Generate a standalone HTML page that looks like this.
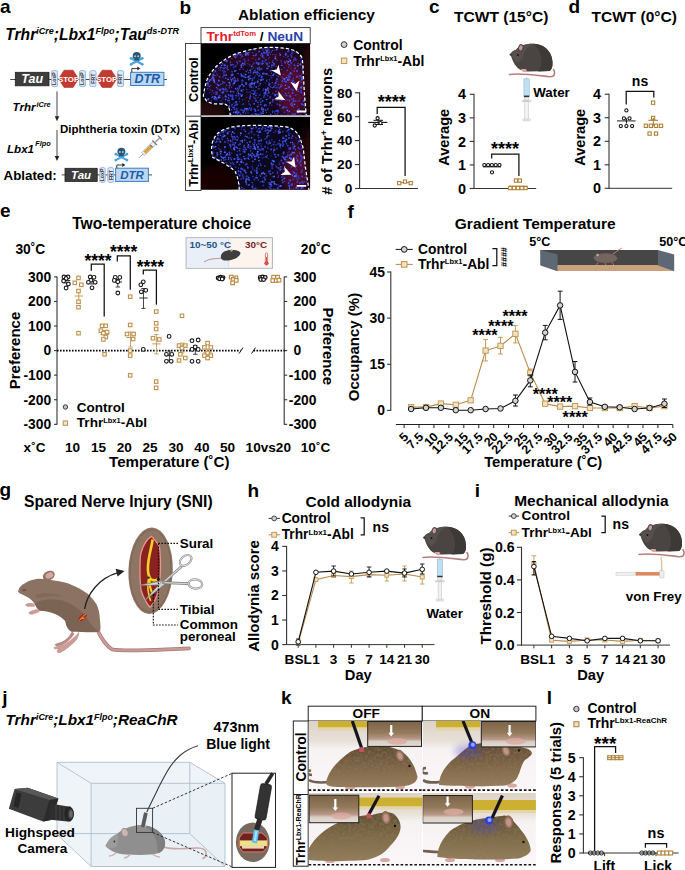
<!DOCTYPE html>
<html><head><meta charset="utf-8"><style>
html,body{margin:0;padding:0;background:#fff;width:685px;height:870px;overflow:hidden}
svg{display:block;font-family:"Liberation Sans", sans-serif}
</style></head><body>
<svg width="685" height="870" viewBox="0 0 685 870">
<rect width="685" height="870" fill="#fff"/>
<text x="0" y="13.3" font-size="19" text-anchor="start" fill="#000" font-weight="bold"><tspan>a</tspan></text>
<text x="5.3" y="39.6" font-size="15.6" text-anchor="start" fill="#000" font-weight="bold" font-style="italic"><tspan>Trhr</tspan><tspan dy="-5.3" font-size="9.05">iCre</tspan><tspan dy="5.3">;Lbx1</tspan><tspan dy="-5.3" font-size="9.05">Flpo</tspan><tspan dy="5.3">;Tau</tspan><tspan dy="-5.3" font-size="9.05">ds-DTR</tspan></text>
<line x1="10.2" y1="79.5" x2="167" y2="79.5" stroke="#333" stroke-width="0.9"/>
<rect x="15.3" y="72.3" width="33.7" height="13.5" fill="#3d3d3d" stroke="#222" stroke-width="0.8" rx="0"/>
<text x="32.15" y="83.45" font-size="12.5" text-anchor="middle" fill="#fff" font-weight="bold" font-style="italic"><tspan>Tau</tspan></text>
<rect x="51.6" y="70.6" width="6.0" height="16.0" fill="#dde9f7" stroke="#86a9d8" stroke-width="0.8" rx="1.6"/>
<text x="56.4" y="78.6" font-size="5.2" text-anchor="middle" fill="#333" font-weight="bold" transform="rotate(-90 56.4 78.6)"><tspan>LoxP</tspan></text>
<path d="M64.0 70.2 L73.1 70.2 L78.5 78.8 L73.1 87.4 L64.0 87.4 L58.6 78.8Z" fill="#c23a30" stroke="#a8302a" stroke-width="0.6"/>
<text x="68.55" y="81.60000000000001" font-size="7.8" text-anchor="middle" fill="#fff" font-weight="bold"><tspan>STOP</tspan></text>
<rect x="79.5" y="70.6" width="6.099999999999994" height="16.0" fill="#dde9f7" stroke="#86a9d8" stroke-width="0.8" rx="1.6"/>
<text x="84.35" y="78.6" font-size="5.2" text-anchor="middle" fill="#333" font-weight="bold" transform="rotate(-90 84.35 78.6)"><tspan>LoxP</tspan></text>
<rect x="89.8" y="70.6" width="6.200000000000003" height="16.0" fill="#dde9f7" stroke="#86a9d8" stroke-width="0.8" rx="1.6"/>
<text x="94.7" y="78.6" font-size="5.2" text-anchor="middle" fill="#333" font-weight="bold" transform="rotate(-90 94.7 78.6)"><tspan>FRT</tspan></text>
<path d="M102.1 70.2 L111.3 70.2 L116.8 78.8 L111.3 87.4 L102.1 87.4 L96.6 78.8Z" fill="#c23a30" stroke="#a8302a" stroke-width="0.6"/>
<text x="106.69999999999999" y="81.60000000000001" font-size="7.8" text-anchor="middle" fill="#fff" font-weight="bold"><tspan>STOP</tspan></text>
<rect x="117.4" y="70.6" width="6.199999999999989" height="16.0" fill="#dde9f7" stroke="#86a9d8" stroke-width="0.8" rx="1.6"/>
<text x="122.3" y="78.6" font-size="5.2" text-anchor="middle" fill="#333" font-weight="bold" transform="rotate(-90 122.3 78.6)"><tspan>FRT</tspan></text>
<rect x="130.6" y="72.3" width="33.30000000000001" height="13.200000000000003" fill="#bcd7f1" stroke="#3d7dc6" stroke-width="1" rx="0"/>
<text x="147.25" y="83.30000000000001" font-size="12.5" text-anchor="middle" fill="#1d5ca6" font-weight="bold" font-style="italic"><tspan>DTR</tspan></text>
<path d="M131.8 72.3 V68.6 H137.8" fill="none" stroke="#222" stroke-width="0.9"/>
<path d="M140.3 68.6 l-3 -2 v4z" fill="#222" stroke="none" stroke-width="1"/>
<path d="M131.1 58.3 L142.29999999999998 64.3" fill="none" stroke="#4aa3df" stroke-width="2.1" stroke-linecap="round"/>
<circle cx="131.1" cy="58.3" r="1.3" fill="#4aa3df" stroke="none" stroke-width="0"/>
<circle cx="142.29999999999998" cy="64.3" r="1.3" fill="#4aa3df" stroke="none" stroke-width="0"/>
<path d="M131.1 64.3 L142.29999999999998 58.3" fill="none" stroke="#4aa3df" stroke-width="2.1" stroke-linecap="round"/>
<circle cx="131.1" cy="64.3" r="1.3" fill="#4aa3df" stroke="none" stroke-width="0"/>
<circle cx="142.29999999999998" cy="58.3" r="1.3" fill="#4aa3df" stroke="none" stroke-width="0"/>
<path d="M132.7 55.9 a4.0 4.0 0 1 1 8.0 0 c0 1.6 -0.6 2.4 -1.6 2.9 v1.6 h-4.8 v-1.6 c-1 -0.5 -1.6 -1.3 -1.6 -2.9z" fill="#2c5670"/>
<circle cx="135.2" cy="56.199999999999996" r="1.0" fill="#9cc7e8" stroke="none" stroke-width="0"/>
<circle cx="138.2" cy="56.199999999999996" r="1.0" fill="#9cc7e8" stroke="none" stroke-width="0"/>
<line x1="57" y1="91.4" x2="57" y2="118" stroke="#444" stroke-width="1"/>
<path d="M57 121.3 l-2.3 -5 h4.6z" fill="#222" stroke="none" stroke-width="1"/>
<line x1="57" y1="130" x2="57" y2="157.5" stroke="#444" stroke-width="1"/>
<path d="M57 160.9 l-2.3 -5 h4.6z" fill="#222" stroke="none" stroke-width="1"/>
<text x="12.6" y="111.1" font-size="11.6" font-weight="bold" font-style="italic">Trhr<tspan dx="0.8" dy="-4.6" font-size="7.3">iCre</tspan></text>
<text x="60" y="132.7" font-size="11.5" text-anchor="start" fill="#000" font-weight="bold"><tspan>Diphtheria toxin (DTx)</tspan></text>
<text x="7" y="152.9" font-size="11.6" font-weight="bold" font-style="italic">Lbx1<tspan dx="1.3" dy="-7" font-size="7.3">Flpo</tspan></text>
<text x="3.6" y="179.5" font-size="13.3" text-anchor="start" fill="#000" font-weight="bold"><tspan>Ablated:</tspan></text>
<line x1="61.7" y1="174.9" x2="152" y2="174.9" stroke="#333" stroke-width="0.9"/>
<rect x="65" y="168.3" width="32.2" height="13.099999999999994" fill="#3d3d3d" stroke="#222" stroke-width="0.8" rx="0"/>
<text x="81.1" y="179.25000000000003" font-size="11.5" text-anchor="middle" fill="#fff" font-weight="bold" font-style="italic"><tspan>Tau</tspan></text>
<rect x="99.8" y="167.6" width="5.400000000000006" height="14.800000000000011" fill="#dde9f7" stroke="#86a9d8" stroke-width="0.8" rx="1.6"/>
<text x="104.3" y="175.0" font-size="5.2" text-anchor="middle" fill="#333" font-weight="bold" transform="rotate(-90 104.3 175.0)"><tspan>LoxP</tspan></text>
<rect x="107.8" y="167.6" width="5.799999999999997" height="14.800000000000011" fill="#dde9f7" stroke="#86a9d8" stroke-width="0.8" rx="1.6"/>
<text x="112.49999999999999" y="175.0" font-size="5.2" text-anchor="middle" fill="#333" font-weight="bold" transform="rotate(-90 112.49999999999999 175.0)"><tspan>FRT</tspan></text>
<rect x="115.6" y="168.2" width="32.80000000000001" height="13.200000000000017" fill="#bcd7f1" stroke="#3d7dc6" stroke-width="1" rx="0"/>
<text x="132.0" y="179.20000000000002" font-size="11.5" text-anchor="middle" fill="#1d5ca6" font-weight="bold" font-style="italic"><tspan>DTR</tspan></text>
<path d="M116.8 168.2 V165 H122.8" fill="none" stroke="#222" stroke-width="0.9"/>
<path d="M125.3 165 l-3 -2 v4z" fill="#222" stroke="none" stroke-width="1"/>
<path d="M115.80000000000001 154.10000000000002 L127.0 160.10000000000002" fill="none" stroke="#4aa3df" stroke-width="2.1" stroke-linecap="round"/>
<circle cx="115.80000000000001" cy="154.10000000000002" r="1.3" fill="#4aa3df" stroke="none" stroke-width="0"/>
<circle cx="127.0" cy="160.10000000000002" r="1.3" fill="#4aa3df" stroke="none" stroke-width="0"/>
<path d="M115.80000000000001 160.10000000000002 L127.0 154.10000000000002" fill="none" stroke="#4aa3df" stroke-width="2.1" stroke-linecap="round"/>
<circle cx="115.80000000000001" cy="160.10000000000002" r="1.3" fill="#4aa3df" stroke="none" stroke-width="0"/>
<circle cx="127.0" cy="154.10000000000002" r="1.3" fill="#4aa3df" stroke="none" stroke-width="0"/>
<path d="M117.4 151.70000000000002 a4.0 4.0 0 1 1 8.0 0 c0 1.6 -0.6 2.4 -1.6 2.9 v1.6 h-4.8 v-1.6 c-1 -0.5 -1.6 -1.3 -1.6 -2.9z" fill="#2c5670"/>
<circle cx="119.9" cy="152.00000000000003" r="1.0" fill="#9cc7e8" stroke="none" stroke-width="0"/>
<circle cx="122.9" cy="152.00000000000003" r="1.0" fill="#9cc7e8" stroke="none" stroke-width="0"/>
<g transform="translate(150 147.3) rotate(-44)"><line x1="-9.5" y1="0" x2="-15.5" y2="0" stroke="#777" stroke-width="0.6"/><rect x="-9.5" y="-2" width="15.5" height="4" fill="#f4f4f4" stroke="#8a8a8a" stroke-width="0.6"/><rect x="-7.6" y="-1.5" width="9" height="3" fill="#d9a23a"/><rect x="1.4" y="-1.7" width="1" height="3.4" fill="#555"/><rect x="6" y="-3.4" width="1.1" height="6.8" fill="#777"/><rect x="7.1" y="-0.8" width="6.2" height="1.6" fill="#aaa"/><rect x="13.2" y="-2.8" width="1.2" height="5.6" fill="#777"/></g>
<text x="179.6" y="14.2" font-size="19" text-anchor="start" fill="#000" font-weight="bold"><tspan>b</tspan></text>
<text x="238" y="20.4" font-size="15.4" text-anchor="start" fill="#000" font-weight="bold"><tspan>Ablation efficiency</tspan></text>
<rect x="201" y="27.6" width="109.2" height="15.9" fill="#fff" stroke="#333" stroke-width="0.9" rx="0"/>
<text x="206.5" y="41" font-size="13.7" text-anchor="start" fill="#000" font-weight="bold"><tspan fill="#e3202a">Trhr</tspan><tspan dy="-4.66" font-size="7.67" fill="#e3202a">tdTom</tspan><tspan fill="#000" dy="4.66"> / </tspan><tspan fill="#2a42aa">NeuN</tspan></text>
<rect x="185.5" y="43.5" width="15.5" height="147" fill="#fff" stroke="#333" stroke-width="0.9" rx="0"/>
<line x1="185.5" y1="116.2" x2="201" y2="116.2" stroke="#333" stroke-width="0.9"/>
<text x="197.6" y="79.5" font-size="12.6" text-anchor="middle" fill="#000" font-weight="bold" transform="rotate(-90 197.6 79.5)"><tspan>Control</tspan></text>
<text x="197.6" y="153.2" font-size="12.6" text-anchor="middle" fill="#000" font-weight="bold" transform="rotate(-90 197.6 153.2)"><tspan>Trhr</tspan><tspan dy="-4.28" font-size="7.81">Lbx1</tspan><tspan dy="4.28">-Abl</tspan></text>
<clipPath id="clip11"><rect x="201" y="43.5" width="109.2" height="72"/></clipPath>
<clipPath id="in11"><path d="M203.3 96 C205 85 207 78 209.8 74.7 C214 68 219 63 224.5 60 C230 56 236 53.5 242.5 51.8 C249 50 255 48.5 262.1 47.7 C270 47 278 47.5 285 48.2 C290 49 294 50 296.5 51.8 C299.5 54 301.5 56 302.2 58.4 C303 65 303.3 70 303.3 74.7 L304.6 96 L306.3 116 L230.2 116 C230 111 229.5 109 228.6 107.4 C227 105 226 104.3 224.5 104.1 L213.1 103.8 C210 103 208 102 206.5 100.9 Z"/></clipPath>
<g clip-path="url(#clip11)">
<rect x="201" y="43.5" width="109.2" height="72" fill="#000" stroke="none" stroke-width="1" rx="0"/>
<filter id="bl11" x="-50%" y="-50%" width="200%" height="200%"><feGaussianBlur stdDeviation="4"/></filter>
<ellipse cx="205" cy="112" rx="22" ry="10" fill="#2a0808" opacity="0.9" filter="url(#bl11)"/>
<ellipse cx="308" cy="80" rx="6" ry="40" fill="#3a0818" opacity="0.8" filter="url(#bl11)"/>
<g clip-path="url(#in11)">
<rect x="201" y="43.5" width="109.2" height="72" fill="#0b0820" stroke="none" stroke-width="1" rx="0"/>
<ellipse cx="292" cy="90" rx="16" ry="28" fill="#6a1030" opacity="0.75" filter="url(#bl11)"/>
<ellipse cx="262" cy="58" rx="40" ry="10" fill="#6a1030" opacity="0.35" filter="url(#bl11)"/>
<ellipse cx="220" cy="80" rx="14" ry="20" fill="#6a1030" opacity="0.25" filter="url(#bl11)"/>
<circle cx="250.4" cy="83.8" r="1.01" fill="#3a4ed6"/>
<circle cx="250.3" cy="105.1" r="0.64" fill="#5468ff"/>
<circle cx="253.0" cy="87.7" r="0.64" fill="#3a4ed6"/>
<circle cx="234.1" cy="50.0" r="0.95" fill="#2a34a8"/>
<circle cx="270.3" cy="86.4" r="0.75" fill="#3a4ed6"/>
<circle cx="272.4" cy="87.8" r="0.63" fill="#3346dc"/>
<circle cx="291.8" cy="48.0" r="0.57" fill="#2a3cc4"/>
<circle cx="266.5" cy="99.5" r="0.71" fill="#5468ff"/>
<circle cx="293.0" cy="80.9" r="0.87" fill="#3a4ed6"/>
<circle cx="201.5" cy="49.6" r="0.88" fill="#3a4ed6"/>
<circle cx="309.9" cy="115.2" r="0.97" fill="#2a34a8"/>
<circle cx="228.7" cy="98.1" r="0.81" fill="#3346dc"/>
<circle cx="208.7" cy="98.7" r="0.75" fill="#4559f2"/>
<circle cx="243.2" cy="112.5" r="0.97" fill="#3346dc"/>
<circle cx="224.3" cy="110.2" r="0.58" fill="#3a4ed6"/>
<circle cx="308.1" cy="72.1" r="0.59" fill="#2a34a8"/>
<circle cx="222.7" cy="92.1" r="0.72" fill="#4559f2"/>
<circle cx="237.3" cy="112.9" r="0.93" fill="#3346dc"/>
<circle cx="215.7" cy="94.4" r="0.56" fill="#3a4ed6"/>
<circle cx="288.0" cy="56.3" r="0.83" fill="#3a4ed6"/>
<circle cx="256.6" cy="114.4" r="0.93" fill="#3a4ed6"/>
<circle cx="271.3" cy="51.9" r="0.76" fill="#2a3cc4"/>
<circle cx="201.1" cy="105.7" r="1.04" fill="#5468ff"/>
<circle cx="234.2" cy="107.2" r="0.66" fill="#3a4ed6"/>
<circle cx="309.7" cy="86.8" r="0.84" fill="#3346dc"/>
<circle cx="309.0" cy="58.9" r="0.68" fill="#5468ff"/>
<circle cx="236.9" cy="64.8" r="0.59" fill="#3346dc"/>
<circle cx="223.8" cy="89.3" r="0.56" fill="#4559f2"/>
<circle cx="241.6" cy="76.1" r="1.03" fill="#3a4ed6"/>
<circle cx="291.9" cy="53.3" r="0.74" fill="#2a34a8"/>
<circle cx="217.8" cy="108.9" r="0.96" fill="#2a3cc4"/>
<circle cx="280.2" cy="54.9" r="0.86" fill="#5468ff"/>
<circle cx="222.5" cy="111.9" r="0.99" fill="#5468ff"/>
<circle cx="209.6" cy="46.9" r="0.60" fill="#5468ff"/>
<circle cx="306.1" cy="60.7" r="0.90" fill="#4559f2"/>
<circle cx="247.0" cy="108.6" r="0.80" fill="#5468ff"/>
<circle cx="220.2" cy="95.4" r="0.58" fill="#2a3cc4"/>
<circle cx="253.3" cy="90.6" r="0.86" fill="#3346dc"/>
<circle cx="231.6" cy="109.5" r="0.65" fill="#3346dc"/>
<circle cx="208.6" cy="73.1" r="0.67" fill="#3346dc"/>
<circle cx="220.2" cy="70.1" r="0.84" fill="#2a3cc4"/>
<circle cx="211.1" cy="53.5" r="0.78" fill="#4559f2"/>
<circle cx="272.7" cy="93.3" r="0.84" fill="#2a3cc4"/>
<circle cx="265.4" cy="110.0" r="0.79" fill="#4559f2"/>
<circle cx="277.5" cy="112.8" r="0.56" fill="#2a34a8"/>
<circle cx="209.2" cy="48.3" r="0.71" fill="#2a3cc4"/>
<circle cx="310.1" cy="48.9" r="0.82" fill="#2a34a8"/>
<circle cx="205.9" cy="110.9" r="0.92" fill="#2a3cc4"/>
<circle cx="287.6" cy="109.4" r="0.73" fill="#2a34a8"/>
<circle cx="252.7" cy="49.1" r="0.98" fill="#3346dc"/>
<circle cx="295.3" cy="84.7" r="0.86" fill="#3a4ed6"/>
<circle cx="242.4" cy="44.4" r="0.59" fill="#3346dc"/>
<circle cx="270.8" cy="115.0" r="0.99" fill="#2a34a8"/>
<circle cx="237.1" cy="110.8" r="0.90" fill="#3a4ed6"/>
<circle cx="249.1" cy="103.9" r="0.59" fill="#5468ff"/>
<circle cx="204.3" cy="86.8" r="0.79" fill="#2a3cc4"/>
<circle cx="305.5" cy="51.6" r="0.94" fill="#2a34a8"/>
<circle cx="301.5" cy="61.9" r="0.56" fill="#4559f2"/>
<circle cx="216.6" cy="87.5" r="0.81" fill="#4559f2"/>
<circle cx="273.1" cy="75.3" r="1.00" fill="#4559f2"/>
<circle cx="245.2" cy="61.5" r="0.87" fill="#2a3cc4"/>
<circle cx="297.1" cy="71.2" r="0.84" fill="#4559f2"/>
<circle cx="223.9" cy="53.2" r="0.73" fill="#3346dc"/>
<circle cx="278.7" cy="111.9" r="0.69" fill="#2a3cc4"/>
<circle cx="213.3" cy="77.4" r="1.01" fill="#3a4ed6"/>
<circle cx="242.8" cy="80.9" r="0.89" fill="#2a34a8"/>
<circle cx="292.6" cy="114.2" r="0.78" fill="#3346dc"/>
<circle cx="291.5" cy="63.5" r="0.85" fill="#2a34a8"/>
<circle cx="278.4" cy="84.6" r="0.70" fill="#5468ff"/>
<circle cx="203.1" cy="53.3" r="0.78" fill="#3346dc"/>
<circle cx="285.0" cy="62.7" r="0.94" fill="#3346dc"/>
<circle cx="308.5" cy="51.8" r="0.60" fill="#5468ff"/>
<circle cx="272.5" cy="101.6" r="1.03" fill="#2a34a8"/>
<circle cx="222.6" cy="102.8" r="0.68" fill="#2a34a8"/>
<circle cx="202.2" cy="77.5" r="0.91" fill="#2a3cc4"/>
<circle cx="225.7" cy="99.6" r="0.82" fill="#5468ff"/>
<circle cx="255.6" cy="115.3" r="0.63" fill="#2a34a8"/>
<circle cx="300.0" cy="49.8" r="1.02" fill="#2a34a8"/>
<circle cx="243.4" cy="75.9" r="0.65" fill="#3346dc"/>
<circle cx="242.1" cy="84.5" r="0.99" fill="#4559f2"/>
<circle cx="251.6" cy="90.4" r="0.65" fill="#2a34a8"/>
<circle cx="295.6" cy="101.0" r="1.01" fill="#3346dc"/>
<circle cx="224.3" cy="108.3" r="1.04" fill="#4559f2"/>
<circle cx="259.6" cy="100.4" r="0.71" fill="#2a34a8"/>
<circle cx="294.5" cy="68.6" r="0.59" fill="#3a4ed6"/>
<circle cx="238.4" cy="73.8" r="0.69" fill="#3346dc"/>
<circle cx="224.8" cy="106.0" r="0.76" fill="#3346dc"/>
<circle cx="219.9" cy="67.6" r="0.94" fill="#2a3cc4"/>
<circle cx="252.4" cy="115.5" r="1.00" fill="#5468ff"/>
<circle cx="292.7" cy="93.1" r="1.02" fill="#3a4ed6"/>
<circle cx="264.2" cy="93.1" r="0.93" fill="#3a4ed6"/>
<circle cx="258.5" cy="64.4" r="0.91" fill="#2a34a8"/>
<circle cx="218.9" cy="80.5" r="1.00" fill="#4559f2"/>
<circle cx="235.0" cy="70.9" r="0.97" fill="#5468ff"/>
<circle cx="223.7" cy="104.8" r="1.03" fill="#5468ff"/>
<circle cx="230.8" cy="79.3" r="0.76" fill="#3346dc"/>
<circle cx="255.9" cy="87.1" r="0.56" fill="#3346dc"/>
<circle cx="257.3" cy="72.3" r="0.95" fill="#5468ff"/>
<circle cx="214.3" cy="50.2" r="0.63" fill="#5468ff"/>
<circle cx="251.1" cy="109.8" r="0.95" fill="#3a4ed6"/>
<circle cx="230.4" cy="77.6" r="0.61" fill="#3a4ed6"/>
<circle cx="299.4" cy="110.9" r="1.01" fill="#5468ff"/>
<circle cx="235.6" cy="57.3" r="0.86" fill="#4559f2"/>
<circle cx="215.1" cy="99.6" r="0.56" fill="#2a3cc4"/>
<circle cx="218.0" cy="44.4" r="0.69" fill="#2a34a8"/>
<circle cx="239.8" cy="88.1" r="0.60" fill="#2a34a8"/>
<circle cx="264.6" cy="104.8" r="0.86" fill="#2a34a8"/>
<circle cx="222.6" cy="81.7" r="0.77" fill="#3a4ed6"/>
<circle cx="270.1" cy="102.9" r="0.86" fill="#5468ff"/>
<circle cx="223.3" cy="89.0" r="0.87" fill="#5468ff"/>
<circle cx="224.6" cy="82.6" r="0.84" fill="#2a3cc4"/>
<circle cx="226.4" cy="96.8" r="0.96" fill="#2a3cc4"/>
<circle cx="235.5" cy="66.2" r="1.01" fill="#2a3cc4"/>
<circle cx="286.0" cy="57.5" r="0.60" fill="#2a3cc4"/>
<circle cx="215.5" cy="49.8" r="0.74" fill="#3a4ed6"/>
<circle cx="291.9" cy="73.9" r="0.94" fill="#2a3cc4"/>
<circle cx="222.9" cy="88.7" r="0.95" fill="#3346dc"/>
<circle cx="222.9" cy="92.6" r="1.01" fill="#4559f2"/>
<circle cx="213.6" cy="79.9" r="0.93" fill="#5468ff"/>
<circle cx="310.0" cy="103.5" r="0.95" fill="#3a4ed6"/>
<circle cx="212.6" cy="46.2" r="0.83" fill="#5468ff"/>
<circle cx="299.8" cy="78.2" r="0.64" fill="#3346dc"/>
<circle cx="223.3" cy="104.0" r="1.05" fill="#2a34a8"/>
<circle cx="211.4" cy="48.0" r="1.03" fill="#3a4ed6"/>
<circle cx="209.5" cy="50.5" r="0.75" fill="#3a4ed6"/>
<circle cx="257.3" cy="74.5" r="0.85" fill="#3346dc"/>
<circle cx="270.2" cy="46.4" r="0.65" fill="#3a4ed6"/>
<circle cx="250.6" cy="96.7" r="0.75" fill="#2a3cc4"/>
<circle cx="267.1" cy="50.3" r="0.95" fill="#4559f2"/>
<circle cx="298.5" cy="101.2" r="0.90" fill="#2a34a8"/>
<circle cx="303.6" cy="84.5" r="0.65" fill="#5468ff"/>
<circle cx="308.3" cy="101.4" r="0.68" fill="#3346dc"/>
<circle cx="282.3" cy="99.5" r="0.96" fill="#3a4ed6"/>
<circle cx="215.5" cy="67.3" r="0.82" fill="#4559f2"/>
<circle cx="284.8" cy="98.6" r="0.75" fill="#2a34a8"/>
<circle cx="221.2" cy="100.9" r="0.70" fill="#3346dc"/>
<circle cx="202.2" cy="69.1" r="0.87" fill="#5468ff"/>
<circle cx="206.4" cy="63.2" r="1.03" fill="#4559f2"/>
<circle cx="237.9" cy="91.0" r="0.83" fill="#5468ff"/>
<circle cx="209.4" cy="80.6" r="0.80" fill="#2a3cc4"/>
<circle cx="277.6" cy="98.3" r="1.04" fill="#3346dc"/>
<circle cx="213.5" cy="51.3" r="0.67" fill="#3a4ed6"/>
<circle cx="244.8" cy="47.1" r="0.65" fill="#3a4ed6"/>
<circle cx="202.2" cy="62.1" r="0.69" fill="#4559f2"/>
<circle cx="261.1" cy="80.1" r="1.03" fill="#5468ff"/>
<circle cx="293.4" cy="50.7" r="0.77" fill="#2a34a8"/>
<circle cx="209.3" cy="86.5" r="0.93" fill="#3346dc"/>
<circle cx="243.2" cy="111.1" r="0.74" fill="#2a3cc4"/>
<circle cx="294.4" cy="82.5" r="0.85" fill="#3a4ed6"/>
<circle cx="304.2" cy="73.8" r="0.81" fill="#5468ff"/>
<circle cx="235.1" cy="81.7" r="0.79" fill="#4559f2"/>
<circle cx="262.2" cy="63.9" r="0.91" fill="#4559f2"/>
<circle cx="203.9" cy="99.1" r="0.84" fill="#2a34a8"/>
<circle cx="218.1" cy="97.8" r="0.74" fill="#4559f2"/>
<circle cx="282.7" cy="47.1" r="1.04" fill="#4559f2"/>
<circle cx="209.0" cy="108.7" r="0.76" fill="#3a4ed6"/>
<circle cx="228.4" cy="97.9" r="0.57" fill="#3346dc"/>
<circle cx="303.3" cy="95.5" r="0.78" fill="#2a3cc4"/>
<circle cx="266.9" cy="51.8" r="0.86" fill="#3a4ed6"/>
<circle cx="213.9" cy="105.5" r="0.73" fill="#2a3cc4"/>
<circle cx="214.6" cy="75.4" r="0.88" fill="#3a4ed6"/>
<circle cx="266.6" cy="89.6" r="0.89" fill="#4559f2"/>
<circle cx="286.0" cy="81.7" r="1.05" fill="#4559f2"/>
<circle cx="281.2" cy="60.7" r="0.61" fill="#4559f2"/>
<circle cx="286.6" cy="88.5" r="0.73" fill="#4559f2"/>
<circle cx="267.6" cy="95.7" r="0.90" fill="#2a3cc4"/>
<circle cx="270.1" cy="97.7" r="0.64" fill="#2a3cc4"/>
<circle cx="255.8" cy="90.5" r="0.65" fill="#2a34a8"/>
<circle cx="205.3" cy="47.9" r="0.69" fill="#3a4ed6"/>
<circle cx="203.9" cy="46.2" r="0.66" fill="#4559f2"/>
<circle cx="208.9" cy="49.7" r="0.89" fill="#5468ff"/>
<circle cx="226.6" cy="114.2" r="0.79" fill="#4559f2"/>
<circle cx="224.0" cy="68.2" r="0.92" fill="#3346dc"/>
<circle cx="288.6" cy="75.7" r="0.96" fill="#2a3cc4"/>
<circle cx="249.5" cy="97.3" r="0.75" fill="#2a3cc4"/>
<circle cx="241.3" cy="90.6" r="1.04" fill="#4559f2"/>
<circle cx="232.8" cy="98.1" r="0.96" fill="#2a3cc4"/>
<circle cx="247.7" cy="70.1" r="0.60" fill="#4559f2"/>
<circle cx="209.6" cy="49.5" r="0.83" fill="#3a4ed6"/>
<circle cx="290.0" cy="76.9" r="0.96" fill="#3346dc"/>
<circle cx="209.3" cy="58.9" r="0.88" fill="#3346dc"/>
<circle cx="276.9" cy="79.1" r="0.93" fill="#4559f2"/>
<circle cx="231.9" cy="53.8" r="0.73" fill="#2a34a8"/>
<circle cx="236.7" cy="108.8" r="0.71" fill="#3a4ed6"/>
<circle cx="263.2" cy="109.6" r="1.02" fill="#4559f2"/>
<circle cx="248.8" cy="101.3" r="0.70" fill="#4559f2"/>
<circle cx="225.2" cy="113.2" r="0.91" fill="#5468ff"/>
<circle cx="228.1" cy="69.5" r="0.73" fill="#4559f2"/>
<circle cx="274.9" cy="85.6" r="0.95" fill="#2a34a8"/>
<circle cx="262.6" cy="100.9" r="0.82" fill="#5468ff"/>
<circle cx="262.5" cy="56.2" r="0.93" fill="#4559f2"/>
<circle cx="289.7" cy="59.4" r="0.58" fill="#2a3cc4"/>
<circle cx="263.0" cy="113.1" r="0.88" fill="#3a4ed6"/>
<circle cx="208.0" cy="82.9" r="0.94" fill="#3346dc"/>
<circle cx="237.5" cy="63.2" r="0.60" fill="#4559f2"/>
<circle cx="210.2" cy="89.2" r="0.62" fill="#2a34a8"/>
<circle cx="290.1" cy="73.9" r="0.91" fill="#3a4ed6"/>
<circle cx="284.6" cy="81.1" r="0.93" fill="#3a4ed6"/>
<circle cx="239.3" cy="101.6" r="0.72" fill="#2a3cc4"/>
<circle cx="254.9" cy="82.2" r="0.91" fill="#2a34a8"/>
<circle cx="268.5" cy="46.8" r="0.93" fill="#2a34a8"/>
<circle cx="239.1" cy="43.8" r="0.74" fill="#3346dc"/>
<circle cx="298.0" cy="112.5" r="0.87" fill="#5468ff"/>
<circle cx="240.5" cy="44.2" r="0.60" fill="#3a4ed6"/>
<circle cx="301.0" cy="61.2" r="0.63" fill="#2a34a8"/>
<circle cx="242.0" cy="55.6" r="0.65" fill="#3a4ed6"/>
<circle cx="258.8" cy="63.2" r="0.99" fill="#3a4ed6"/>
<circle cx="234.7" cy="51.8" r="0.87" fill="#2a3cc4"/>
<circle cx="300.6" cy="97.7" r="0.56" fill="#3a4ed6"/>
<circle cx="300.3" cy="46.1" r="0.60" fill="#2a3cc4"/>
<circle cx="240.2" cy="85.9" r="0.85" fill="#3a4ed6"/>
<circle cx="266.0" cy="59.6" r="0.64" fill="#4559f2"/>
<circle cx="245.0" cy="109.1" r="1.02" fill="#2a34a8"/>
<circle cx="260.9" cy="102.3" r="0.79" fill="#4559f2"/>
<circle cx="253.9" cy="72.5" r="1.03" fill="#2a34a8"/>
<circle cx="260.8" cy="112.4" r="0.79" fill="#2a3cc4"/>
<circle cx="244.6" cy="59.2" r="0.62" fill="#3a4ed6"/>
<circle cx="307.6" cy="100.7" r="0.94" fill="#3346dc"/>
<circle cx="272.8" cy="60.6" r="0.56" fill="#3a4ed6"/>
<circle cx="299.9" cy="75.9" r="0.67" fill="#3a4ed6"/>
<circle cx="267.2" cy="54.8" r="0.63" fill="#4559f2"/>
<circle cx="216.8" cy="108.9" r="0.96" fill="#2a3cc4"/>
<circle cx="270.6" cy="115.0" r="0.68" fill="#5468ff"/>
<circle cx="206.8" cy="84.7" r="0.64" fill="#2a3cc4"/>
<circle cx="290.7" cy="104.4" r="0.96" fill="#3346dc"/>
<circle cx="239.4" cy="87.8" r="0.81" fill="#3a4ed6"/>
<circle cx="276.8" cy="49.5" r="0.92" fill="#5468ff"/>
<circle cx="294.6" cy="65.4" r="0.94" fill="#3a4ed6"/>
<circle cx="222.1" cy="92.6" r="0.94" fill="#3a4ed6"/>
<circle cx="223.8" cy="82.6" r="0.81" fill="#2a3cc4"/>
<circle cx="304.4" cy="112.9" r="0.71" fill="#3a4ed6"/>
<circle cx="209.3" cy="65.5" r="0.78" fill="#2a34a8"/>
<circle cx="208.3" cy="48.9" r="0.62" fill="#2a34a8"/>
<circle cx="244.1" cy="76.7" r="1.03" fill="#3346dc"/>
<circle cx="272.4" cy="44.4" r="0.74" fill="#2a34a8"/>
<circle cx="252.9" cy="64.6" r="0.61" fill="#3346dc"/>
<circle cx="294.5" cy="104.3" r="0.91" fill="#5468ff"/>
<circle cx="217.6" cy="88.7" r="1.02" fill="#2a34a8"/>
<circle cx="233.6" cy="67.8" r="0.75" fill="#2a34a8"/>
<circle cx="210.5" cy="57.1" r="0.74" fill="#3346dc"/>
<circle cx="237.0" cy="111.5" r="0.83" fill="#2a34a8"/>
<circle cx="270.9" cy="75.7" r="0.74" fill="#3346dc"/>
<circle cx="216.4" cy="50.3" r="0.89" fill="#2a34a8"/>
<circle cx="220.6" cy="57.4" r="0.57" fill="#3a4ed6"/>
<circle cx="265.7" cy="50.0" r="0.66" fill="#2a3cc4"/>
<circle cx="308.8" cy="74.7" r="0.94" fill="#4559f2"/>
<circle cx="301.5" cy="74.2" r="0.81" fill="#2a34a8"/>
<circle cx="223.4" cy="54.2" r="0.90" fill="#3a4ed6"/>
<circle cx="237.2" cy="73.2" r="0.56" fill="#3a4ed6"/>
<circle cx="267.9" cy="66.4" r="0.94" fill="#2a3cc4"/>
<circle cx="273.1" cy="87.3" r="0.56" fill="#4559f2"/>
<circle cx="221.6" cy="65.6" r="0.77" fill="#5468ff"/>
<circle cx="242.2" cy="80.2" r="0.94" fill="#3346dc"/>
<circle cx="267.8" cy="54.9" r="0.93" fill="#4559f2"/>
<circle cx="260.9" cy="68.9" r="0.80" fill="#2a3cc4"/>
<circle cx="263.7" cy="57.8" r="1.02" fill="#2a34a8"/>
<circle cx="278.2" cy="110.9" r="0.83" fill="#3346dc"/>
<circle cx="269.5" cy="57.7" r="0.59" fill="#2a3cc4"/>
<circle cx="253.2" cy="73.6" r="0.72" fill="#3346dc"/>
<circle cx="302.5" cy="69.5" r="0.78" fill="#3346dc"/>
<circle cx="250.4" cy="96.0" r="0.67" fill="#5468ff"/>
<circle cx="260.3" cy="83.9" r="0.83" fill="#4559f2"/>
<circle cx="219.4" cy="97.2" r="1.00" fill="#4559f2"/>
<circle cx="266.7" cy="52.3" r="0.96" fill="#4559f2"/>
<circle cx="275.8" cy="69.7" r="0.93" fill="#4559f2"/>
<circle cx="291.7" cy="56.9" r="0.82" fill="#3346dc"/>
<circle cx="250.6" cy="72.5" r="0.94" fill="#2a34a8"/>
<circle cx="216.1" cy="97.9" r="0.97" fill="#3a4ed6"/>
<circle cx="268.2" cy="89.6" r="0.93" fill="#2a3cc4"/>
<circle cx="222.8" cy="77.2" r="0.62" fill="#3a4ed6"/>
<circle cx="213.9" cy="72.7" r="0.72" fill="#2a3cc4"/>
<circle cx="229.8" cy="84.4" r="0.72" fill="#2a34a8"/>
<circle cx="286.6" cy="95.5" r="0.94" fill="#3a4ed6"/>
<circle cx="305.8" cy="86.7" r="0.78" fill="#3a4ed6"/>
<circle cx="298.9" cy="109.2" r="0.83" fill="#3a4ed6"/>
<circle cx="283.1" cy="78.5" r="1.05" fill="#2a34a8"/>
<circle cx="245.7" cy="74.7" r="0.83" fill="#5468ff"/>
<circle cx="237.1" cy="81.0" r="0.76" fill="#3346dc"/>
<circle cx="236.0" cy="47.4" r="0.91" fill="#3a4ed6"/>
<circle cx="280.9" cy="86.5" r="0.93" fill="#4559f2"/>
<circle cx="297.4" cy="106.6" r="0.67" fill="#3a4ed6"/>
<circle cx="227.5" cy="106.4" r="1.04" fill="#3a4ed6"/>
<circle cx="276.9" cy="81.4" r="0.67" fill="#4559f2"/>
<circle cx="272.7" cy="111.2" r="0.99" fill="#2a34a8"/>
<circle cx="306.5" cy="91.4" r="0.98" fill="#3a4ed6"/>
<circle cx="262.6" cy="55.3" r="0.87" fill="#3a4ed6"/>
<circle cx="262.9" cy="108.5" r="0.60" fill="#2a3cc4"/>
<circle cx="214.5" cy="82.2" r="1.03" fill="#3346dc"/>
<circle cx="233.3" cy="95.9" r="0.56" fill="#2a3cc4"/>
<circle cx="207.8" cy="107.9" r="0.96" fill="#3a4ed6"/>
<circle cx="216.4" cy="93.3" r="0.67" fill="#4559f2"/>
<circle cx="204.4" cy="108.2" r="0.70" fill="#3a4ed6"/>
<circle cx="216.6" cy="99.4" r="0.94" fill="#2a3cc4"/>
<circle cx="223.1" cy="105.3" r="0.90" fill="#3346dc"/>
<circle cx="222.3" cy="103.8" r="0.73" fill="#3a4ed6"/>
<circle cx="202.8" cy="89.2" r="0.90" fill="#5468ff"/>
<circle cx="223.1" cy="89.0" r="0.65" fill="#3346dc"/>
<circle cx="272.0" cy="65.5" r="0.96" fill="#4559f2"/>
<circle cx="296.0" cy="94.8" r="0.62" fill="#2a34a8"/>
<circle cx="305.5" cy="99.6" r="0.76" fill="#2a3cc4"/>
<circle cx="225.4" cy="65.6" r="0.91" fill="#2a3cc4"/>
<circle cx="230.4" cy="95.4" r="0.80" fill="#4559f2"/>
<circle cx="287.3" cy="70.3" r="0.88" fill="#3346dc"/>
<circle cx="265.4" cy="60.0" r="0.70" fill="#2a3cc4"/>
<circle cx="273.8" cy="63.4" r="0.87" fill="#3346dc"/>
<circle cx="251.5" cy="49.0" r="1.01" fill="#3346dc"/>
<circle cx="259.0" cy="46.8" r="0.85" fill="#4559f2"/>
<circle cx="259.7" cy="74.0" r="0.83" fill="#2a3cc4"/>
<circle cx="232.1" cy="97.9" r="0.67" fill="#4559f2"/>
<circle cx="281.2" cy="45.6" r="0.95" fill="#2a3cc4"/>
<circle cx="308.9" cy="45.9" r="0.78" fill="#5468ff"/>
<circle cx="243.0" cy="110.4" r="0.80" fill="#2a3cc4"/>
<circle cx="208.0" cy="99.4" r="1.00" fill="#4559f2"/>
<circle cx="272.9" cy="99.9" r="0.81" fill="#5468ff"/>
<circle cx="291.3" cy="89.2" r="1.04" fill="#2a34a8"/>
<circle cx="304.9" cy="56.0" r="0.94" fill="#2a3cc4"/>
<circle cx="213.2" cy="74.9" r="0.88" fill="#5468ff"/>
<circle cx="285.4" cy="100.1" r="0.95" fill="#2a3cc4"/>
<circle cx="229.4" cy="82.7" r="0.98" fill="#5468ff"/>
<circle cx="255.5" cy="46.0" r="0.85" fill="#2a34a8"/>
<circle cx="206.7" cy="75.8" r="0.99" fill="#4559f2"/>
<circle cx="217.6" cy="44.8" r="0.80" fill="#3a4ed6"/>
<circle cx="256.0" cy="95.6" r="0.98" fill="#3346dc"/>
<circle cx="208.9" cy="108.8" r="0.83" fill="#5468ff"/>
<circle cx="264.3" cy="95.5" r="0.86" fill="#3346dc"/>
<circle cx="235.0" cy="46.5" r="0.71" fill="#5468ff"/>
<circle cx="281.6" cy="99.7" r="0.93" fill="#3a4ed6"/>
<circle cx="210.7" cy="102.6" r="0.64" fill="#4559f2"/>
<circle cx="228.1" cy="79.3" r="0.88" fill="#5468ff"/>
<circle cx="286.9" cy="47.9" r="0.76" fill="#4559f2"/>
<circle cx="277.3" cy="94.2" r="1.03" fill="#2a3cc4"/>
<circle cx="254.5" cy="98.3" r="1.04" fill="#2a3cc4"/>
<circle cx="282.3" cy="81.1" r="1.04" fill="#3346dc"/>
<circle cx="227.3" cy="107.6" r="0.62" fill="#3a4ed6"/>
<circle cx="261.7" cy="77.5" r="1.02" fill="#3346dc"/>
<circle cx="275.2" cy="95.1" r="1.04" fill="#5468ff"/>
<circle cx="226.1" cy="61.7" r="0.83" fill="#2a3cc4"/>
<circle cx="246.7" cy="49.7" r="0.66" fill="#4559f2"/>
<circle cx="237.8" cy="114.1" r="0.86" fill="#3346dc"/>
<circle cx="218.5" cy="85.6" r="1.05" fill="#2a34a8"/>
<circle cx="238.5" cy="93.5" r="0.98" fill="#5468ff"/>
<circle cx="301.9" cy="56.3" r="0.98" fill="#2a3cc4"/>
<circle cx="242.6" cy="99.8" r="0.66" fill="#4559f2"/>
<circle cx="227.9" cy="100.6" r="0.95" fill="#3a4ed6"/>
<circle cx="223.2" cy="58.9" r="0.78" fill="#4559f2"/>
<circle cx="252.6" cy="78.8" r="0.86" fill="#2a3cc4"/>
<circle cx="295.2" cy="58.2" r="0.74" fill="#3346dc"/>
<circle cx="206.2" cy="63.4" r="1.02" fill="#5468ff"/>
<circle cx="203.0" cy="56.6" r="0.68" fill="#3a4ed6"/>
<circle cx="263.0" cy="90.3" r="0.66" fill="#3346dc"/>
<circle cx="240.4" cy="54.6" r="1.02" fill="#4559f2"/>
<circle cx="216.0" cy="60.8" r="0.97" fill="#3346dc"/>
<circle cx="203.2" cy="66.7" r="0.74" fill="#3346dc"/>
<circle cx="294.3" cy="71.0" r="0.68" fill="#5468ff"/>
<circle cx="274.1" cy="65.3" r="0.85" fill="#3a4ed6"/>
<circle cx="205.5" cy="54.4" r="0.85" fill="#3346dc"/>
<circle cx="223.8" cy="73.1" r="0.79" fill="#2a34a8"/>
<circle cx="215.9" cy="94.4" r="0.68" fill="#2a34a8"/>
<circle cx="250.3" cy="70.6" r="0.99" fill="#4559f2"/>
<circle cx="259.4" cy="75.9" r="0.62" fill="#5468ff"/>
<circle cx="295.6" cy="59.8" r="0.70" fill="#4559f2"/>
<circle cx="267.8" cy="53.6" r="0.97" fill="#2a34a8"/>
<circle cx="269.8" cy="84.2" r="0.95" fill="#2a34a8"/>
<circle cx="233.6" cy="91.8" r="1.01" fill="#2a3cc4"/>
<circle cx="261.9" cy="68.9" r="0.61" fill="#4559f2"/>
<circle cx="226.6" cy="89.0" r="0.59" fill="#3a4ed6"/>
<circle cx="214.1" cy="79.0" r="0.79" fill="#4559f2"/>
<circle cx="232.1" cy="94.1" r="0.66" fill="#3a4ed6"/>
<circle cx="223.0" cy="98.8" r="0.73" fill="#2a34a8"/>
<circle cx="227.2" cy="50.2" r="0.72" fill="#3a4ed6"/>
<circle cx="288.8" cy="77.9" r="0.68" fill="#5468ff"/>
<circle cx="234.7" cy="109.3" r="1.00" fill="#3346dc"/>
<circle cx="240.8" cy="48.0" r="0.75" fill="#3346dc"/>
<circle cx="242.2" cy="104.5" r="0.70" fill="#2a34a8"/>
<circle cx="236.5" cy="61.7" r="0.56" fill="#4559f2"/>
<circle cx="236.3" cy="70.4" r="0.70" fill="#2a34a8"/>
<circle cx="297.9" cy="89.7" r="0.74" fill="#4559f2"/>
<circle cx="305.2" cy="69.6" r="0.84" fill="#2a3cc4"/>
<circle cx="285.2" cy="88.7" r="0.86" fill="#3a4ed6"/>
<circle cx="267.9" cy="48.1" r="0.58" fill="#3a4ed6"/>
<circle cx="297.1" cy="71.0" r="1.00" fill="#3346dc"/>
<circle cx="288.8" cy="92.7" r="0.69" fill="#3a4ed6"/>
<circle cx="240.4" cy="113.8" r="0.62" fill="#2a3cc4"/>
<circle cx="230.5" cy="62.1" r="0.66" fill="#5468ff"/>
<circle cx="201.1" cy="82.7" r="0.75" fill="#2a3cc4"/>
<circle cx="260.7" cy="104.6" r="0.93" fill="#3346dc"/>
<circle cx="269.2" cy="83.9" r="0.97" fill="#4559f2"/>
<circle cx="229.8" cy="51.0" r="0.56" fill="#2a34a8"/>
<circle cx="223.7" cy="72.0" r="0.63" fill="#2a3cc4"/>
<circle cx="291.0" cy="55.0" r="0.86" fill="#3a4ed6"/>
<circle cx="288.9" cy="64.6" r="0.76" fill="#4559f2"/>
<circle cx="282.8" cy="81.9" r="0.67" fill="#2a3cc4"/>
<circle cx="240.6" cy="94.3" r="1.01" fill="#2a34a8"/>
<circle cx="214.8" cy="48.1" r="0.58" fill="#3346dc"/>
<circle cx="297.7" cy="65.8" r="0.97" fill="#5468ff"/>
<circle cx="285.3" cy="78.1" r="0.63" fill="#3a4ed6"/>
<circle cx="296.0" cy="47.3" r="0.68" fill="#5468ff"/>
<circle cx="281.7" cy="93.5" r="0.68" fill="#2a34a8"/>
<circle cx="228.5" cy="95.0" r="0.71" fill="#4559f2"/>
<circle cx="294.5" cy="58.2" r="0.83" fill="#2a3cc4"/>
<circle cx="263.0" cy="73.8" r="0.90" fill="#5468ff"/>
<circle cx="281.8" cy="62.9" r="0.63" fill="#2a3cc4"/>
<circle cx="242.2" cy="91.7" r="0.67" fill="#2a3cc4"/>
<circle cx="307.3" cy="77.5" r="0.90" fill="#2a3cc4"/>
<circle cx="230.3" cy="63.0" r="0.68" fill="#2a34a8"/>
<circle cx="244.3" cy="110.7" r="1.04" fill="#3346dc"/>
<circle cx="218.2" cy="115.3" r="0.99" fill="#2a3cc4"/>
<circle cx="232.2" cy="96.1" r="1.05" fill="#3346dc"/>
<circle cx="245.2" cy="108.6" r="0.97" fill="#3a4ed6"/>
<circle cx="219.7" cy="48.4" r="0.77" fill="#2a34a8"/>
<circle cx="232.0" cy="71.7" r="0.86" fill="#2a3cc4"/>
<circle cx="308.1" cy="71.5" r="0.90" fill="#5468ff"/>
<circle cx="231.9" cy="105.9" r="0.77" fill="#3346dc"/>
<circle cx="261.7" cy="108.1" r="0.99" fill="#3a4ed6"/>
<circle cx="214.1" cy="66.8" r="0.56" fill="#5468ff"/>
<circle cx="263.1" cy="63.2" r="0.75" fill="#4559f2"/>
<circle cx="225.8" cy="78.2" r="0.73" fill="#4559f2"/>
<circle cx="262.0" cy="54.4" r="0.55" fill="#4559f2"/>
<circle cx="274.2" cy="43.8" r="0.72" fill="#2a3cc4"/>
<circle cx="309.9" cy="58.1" r="0.98" fill="#3a4ed6"/>
<circle cx="204.5" cy="68.8" r="0.83" fill="#5468ff"/>
<circle cx="207.3" cy="83.1" r="0.88" fill="#5468ff"/>
<circle cx="228.6" cy="57.1" r="0.70" fill="#2a3cc4"/>
<circle cx="309.6" cy="75.4" r="0.97" fill="#2a34a8"/>
<circle cx="206.1" cy="105.2" r="1.02" fill="#5468ff"/>
<circle cx="214.0" cy="48.9" r="0.73" fill="#5468ff"/>
<circle cx="234.9" cy="80.5" r="0.56" fill="#2a3cc4"/>
<circle cx="208.0" cy="69.7" r="0.93" fill="#4559f2"/>
<circle cx="289.5" cy="100.5" r="0.92" fill="#3a4ed6"/>
<circle cx="234.6" cy="81.8" r="0.88" fill="#3346dc"/>
<circle cx="303.2" cy="78.2" r="0.97" fill="#3a4ed6"/>
<circle cx="228.4" cy="109.0" r="0.56" fill="#5468ff"/>
<circle cx="216.4" cy="66.8" r="0.91" fill="#5468ff"/>
<circle cx="272.7" cy="101.9" r="0.73" fill="#2a34a8"/>
<circle cx="250.1" cy="66.0" r="0.58" fill="#2a34a8"/>
<circle cx="236.1" cy="50.3" r="0.72" fill="#2a34a8"/>
<circle cx="220.7" cy="46.9" r="0.62" fill="#4559f2"/>
<circle cx="275.3" cy="56.3" r="0.60" fill="#2a3cc4"/>
<circle cx="241.7" cy="56.6" r="0.56" fill="#3a4ed6"/>
<circle cx="255.9" cy="72.5" r="0.71" fill="#5468ff"/>
<circle cx="292.7" cy="98.3" r="0.56" fill="#2a3cc4"/>
<circle cx="236.0" cy="97.8" r="0.60" fill="#4559f2"/>
<circle cx="248.0" cy="112.8" r="0.66" fill="#3a4ed6"/>
<circle cx="286.2" cy="107.4" r="0.96" fill="#3346dc"/>
<circle cx="275.0" cy="111.7" r="0.71" fill="#2a3cc4"/>
<circle cx="285.9" cy="81.3" r="0.56" fill="#2a34a8"/>
<circle cx="270.3" cy="70.7" r="0.87" fill="#2a3cc4"/>
<circle cx="268.3" cy="68.3" r="0.77" fill="#2a34a8"/>
<circle cx="269.6" cy="79.8" r="0.83" fill="#3346dc"/>
<circle cx="214.3" cy="96.7" r="0.92" fill="#3a4ed6"/>
<circle cx="273.7" cy="73.7" r="0.74" fill="#2a3cc4"/>
<circle cx="242.0" cy="82.5" r="0.57" fill="#3346dc"/>
<circle cx="258.7" cy="76.0" r="0.69" fill="#3346dc"/>
<circle cx="265.9" cy="110.6" r="0.63" fill="#3a4ed6"/>
<circle cx="236.8" cy="61.9" r="0.86" fill="#2a3cc4"/>
<circle cx="281.5" cy="114.7" r="0.75" fill="#2a3cc4"/>
<circle cx="283.2" cy="108.1" r="0.61" fill="#2a3cc4"/>
<circle cx="292.8" cy="90.2" r="1.02" fill="#3346dc"/>
<circle cx="288.1" cy="80.3" r="1.05" fill="#3346dc"/>
<circle cx="221.2" cy="46.3" r="0.72" fill="#5468ff"/>
<circle cx="289.1" cy="76.2" r="0.82" fill="#3a4ed6"/>
<circle cx="222.4" cy="63.6" r="0.87" fill="#3346dc"/>
<circle cx="212.7" cy="75.2" r="0.93" fill="#2a3cc4"/>
<circle cx="208.9" cy="79.3" r="0.58" fill="#5468ff"/>
<circle cx="307.2" cy="48.2" r="1.02" fill="#4559f2"/>
<circle cx="220.5" cy="67.5" r="1.01" fill="#2a3cc4"/>
<circle cx="292.1" cy="52.0" r="0.64" fill="#3a4ed6"/>
<circle cx="204.4" cy="92.6" r="0.78" fill="#3a4ed6"/>
<circle cx="208.8" cy="114.6" r="0.65" fill="#2a34a8"/>
<circle cx="235.6" cy="112.4" r="1.04" fill="#5468ff"/>
<circle cx="274.0" cy="74.5" r="0.56" fill="#4559f2"/>
<circle cx="277.4" cy="104.3" r="1.02" fill="#2a34a8"/>
<circle cx="266.9" cy="93.5" r="0.64" fill="#2a3cc4"/>
<circle cx="219.7" cy="85.3" r="0.57" fill="#4559f2"/>
<circle cx="213.7" cy="111.3" r="0.86" fill="#4559f2"/>
<circle cx="234.6" cy="44.1" r="0.58" fill="#2a3cc4"/>
<circle cx="281.4" cy="69.4" r="0.71" fill="#3a4ed6"/>
<circle cx="222.9" cy="48.6" r="0.68" fill="#4559f2"/>
<circle cx="290.6" cy="72.9" r="0.78" fill="#5468ff"/>
<circle cx="214.5" cy="50.3" r="0.81" fill="#3a4ed6"/>
<circle cx="226.7" cy="85.2" r="0.69" fill="#4559f2"/>
<circle cx="305.0" cy="49.1" r="0.87" fill="#2a3cc4"/>
<circle cx="303.0" cy="71.4" r="0.92" fill="#5468ff"/>
<circle cx="225.1" cy="89.6" r="0.73" fill="#4559f2"/>
<circle cx="231.7" cy="75.2" r="1.03" fill="#4559f2"/>
<circle cx="273.3" cy="44.4" r="0.86" fill="#3346dc"/>
<circle cx="245.9" cy="53.0" r="1.00" fill="#4559f2"/>
<circle cx="243.4" cy="63.5" r="0.60" fill="#5468ff"/>
<circle cx="212.4" cy="90.8" r="0.78" fill="#2a3cc4"/>
<circle cx="210.7" cy="69.7" r="0.74" fill="#2a34a8"/>
<circle cx="265.5" cy="93.7" r="1.04" fill="#3346dc"/>
<circle cx="273.9" cy="54.7" r="0.59" fill="#2a3cc4"/>
<circle cx="251.8" cy="66.3" r="0.89" fill="#5468ff"/>
<circle cx="207.7" cy="59.5" r="0.56" fill="#3a4ed6"/>
<circle cx="248.3" cy="60.1" r="0.82" fill="#3346dc"/>
<circle cx="309.9" cy="48.3" r="0.78" fill="#3a4ed6"/>
<circle cx="287.3" cy="110.6" r="0.81" fill="#5468ff"/>
<circle cx="223.9" cy="70.1" r="0.62" fill="#3a4ed6"/>
<circle cx="211.5" cy="100.7" r="0.55" fill="#2a34a8"/>
<circle cx="277.0" cy="100.1" r="1.00" fill="#2a34a8"/>
<circle cx="289.6" cy="96.1" r="0.94" fill="#3346dc"/>
<circle cx="248.3" cy="54.7" r="0.74" fill="#4559f2"/>
<circle cx="304.1" cy="108.0" r="0.56" fill="#4559f2"/>
<circle cx="246.1" cy="83.9" r="1.04" fill="#3346dc"/>
<circle cx="233.9" cy="80.0" r="0.61" fill="#5468ff"/>
<circle cx="227.0" cy="91.2" r="0.80" fill="#4559f2"/>
<circle cx="233.1" cy="99.5" r="0.67" fill="#3a4ed6"/>
<circle cx="251.9" cy="114.8" r="0.84" fill="#2a3cc4"/>
<circle cx="261.9" cy="76.6" r="0.98" fill="#3346dc"/>
<circle cx="289.4" cy="79.8" r="0.62" fill="#5468ff"/>
<circle cx="258.3" cy="72.8" r="0.86" fill="#2a34a8"/>
<circle cx="306.2" cy="73.3" r="0.56" fill="#2a3cc4"/>
<circle cx="288.0" cy="51.4" r="0.92" fill="#3a4ed6"/>
<circle cx="218.1" cy="81.7" r="0.56" fill="#3346dc"/>
<circle cx="254.9" cy="109.2" r="0.82" fill="#3346dc"/>
<circle cx="243.6" cy="65.1" r="0.66" fill="#5468ff"/>
<circle cx="213.2" cy="109.7" r="0.71" fill="#3a4ed6"/>
<circle cx="223.2" cy="115.0" r="0.83" fill="#2a3cc4"/>
<circle cx="263.0" cy="79.6" r="1.00" fill="#3a4ed6"/>
<circle cx="269.3" cy="62.8" r="0.85" fill="#2a3cc4"/>
<circle cx="241.2" cy="74.4" r="0.79" fill="#4559f2"/>
<circle cx="271.8" cy="67.5" r="0.61" fill="#4559f2"/>
<circle cx="292.3" cy="47.9" r="0.81" fill="#5468ff"/>
<circle cx="236.2" cy="102.4" r="0.89" fill="#2a34a8"/>
<circle cx="241.6" cy="66.1" r="0.79" fill="#2a3cc4"/>
<circle cx="257.8" cy="81.4" r="0.92" fill="#4559f2"/>
<circle cx="245.4" cy="113.1" r="0.55" fill="#5468ff"/>
<circle cx="240.0" cy="61.2" r="1.03" fill="#2a34a8"/>
<circle cx="241.3" cy="65.2" r="0.85" fill="#5468ff"/>
<circle cx="207.1" cy="56.7" r="0.61" fill="#4559f2"/>
<circle cx="206.8" cy="50.2" r="0.68" fill="#4559f2"/>
<circle cx="289.2" cy="111.4" r="0.87" fill="#4559f2"/>
<circle cx="244.9" cy="64.1" r="0.89" fill="#3346dc"/>
<circle cx="244.3" cy="59.7" r="0.68" fill="#3346dc"/>
<circle cx="235.7" cy="102.5" r="0.94" fill="#2a34a8"/>
<circle cx="231.8" cy="115.5" r="0.80" fill="#3a4ed6"/>
<circle cx="269.2" cy="83.3" r="1.01" fill="#2a34a8"/>
<circle cx="279.4" cy="87.9" r="0.89" fill="#2a3cc4"/>
<circle cx="264.3" cy="43.9" r="0.92" fill="#3a4ed6"/>
<circle cx="237.6" cy="88.5" r="1.01" fill="#3346dc"/>
<circle cx="219.8" cy="49.5" r="0.89" fill="#2a3cc4"/>
<circle cx="242.3" cy="75.7" r="0.77" fill="#3346dc"/>
<circle cx="249.6" cy="108.1" r="0.91" fill="#3346dc"/>
<circle cx="305.5" cy="69.1" r="0.97" fill="#2a34a8"/>
<circle cx="213.4" cy="52.0" r="0.71" fill="#2a34a8"/>
<circle cx="262.2" cy="109.9" r="0.66" fill="#3a4ed6"/>
<circle cx="236.4" cy="53.6" r="1.02" fill="#2a3cc4"/>
<circle cx="296.4" cy="77.5" r="0.57" fill="#3a4ed6"/>
<circle cx="302.6" cy="57.9" r="0.90" fill="#3a4ed6"/>
<circle cx="254.9" cy="93.1" r="0.74" fill="#3a4ed6"/>
<circle cx="212.5" cy="96.9" r="0.63" fill="#5468ff"/>
<circle cx="236.4" cy="44.6" r="0.96" fill="#2a34a8"/>
<circle cx="239.2" cy="86.1" r="0.81" fill="#3a4ed6"/>
<circle cx="250.4" cy="85.9" r="0.78" fill="#5468ff"/>
<circle cx="217.1" cy="94.2" r="0.75" fill="#3346dc"/>
<circle cx="277.2" cy="60.3" r="0.68" fill="#2a34a8"/>
<circle cx="245.9" cy="46.7" r="1.01" fill="#4559f2"/>
<circle cx="242.2" cy="95.1" r="0.77" fill="#5468ff"/>
<circle cx="208.1" cy="56.4" r="0.76" fill="#5468ff"/>
<circle cx="250.8" cy="78.5" r="0.67" fill="#5468ff"/>
<circle cx="212.2" cy="65.6" r="0.97" fill="#3346dc"/>
<circle cx="309.5" cy="68.8" r="0.63" fill="#3a4ed6"/>
<circle cx="237.4" cy="54.4" r="1.03" fill="#4559f2"/>
<circle cx="289.0" cy="50.5" r="0.94" fill="#2a3cc4"/>
<circle cx="308.7" cy="105.5" r="0.92" fill="#4559f2"/>
<circle cx="214.2" cy="98.6" r="0.84" fill="#4559f2"/>
<circle cx="276.3" cy="69.7" r="1.03" fill="#2a34a8"/>
<circle cx="289.1" cy="87.3" r="0.97" fill="#4559f2"/>
<circle cx="213.1" cy="69.3" r="0.64" fill="#4559f2"/>
<circle cx="273.9" cy="64.1" r="0.83" fill="#4559f2"/>
<circle cx="253.9" cy="63.1" r="0.69" fill="#4559f2"/>
<circle cx="304.0" cy="54.5" r="0.74" fill="#5468ff"/>
<circle cx="294.3" cy="87.4" r="0.82" fill="#2a34a8"/>
<circle cx="218.8" cy="97.5" r="0.90" fill="#5468ff"/>
<circle cx="285.7" cy="62.2" r="0.58" fill="#4559f2"/>
<circle cx="272.2" cy="82.6" r="0.79" fill="#2a34a8"/>
<circle cx="241.5" cy="96.0" r="1.02" fill="#5468ff"/>
<circle cx="230.6" cy="95.8" r="0.99" fill="#3346dc"/>
<circle cx="304.7" cy="51.4" r="1.02" fill="#2a34a8"/>
<circle cx="282.1" cy="65.3" r="0.55" fill="#5468ff"/>
<circle cx="306.0" cy="57.6" r="0.73" fill="#4559f2"/>
<circle cx="296.2" cy="47.9" r="0.88" fill="#3346dc"/>
<circle cx="216.4" cy="73.3" r="0.62" fill="#2a34a8"/>
<circle cx="307.4" cy="113.7" r="1.01" fill="#5468ff"/>
<circle cx="209.4" cy="81.4" r="0.64" fill="#5468ff"/>
<circle cx="276.9" cy="87.6" r="1.01" fill="#2a34a8"/>
<circle cx="212.1" cy="53.5" r="0.65" fill="#2a34a8"/>
<circle cx="254.2" cy="83.6" r="1.04" fill="#5468ff"/>
<circle cx="210.7" cy="108.3" r="0.68" fill="#2a3cc4"/>
<circle cx="277.7" cy="111.1" r="1.04" fill="#2a3cc4"/>
<circle cx="294.8" cy="110.8" r="0.56" fill="#3a4ed6"/>
<circle cx="287.9" cy="115.3" r="0.84" fill="#5468ff"/>
<circle cx="235.5" cy="55.7" r="0.93" fill="#2a3cc4"/>
<circle cx="305.8" cy="45.8" r="0.61" fill="#4559f2"/>
<circle cx="305.5" cy="45.2" r="0.57" fill="#2a3cc4"/>
<circle cx="276.2" cy="80.9" r="0.84" fill="#2a34a8"/>
<circle cx="289.2" cy="43.5" r="0.58" fill="#2a3cc4"/>
<circle cx="307.5" cy="103.5" r="0.75" fill="#4559f2"/>
<circle cx="225.0" cy="71.7" r="1.00" fill="#2a3cc4"/>
<circle cx="229.6" cy="85.7" r="0.81" fill="#4559f2"/>
<circle cx="257.9" cy="68.8" r="0.88" fill="#3a4ed6"/>
<circle cx="220.2" cy="54.3" r="0.68" fill="#3a4ed6"/>
<circle cx="225.1" cy="109.7" r="0.64" fill="#2a34a8"/>
<circle cx="272.5" cy="62.2" r="0.81" fill="#4559f2"/>
<circle cx="263.6" cy="45.1" r="0.71" fill="#3346dc"/>
<circle cx="233.9" cy="67.2" r="0.91" fill="#2a34a8"/>
<circle cx="204.8" cy="61.3" r="0.60" fill="#2a34a8"/>
<circle cx="284.4" cy="61.1" r="0.66" fill="#3a4ed6"/>
<circle cx="261.8" cy="53.4" r="0.88" fill="#3346dc"/>
<circle cx="300.5" cy="114.8" r="0.74" fill="#2a3cc4"/>
<circle cx="246.8" cy="91.8" r="0.67" fill="#2a3cc4"/>
<circle cx="242.4" cy="64.2" r="0.85" fill="#2a34a8"/>
<circle cx="208.4" cy="113.7" r="1.01" fill="#3346dc"/>
<circle cx="255.5" cy="70.9" r="0.58" fill="#2a3cc4"/>
<circle cx="216.7" cy="58.3" r="0.99" fill="#2a3cc4"/>
<circle cx="302.7" cy="68.1" r="1.02" fill="#2a3cc4"/>
<circle cx="288.8" cy="66.5" r="0.57" fill="#2a3cc4"/>
<circle cx="215.8" cy="92.3" r="0.99" fill="#2a34a8"/>
<circle cx="297.7" cy="91.6" r="0.73" fill="#2a34a8"/>
<circle cx="214.1" cy="63.2" r="1.02" fill="#3346dc"/>
<circle cx="308.4" cy="95.7" r="0.89" fill="#3346dc"/>
<circle cx="234.5" cy="56.7" r="0.61" fill="#5468ff"/>
<circle cx="258.0" cy="102.3" r="0.77" fill="#5468ff"/>
<circle cx="229.6" cy="50.1" r="0.88" fill="#3346dc"/>
<circle cx="209.4" cy="65.8" r="0.93" fill="#2a34a8"/>
<circle cx="256.0" cy="55.0" r="0.72" fill="#5468ff"/>
<circle cx="212.4" cy="78.3" r="1.00" fill="#5468ff"/>
<circle cx="251.2" cy="86.9" r="0.97" fill="#3a4ed6"/>
<circle cx="205.3" cy="54.1" r="0.78" fill="#2a34a8"/>
<circle cx="203.7" cy="98.4" r="0.75" fill="#3346dc"/>
<circle cx="231.8" cy="46.8" r="0.75" fill="#2a3cc4"/>
<circle cx="306.0" cy="45.2" r="0.76" fill="#3a4ed6"/>
<circle cx="267.9" cy="48.0" r="0.56" fill="#4559f2"/>
<circle cx="202.7" cy="65.4" r="0.57" fill="#4559f2"/>
<circle cx="293.6" cy="84.0" r="0.89" fill="#4559f2"/>
<circle cx="269.1" cy="66.3" r="0.73" fill="#5468ff"/>
<circle cx="264.4" cy="73.5" r="0.82" fill="#3a4ed6"/>
<circle cx="229.0" cy="111.9" r="0.80" fill="#2a34a8"/>
<circle cx="303.2" cy="104.9" r="0.99" fill="#2a3cc4"/>
<circle cx="252.1" cy="83.9" r="1.01" fill="#2a3cc4"/>
<circle cx="303.0" cy="66.1" r="0.83" fill="#3a4ed6"/>
<circle cx="218.2" cy="111.7" r="0.69" fill="#3346dc"/>
<circle cx="270.2" cy="43.7" r="0.79" fill="#3346dc"/>
<circle cx="255.3" cy="109.9" r="0.81" fill="#3a4ed6"/>
<circle cx="275.9" cy="91.2" r="0.75" fill="#3a4ed6"/>
<circle cx="263.7" cy="89.0" r="0.78" fill="#3346dc"/>
<circle cx="235.9" cy="89.5" r="0.58" fill="#2a3cc4"/>
<circle cx="306.9" cy="63.7" r="0.77" fill="#3346dc"/>
<circle cx="231.6" cy="47.1" r="0.84" fill="#3a4ed6"/>
<circle cx="288.1" cy="61.8" r="1.00" fill="#5468ff"/>
<circle cx="212.2" cy="68.9" r="0.58" fill="#3346dc"/>
<circle cx="254.5" cy="78.2" r="0.70" fill="#2a34a8"/>
<circle cx="255.9" cy="68.2" r="0.65" fill="#2a3cc4"/>
<circle cx="276.3" cy="75.6" r="0.70" fill="#2a34a8"/>
<circle cx="301.1" cy="92.8" r="0.95" fill="#2a34a8"/>
<circle cx="230.9" cy="64.9" r="0.99" fill="#3346dc"/>
<circle cx="290.0" cy="65.3" r="0.67" fill="#3346dc"/>
<circle cx="305.4" cy="90.9" r="0.79" fill="#2a34a8"/>
<circle cx="267.7" cy="109.1" r="1.02" fill="#2a34a8"/>
<circle cx="295.5" cy="113.8" r="0.63" fill="#4559f2"/>
<circle cx="308.3" cy="106.2" r="0.71" fill="#2a3cc4"/>
<circle cx="267.7" cy="99.3" r="0.68" fill="#2a34a8"/>
<circle cx="269.0" cy="52.5" r="0.91" fill="#3346dc"/>
<circle cx="248.6" cy="72.8" r="0.75" fill="#3346dc"/>
<circle cx="263.2" cy="111.4" r="0.87" fill="#3a4ed6"/>
<circle cx="225.6" cy="94.7" r="0.57" fill="#2a3cc4"/>
<circle cx="255.6" cy="114.0" r="0.67" fill="#5468ff"/>
<circle cx="285.7" cy="93.5" r="0.81" fill="#4559f2"/>
<circle cx="252.0" cy="93.2" r="0.56" fill="#4559f2"/>
<circle cx="275.9" cy="111.3" r="0.72" fill="#3346dc"/>
<circle cx="300.5" cy="64.4" r="1.03" fill="#5468ff"/>
<circle cx="234.1" cy="76.9" r="0.58" fill="#3346dc"/>
<circle cx="231.5" cy="81.1" r="0.79" fill="#3346dc"/>
<circle cx="211.6" cy="94.3" r="0.58" fill="#2a34a8"/>
<circle cx="258.5" cy="64.3" r="1.02" fill="#4559f2"/>
<circle cx="227.4" cy="67.1" r="0.58" fill="#3346dc"/>
<circle cx="305.7" cy="64.8" r="0.98" fill="#2a34a8"/>
<circle cx="259.0" cy="59.0" r="1.01" fill="#3a4ed6"/>
<circle cx="301.1" cy="49.2" r="0.76" fill="#3a4ed6"/>
<circle cx="275.9" cy="98.4" r="0.83" fill="#2a34a8"/>
<circle cx="302.0" cy="79.5" r="1.02" fill="#5468ff"/>
<circle cx="260.1" cy="115.3" r="0.81" fill="#2a3cc4"/>
<circle cx="220.9" cy="114.6" r="0.86" fill="#2a3cc4"/>
<circle cx="261.2" cy="63.1" r="0.91" fill="#2a34a8"/>
<circle cx="303.1" cy="62.8" r="0.95" fill="#3346dc"/>
<circle cx="278.1" cy="76.4" r="0.77" fill="#3346dc"/>
<circle cx="304.9" cy="57.5" r="0.68" fill="#3346dc"/>
<circle cx="261.1" cy="43.7" r="0.78" fill="#5468ff"/>
<circle cx="248.8" cy="52.7" r="0.76" fill="#5468ff"/>
<circle cx="286.7" cy="61.1" r="0.96" fill="#2a3cc4"/>
<circle cx="275.4" cy="87.8" r="0.57" fill="#2a34a8"/>
<circle cx="262.6" cy="61.2" r="0.84" fill="#3a4ed6"/>
<circle cx="202.8" cy="48.7" r="0.75" fill="#3a4ed6"/>
<circle cx="268.6" cy="58.5" r="0.67" fill="#2a34a8"/>
<circle cx="254.1" cy="85.8" r="0.71" fill="#2a34a8"/>
<circle cx="214.1" cy="65.4" r="0.66" fill="#2a34a8"/>
<circle cx="256.6" cy="73.1" r="0.75" fill="#2a3cc4"/>
<circle cx="229.1" cy="100.5" r="0.90" fill="#3a4ed6"/>
<circle cx="223.6" cy="91.2" r="0.65" fill="#3a4ed6"/>
<circle cx="235.5" cy="88.4" r="0.76" fill="#4559f2"/>
<circle cx="268.9" cy="49.9" r="0.92" fill="#2a34a8"/>
<circle cx="297.0" cy="76.2" r="0.74" fill="#5468ff"/>
<circle cx="307.6" cy="100.1" r="0.75" fill="#2a34a8"/>
<circle cx="209.2" cy="59.8" r="0.66" fill="#5468ff"/>
<circle cx="304.7" cy="90.7" r="0.88" fill="#3a4ed6"/>
<circle cx="224.2" cy="65.0" r="0.85" fill="#3346dc"/>
<circle cx="259.9" cy="114.1" r="0.72" fill="#2a34a8"/>
<circle cx="243.7" cy="104.0" r="0.72" fill="#3a4ed6"/>
<circle cx="229.3" cy="87.7" r="0.66" fill="#3a4ed6"/>
<circle cx="233.7" cy="112.3" r="0.92" fill="#3a4ed6"/>
<circle cx="207.5" cy="85.5" r="0.96" fill="#2a34a8"/>
<circle cx="243.7" cy="86.0" r="0.91" fill="#4559f2"/>
<circle cx="282.5" cy="85.2" r="0.68" fill="#2a34a8"/>
<circle cx="275.4" cy="72.8" r="0.63" fill="#3346dc"/>
<circle cx="215.9" cy="99.7" r="0.71" fill="#2a34a8"/>
<circle cx="256.6" cy="45.0" r="0.93" fill="#4559f2"/>
<circle cx="258.7" cy="79.2" r="0.63" fill="#2a34a8"/>
<circle cx="287.6" cy="79.1" r="0.79" fill="#3a4ed6"/>
<circle cx="274.8" cy="50.6" r="0.57" fill="#3a4ed6"/>
<circle cx="258.9" cy="114.9" r="0.83" fill="#4559f2"/>
<circle cx="239.5" cy="98.1" r="0.59" fill="#4559f2"/>
<circle cx="260.6" cy="55.6" r="0.73" fill="#2a3cc4"/>
<circle cx="242.5" cy="63.2" r="0.73" fill="#5468ff"/>
<circle cx="257.1" cy="82.3" r="0.75" fill="#3a4ed6"/>
<circle cx="217.2" cy="65.9" r="0.99" fill="#5468ff"/>
<circle cx="228.3" cy="56.3" r="0.61" fill="#3346dc"/>
<circle cx="270.6" cy="45.4" r="0.65" fill="#3346dc"/>
<circle cx="254.4" cy="93.6" r="0.56" fill="#4559f2"/>
<circle cx="294.9" cy="58.7" r="0.90" fill="#2a34a8"/>
<circle cx="236.1" cy="101.9" r="1.00" fill="#3a4ed6"/>
<circle cx="277.6" cy="45.5" r="1.01" fill="#5468ff"/>
<circle cx="231.7" cy="79.9" r="0.73" fill="#5468ff"/>
<circle cx="225.3" cy="88.1" r="0.63" fill="#4559f2"/>
<circle cx="287.0" cy="107.3" r="0.64" fill="#2a3cc4"/>
<circle cx="301.0" cy="92.2" r="0.64" fill="#4559f2"/>
<circle cx="267.0" cy="68.6" r="0.93" fill="#4559f2"/>
<circle cx="296.3" cy="59.8" r="0.73" fill="#2a3cc4"/>
<circle cx="254.8" cy="91.7" r="0.98" fill="#2a34a8"/>
<circle cx="207.8" cy="104.1" r="0.82" fill="#5468ff"/>
<circle cx="203.7" cy="66.8" r="0.85" fill="#3a4ed6"/>
<circle cx="266.5" cy="105.6" r="0.58" fill="#3346dc"/>
<circle cx="246.6" cy="108.9" r="0.86" fill="#5468ff"/>
<circle cx="230.8" cy="91.5" r="0.90" fill="#4559f2"/>
<circle cx="206.9" cy="99.6" r="0.66" fill="#3346dc"/>
<circle cx="239.9" cy="69.4" r="0.67" fill="#4559f2"/>
<circle cx="233.7" cy="44.6" r="0.73" fill="#3a4ed6"/>
<circle cx="265.6" cy="62.8" r="0.61" fill="#3346dc"/>
<circle cx="252.2" cy="80.3" r="0.71" fill="#5468ff"/>
<circle cx="288.3" cy="75.5" r="0.91" fill="#2a3cc4"/>
<circle cx="246.1" cy="71.6" r="0.80" fill="#3a4ed6"/>
<circle cx="249.5" cy="84.9" r="1.05" fill="#2a3cc4"/>
<circle cx="232.1" cy="64.8" r="0.75" fill="#2a34a8"/>
<circle cx="288.0" cy="88.2" r="0.69" fill="#2a3cc4"/>
<circle cx="241.1" cy="109.9" r="0.83" fill="#3a4ed6"/>
<circle cx="276.5" cy="97.1" r="0.78" fill="#3a4ed6"/>
<circle cx="255.7" cy="59.8" r="0.84" fill="#2a34a8"/>
<circle cx="301.1" cy="103.7" r="0.59" fill="#2a3cc4"/>
<circle cx="259.4" cy="67.7" r="0.76" fill="#5468ff"/>
<circle cx="234.8" cy="105.6" r="0.81" fill="#3346dc"/>
<circle cx="259.1" cy="51.6" r="0.98" fill="#3a4ed6"/>
<circle cx="279.1" cy="97.6" r="0.77" fill="#3a4ed6"/>
<circle cx="265.6" cy="82.9" r="0.58" fill="#2a34a8"/>
<circle cx="219.9" cy="76.9" r="1.00" fill="#2a34a8"/>
<circle cx="255.5" cy="110.9" r="0.88" fill="#4559f2"/>
<circle cx="309.1" cy="109.9" r="0.86" fill="#3346dc"/>
<circle cx="225.0" cy="90.8" r="0.66" fill="#3346dc"/>
<circle cx="227.5" cy="65.9" r="0.64" fill="#5468ff"/>
<circle cx="258.1" cy="113.8" r="0.64" fill="#2a3cc4"/>
<circle cx="289.9" cy="95.6" r="0.93" fill="#3346dc"/>
<circle cx="238.5" cy="95.8" r="0.91" fill="#2a3cc4"/>
<circle cx="270.3" cy="96.8" r="0.99" fill="#2a34a8"/>
<circle cx="305.6" cy="66.6" r="0.68" fill="#2a34a8"/>
<circle cx="221.1" cy="89.2" r="0.86" fill="#2a34a8"/>
<circle cx="205.8" cy="84.0" r="0.74" fill="#2a34a8"/>
<circle cx="228.6" cy="95.0" r="0.64" fill="#3a4ed6"/>
<circle cx="272.5" cy="46.0" r="0.85" fill="#4559f2"/>
<circle cx="301.2" cy="92.1" r="0.58" fill="#2a3cc4"/>
<circle cx="276.9" cy="70.9" r="1.02" fill="#2a34a8"/>
<circle cx="277.5" cy="114.0" r="0.88" fill="#2a34a8"/>
<circle cx="276.5" cy="110.8" r="0.71" fill="#3346dc"/>
<circle cx="207.4" cy="78.9" r="0.74" fill="#5468ff"/>
<circle cx="228.7" cy="51.9" r="0.73" fill="#5468ff"/>
<circle cx="241.5" cy="67.3" r="0.62" fill="#5468ff"/>
<circle cx="271.3" cy="87.3" r="0.65" fill="#3346dc"/>
<circle cx="255.6" cy="98.6" r="0.83" fill="#2a3cc4"/>
<circle cx="250.0" cy="78.4" r="0.57" fill="#5468ff"/>
<circle cx="295.4" cy="45.9" r="0.64" fill="#3a4ed6"/>
<circle cx="225.6" cy="74.9" r="0.74" fill="#2a3cc4"/>
<circle cx="284.1" cy="95.5" r="0.58" fill="#3346dc"/>
<circle cx="217.1" cy="55.2" r="0.57" fill="#3346dc"/>
<circle cx="227.4" cy="90.1" r="0.62" fill="#2a34a8"/>
<circle cx="206.1" cy="104.4" r="0.85" fill="#3346dc"/>
<circle cx="265.7" cy="60.1" r="0.64" fill="#3a4ed6"/>
<circle cx="213.2" cy="57.9" r="0.87" fill="#2a3cc4"/>
<circle cx="208.7" cy="103.0" r="0.95" fill="#3a4ed6"/>
<circle cx="217.3" cy="84.4" r="0.80" fill="#3a4ed6"/>
<circle cx="201.6" cy="65.6" r="1.04" fill="#3346dc"/>
<circle cx="222.1" cy="67.7" r="0.55" fill="#5468ff"/>
<circle cx="294.0" cy="64.4" r="0.69" fill="#2a34a8"/>
<circle cx="215.4" cy="71.1" r="0.90" fill="#4559f2"/>
<circle cx="302.0" cy="51.3" r="0.88" fill="#4559f2"/>
<circle cx="232.1" cy="64.6" r="0.93" fill="#3346dc"/>
<circle cx="277.4" cy="110.1" r="0.64" fill="#3a4ed6"/>
<circle cx="295.5" cy="68.1" r="0.68" fill="#5468ff"/>
<circle cx="308.0" cy="96.8" r="0.98" fill="#4559f2"/>
<circle cx="265.5" cy="92.2" r="0.84" fill="#5468ff"/>
<circle cx="298.1" cy="63.5" r="0.67" fill="#3a4ed6"/>
<circle cx="272.6" cy="112.6" r="0.62" fill="#3a4ed6"/>
<circle cx="255.2" cy="50.0" r="0.94" fill="#2a34a8"/>
<circle cx="207.8" cy="88.8" r="0.69" fill="#4559f2"/>
<circle cx="305.3" cy="71.5" r="0.68" fill="#2a34a8"/>
<circle cx="294.6" cy="114.6" r="0.68" fill="#4559f2"/>
<circle cx="256.3" cy="87.1" r="0.82" fill="#4559f2"/>
<circle cx="222.7" cy="83.6" r="0.72" fill="#3346dc"/>
<circle cx="213.6" cy="93.0" r="0.86" fill="#2a34a8"/>
<circle cx="231.1" cy="114.9" r="0.87" fill="#3346dc"/>
<circle cx="248.1" cy="109.7" r="0.95" fill="#2a3cc4"/>
<circle cx="279.9" cy="105.2" r="1.02" fill="#3a4ed6"/>
<circle cx="230.3" cy="84.0" r="0.67" fill="#2a34a8"/>
<circle cx="282.0" cy="76.8" r="0.89" fill="#2a3cc4"/>
<circle cx="300.9" cy="90.7" r="1.03" fill="#2a3cc4"/>
<circle cx="268.3" cy="55.2" r="0.57" fill="#3a4ed6"/>
<circle cx="293.2" cy="82.8" r="0.65" fill="#2a34a8"/>
<circle cx="274.7" cy="113.2" r="0.58" fill="#3346dc"/>
<circle cx="302.9" cy="53.5" r="0.89" fill="#4559f2"/>
<circle cx="275.7" cy="82.9" r="0.98" fill="#4559f2"/>
<circle cx="303.8" cy="47.6" r="0.87" fill="#3a4ed6"/>
<circle cx="226.0" cy="45.6" r="0.63" fill="#3346dc"/>
<circle cx="218.5" cy="68.6" r="0.60" fill="#2a34a8"/>
<circle cx="291.0" cy="68.3" r="0.61" fill="#2a34a8"/>
<circle cx="271.9" cy="70.2" r="0.76" fill="#2a34a8"/>
<circle cx="264.6" cy="105.6" r="0.89" fill="#4559f2"/>
<circle cx="232.3" cy="99.3" r="0.87" fill="#3a4ed6"/>
<circle cx="224.1" cy="75.3" r="0.98" fill="#3a4ed6"/>
<circle cx="266.7" cy="80.2" r="0.81" fill="#3346dc"/>
<circle cx="259.9" cy="69.4" r="0.73" fill="#3346dc"/>
<circle cx="309.2" cy="100.6" r="0.70" fill="#3a4ed6"/>
<circle cx="267.4" cy="73.7" r="0.69" fill="#2a34a8"/>
<circle cx="253.8" cy="72.2" r="0.79" fill="#4559f2"/>
<circle cx="209.8" cy="52.0" r="0.90" fill="#5468ff"/>
<circle cx="209.7" cy="92.3" r="0.63" fill="#2a3cc4"/>
<circle cx="263.1" cy="50.6" r="0.67" fill="#2a3cc4"/>
<circle cx="249.5" cy="64.7" r="0.73" fill="#2a3cc4"/>
<circle cx="280.6" cy="43.7" r="0.63" fill="#2a3cc4"/>
<circle cx="215.4" cy="53.3" r="1.00" fill="#2a34a8"/>
<circle cx="281.1" cy="84.3" r="0.63" fill="#4559f2"/>
<circle cx="249.7" cy="87.1" r="0.58" fill="#3346dc"/>
<circle cx="237.6" cy="53.9" r="0.94" fill="#3346dc"/>
<circle cx="261.4" cy="113.8" r="0.72" fill="#3a4ed6"/>
<circle cx="299.3" cy="100.4" r="0.65" fill="#3346dc"/>
<circle cx="300.5" cy="56.4" r="0.80" fill="#4559f2"/>
<circle cx="301.1" cy="58.5" r="0.87" fill="#3346dc"/>
<circle cx="246.8" cy="54.8" r="0.78" fill="#2a3cc4"/>
<circle cx="236.0" cy="95.6" r="1.00" fill="#3346dc"/>
<circle cx="290.2" cy="60.7" r="0.97" fill="#5468ff"/>
<circle cx="304.7" cy="105.8" r="0.67" fill="#5468ff"/>
<circle cx="257.5" cy="106.5" r="0.85" fill="#4559f2"/>
<circle cx="283.9" cy="67.7" r="0.76" fill="#2a34a8"/>
<circle cx="303.3" cy="59.6" r="0.58" fill="#5468ff"/>
<circle cx="211.4" cy="55.7" r="0.96" fill="#3a4ed6"/>
<circle cx="293.4" cy="78.5" r="0.65" fill="#3346dc"/>
<circle cx="220.2" cy="113.7" r="0.85" fill="#2a3cc4"/>
<circle cx="210.8" cy="79.9" r="0.81" fill="#5468ff"/>
<circle cx="287.6" cy="99.8" r="0.77" fill="#2a3cc4"/>
<circle cx="271.8" cy="70.5" r="0.76" fill="#4559f2"/>
<circle cx="214.5" cy="61.5" r="0.78" fill="#5468ff"/>
<circle cx="293.5" cy="101.1" r="0.89" fill="#4559f2"/>
<circle cx="243.2" cy="89.8" r="0.68" fill="#4559f2"/>
<circle cx="263.1" cy="113.3" r="0.64" fill="#4559f2"/>
<circle cx="265.6" cy="89.3" r="0.90" fill="#2a34a8"/>
<circle cx="259.0" cy="88.8" r="0.82" fill="#3a4ed6"/>
<circle cx="225.7" cy="106.7" r="0.73" fill="#3a4ed6"/>
<circle cx="303.9" cy="101.1" r="1.02" fill="#4559f2"/>
<circle cx="234.4" cy="78.0" r="0.65" fill="#5468ff"/>
<circle cx="288.6" cy="67.0" r="0.65" fill="#3346dc"/>
<circle cx="246.8" cy="49.5" r="0.92" fill="#5468ff"/>
<circle cx="202.7" cy="76.1" r="0.85" fill="#4559f2"/>
<circle cx="235.8" cy="80.7" r="0.77" fill="#4559f2"/>
<circle cx="307.2" cy="69.4" r="1.01" fill="#2a34a8"/>
<circle cx="263.7" cy="52.6" r="0.95" fill="#3346dc"/>
<circle cx="220.2" cy="90.7" r="0.80" fill="#2a3cc4"/>
<circle cx="245.8" cy="54.8" r="1.05" fill="#5468ff"/>
<circle cx="233.3" cy="64.7" r="0.59" fill="#3a4ed6"/>
<circle cx="271.5" cy="77.6" r="0.94" fill="#2a34a8"/>
<circle cx="214.1" cy="80.9" r="0.99" fill="#5468ff"/>
<circle cx="282.3" cy="108.0" r="0.85" fill="#3a4ed6"/>
<circle cx="211.1" cy="53.9" r="0.57" fill="#2a3cc4"/>
<circle cx="306.1" cy="99.5" r="0.61" fill="#2a3cc4"/>
<circle cx="251.8" cy="84.1" r="0.69" fill="#5468ff"/>
<circle cx="237.2" cy="104.4" r="0.95" fill="#3346dc"/>
<circle cx="254.8" cy="70.7" r="1.00" fill="#2a3cc4"/>
<circle cx="208.6" cy="62.7" r="0.93" fill="#5468ff"/>
<circle cx="283.8" cy="56.6" r="0.71" fill="#2a34a8"/>
<circle cx="223.2" cy="76.8" r="0.68" fill="#2a34a8"/>
<circle cx="251.9" cy="82.9" r="0.85" fill="#5468ff"/>
<circle cx="259.2" cy="85.4" r="0.55" fill="#2a3cc4"/>
<circle cx="292.2" cy="70.8" r="0.63" fill="#2a34a8"/>
<circle cx="307.7" cy="56.3" r="0.93" fill="#3a4ed6"/>
<circle cx="303.3" cy="58.5" r="0.61" fill="#2a3cc4"/>
<circle cx="247.7" cy="109.1" r="0.60" fill="#3346dc"/>
<circle cx="252.7" cy="52.7" r="0.73" fill="#2a3cc4"/>
<circle cx="232.1" cy="104.5" r="0.82" fill="#4559f2"/>
<circle cx="248.7" cy="76.4" r="0.78" fill="#4559f2"/>
<circle cx="287.7" cy="79.9" r="1.03" fill="#4559f2"/>
<circle cx="307.1" cy="93.7" r="0.63" fill="#5468ff"/>
<circle cx="243.3" cy="69.4" r="0.57" fill="#3346dc"/>
<circle cx="298.7" cy="91.6" r="0.66" fill="#4559f2"/>
<circle cx="204.3" cy="66.3" r="0.73" fill="#4559f2"/>
<circle cx="286.8" cy="47.7" r="0.89" fill="#5468ff"/>
<circle cx="242.7" cy="56.2" r="0.60" fill="#3346dc"/>
<circle cx="249.5" cy="98.7" r="0.64" fill="#3346dc"/>
<circle cx="222.8" cy="70.7" r="0.79" fill="#3346dc"/>
<circle cx="281.5" cy="65.3" r="0.78" fill="#4559f2"/>
<circle cx="210.7" cy="50.7" r="1.03" fill="#3346dc"/>
<circle cx="301.5" cy="86.8" r="1.03" fill="#3346dc"/>
<circle cx="219.7" cy="114.9" r="0.65" fill="#2a3cc4"/>
<circle cx="214.2" cy="65.3" r="0.77" fill="#5468ff"/>
<circle cx="275.3" cy="58.2" r="1.00" fill="#5468ff"/>
<circle cx="204.7" cy="64.8" r="1.01" fill="#3a4ed6"/>
<circle cx="244.5" cy="49.0" r="0.98" fill="#3a4ed6"/>
<circle cx="208.8" cy="61.2" r="0.92" fill="#4559f2"/>
<circle cx="248.8" cy="79.5" r="0.94" fill="#4559f2"/>
<circle cx="246.0" cy="82.8" r="0.75" fill="#5468ff"/>
<circle cx="259.8" cy="70.1" r="0.78" fill="#3346dc"/>
<circle cx="237.7" cy="78.9" r="0.74" fill="#4559f2"/>
<circle cx="269.0" cy="44.0" r="0.93" fill="#2a3cc4"/>
<circle cx="213.5" cy="45.6" r="0.79" fill="#3346dc"/>
<circle cx="281.1" cy="45.6" r="0.55" fill="#5468ff"/>
<circle cx="258.4" cy="45.2" r="0.60" fill="#5468ff"/>
<circle cx="272.4" cy="50.5" r="0.74" fill="#4559f2"/>
<circle cx="255.9" cy="100.5" r="0.97" fill="#2a34a8"/>
<circle cx="216.5" cy="65.2" r="1.03" fill="#5468ff"/>
<circle cx="292.3" cy="80.6" r="1.04" fill="#3346dc"/>
<circle cx="292.0" cy="103.0" r="0.82" fill="#5468ff"/>
<circle cx="300.2" cy="47.1" r="0.79" fill="#3a4ed6"/>
<circle cx="201.8" cy="85.3" r="1.00" fill="#4559f2"/>
<circle cx="216.8" cy="97.8" r="0.79" fill="#2a34a8"/>
<circle cx="270.2" cy="102.5" r="0.77" fill="#4559f2"/>
<circle cx="225.5" cy="96.3" r="0.99" fill="#4559f2"/>
<circle cx="305.9" cy="73.0" r="0.78" fill="#3346dc"/>
<circle cx="265.3" cy="93.9" r="0.59" fill="#3a4ed6"/>
<circle cx="253.4" cy="67.8" r="0.60" fill="#3a4ed6"/>
<circle cx="303.1" cy="52.4" r="0.77" fill="#4559f2"/>
<circle cx="261.4" cy="79.6" r="0.64" fill="#3a4ed6"/>
<circle cx="245.8" cy="77.5" r="0.77" fill="#5468ff"/>
<circle cx="235.0" cy="44.9" r="0.92" fill="#5468ff"/>
<circle cx="225.9" cy="61.1" r="0.78" fill="#2a34a8"/>
<circle cx="253.7" cy="94.2" r="0.88" fill="#4559f2"/>
<circle cx="235.1" cy="44.9" r="0.60" fill="#2a3cc4"/>
<circle cx="309.1" cy="112.0" r="1.02" fill="#2a34a8"/>
<circle cx="226.9" cy="61.0" r="0.94" fill="#4559f2"/>
<circle cx="260.9" cy="75.5" r="0.69" fill="#2a34a8"/>
<circle cx="264.4" cy="52.7" r="0.73" fill="#5468ff"/>
<circle cx="284.3" cy="112.3" r="0.85" fill="#2a34a8"/>
<circle cx="236.4" cy="89.5" r="0.62" fill="#2a3cc4"/>
<circle cx="220.0" cy="97.1" r="0.61" fill="#3346dc"/>
<circle cx="302.0" cy="104.1" r="0.97" fill="#4559f2"/>
<circle cx="262.9" cy="48.8" r="0.92" fill="#2a34a8"/>
<circle cx="292.5" cy="46.6" r="0.58" fill="#2a34a8"/>
<circle cx="283.1" cy="46.9" r="0.84" fill="#2a34a8"/>
<circle cx="249.8" cy="92.1" r="0.88" fill="#2a34a8"/>
<circle cx="248.5" cy="47.8" r="1.04" fill="#3a4ed6"/>
<circle cx="280.0" cy="101.3" r="0.78" fill="#2a3cc4"/>
<circle cx="217.4" cy="75.3" r="0.96" fill="#2a34a8"/>
<circle cx="212.9" cy="43.8" r="0.75" fill="#2a3cc4"/>
<circle cx="292.2" cy="53.4" r="1.03" fill="#2a34a8"/>
<circle cx="265.5" cy="53.1" r="0.95" fill="#2a34a8"/>
<circle cx="295.7" cy="87.3" r="0.92" fill="#5468ff"/>
<circle cx="220.1" cy="49.5" r="0.87" fill="#4559f2"/>
<circle cx="273.5" cy="47.4" r="0.89" fill="#3346dc"/>
<circle cx="273.9" cy="87.1" r="0.95" fill="#3a4ed6"/>
<circle cx="251.2" cy="44.6" r="0.86" fill="#2a34a8"/>
<circle cx="219.6" cy="103.8" r="0.73" fill="#3346dc"/>
<circle cx="201.5" cy="103.3" r="0.86" fill="#3a4ed6"/>
<circle cx="265.8" cy="104.9" r="0.94" fill="#2a3cc4"/>
<circle cx="251.5" cy="108.1" r="0.75" fill="#3346dc"/>
<circle cx="261.5" cy="109.6" r="0.58" fill="#5468ff"/>
<circle cx="244.1" cy="63.3" r="0.90" fill="#3346dc"/>
<circle cx="263.9" cy="97.1" r="0.92" fill="#3346dc"/>
<circle cx="266.3" cy="74.0" r="0.95" fill="#4559f2"/>
<circle cx="268.9" cy="92.7" r="0.84" fill="#4559f2"/>
<circle cx="225.7" cy="44.5" r="0.70" fill="#2a34a8"/>
<circle cx="232.8" cy="78.7" r="0.81" fill="#4559f2"/>
<circle cx="277.2" cy="69.3" r="0.75" fill="#4559f2"/>
<circle cx="305.0" cy="99.4" r="0.95" fill="#5468ff"/>
<circle cx="215.6" cy="65.9" r="0.74" fill="#4559f2"/>
<circle cx="215.2" cy="97.3" r="0.97" fill="#5468ff"/>
<circle cx="285.7" cy="54.9" r="0.83" fill="#5468ff"/>
<circle cx="248.9" cy="76.9" r="0.74" fill="#4559f2"/>
<circle cx="256.7" cy="62.9" r="1.04" fill="#3a4ed6"/>
<circle cx="290.8" cy="96.4" r="0.56" fill="#3346dc"/>
<circle cx="224.8" cy="65.3" r="0.85" fill="#4559f2"/>
<circle cx="293.5" cy="113.8" r="0.83" fill="#2a3cc4"/>
<circle cx="298.1" cy="109.8" r="0.68" fill="#4559f2"/>
<circle cx="210.8" cy="85.4" r="0.59" fill="#3346dc"/>
<circle cx="257.0" cy="93.1" r="0.66" fill="#2a34a8"/>
<circle cx="258.6" cy="43.6" r="0.95" fill="#3346dc"/>
<circle cx="293.3" cy="98.9" r="0.92" fill="#3a4ed6"/>
<circle cx="255.1" cy="75.8" r="0.68" fill="#2a34a8"/>
<circle cx="258.4" cy="110.1" r="0.89" fill="#3346dc"/>
<circle cx="236.8" cy="56.2" r="0.76" fill="#2a34a8"/>
<circle cx="285.3" cy="85.2" r="0.76" fill="#5468ff"/>
<circle cx="292.2" cy="105.7" r="0.89" fill="#4559f2"/>
<circle cx="239.2" cy="99.0" r="0.73" fill="#2a3cc4"/>
<circle cx="301.3" cy="50.7" r="0.60" fill="#5468ff"/>
<circle cx="254.3" cy="77.5" r="1.00" fill="#2a34a8"/>
<circle cx="267.9" cy="88.3" r="1.03" fill="#4559f2"/>
<circle cx="230.7" cy="49.6" r="0.56" fill="#3346dc"/>
<circle cx="218.5" cy="85.3" r="0.76" fill="#5468ff"/>
<circle cx="304.9" cy="66.1" r="0.96" fill="#5468ff"/>
<circle cx="248.0" cy="76.9" r="0.73" fill="#5468ff"/>
<circle cx="296.5" cy="47.1" r="0.90" fill="#2a3cc4"/>
<circle cx="236.2" cy="104.7" r="0.95" fill="#2a3cc4"/>
<circle cx="227.7" cy="54.7" r="1.03" fill="#3346dc"/>
<circle cx="301.8" cy="82.5" r="0.58" fill="#4559f2"/>
<circle cx="293.9" cy="59.1" r="0.64" fill="#2a34a8"/>
<circle cx="205.6" cy="106.9" r="0.73" fill="#3346dc"/>
<circle cx="295.7" cy="46.8" r="1.02" fill="#2a3cc4"/>
<circle cx="268.3" cy="90.9" r="0.60" fill="#5468ff"/>
<circle cx="233.6" cy="52.5" r="0.60" fill="#2a34a8"/>
<circle cx="229.7" cy="102.7" r="0.67" fill="#3a4ed6"/>
<circle cx="291.0" cy="62.6" r="0.82" fill="#3a4ed6"/>
<circle cx="259.6" cy="95.0" r="1.02" fill="#2a34a8"/>
<circle cx="254.0" cy="114.0" r="0.61" fill="#4559f2"/>
<circle cx="225.4" cy="114.7" r="0.80" fill="#4559f2"/>
<circle cx="246.5" cy="47.1" r="0.61" fill="#2a34a8"/>
<circle cx="293.7" cy="106.9" r="0.74" fill="#2a3cc4"/>
<circle cx="219.6" cy="95.8" r="1.02" fill="#2a3cc4"/>
<circle cx="309.7" cy="60.9" r="0.79" fill="#4559f2"/>
<circle cx="288.7" cy="87.1" r="0.79" fill="#3346dc"/>
<circle cx="305.5" cy="44.5" r="0.69" fill="#3346dc"/>
<circle cx="265.8" cy="89.8" r="0.95" fill="#5468ff"/>
<circle cx="216.0" cy="65.4" r="0.62" fill="#3a4ed6"/>
<circle cx="258.0" cy="89.0" r="0.63" fill="#2a34a8"/>
<circle cx="254.3" cy="109.2" r="0.97" fill="#2a34a8"/>
<circle cx="289.0" cy="59.1" r="0.72" fill="#3346dc"/>
<circle cx="249.6" cy="76.5" r="0.77" fill="#2a3cc4"/>
<circle cx="232.6" cy="74.5" r="0.98" fill="#4559f2"/>
<circle cx="283.7" cy="107.0" r="1.01" fill="#4559f2"/>
<circle cx="234.0" cy="83.2" r="1.04" fill="#5468ff"/>
<circle cx="256.2" cy="54.0" r="0.83" fill="#3346dc"/>
<circle cx="241.0" cy="115.0" r="0.93" fill="#3a4ed6"/>
<circle cx="290.3" cy="96.7" r="0.98" fill="#3a4ed6"/>
<circle cx="256.1" cy="100.8" r="1.02" fill="#3346dc"/>
<circle cx="263.2" cy="72.9" r="0.62" fill="#3a4ed6"/>
<circle cx="279.7" cy="53.4" r="0.80" fill="#2a34a8"/>
<circle cx="247.4" cy="53.4" r="0.96" fill="#5468ff"/>
<circle cx="209.0" cy="75.6" r="0.89" fill="#4559f2"/>
<circle cx="301.1" cy="87.8" r="1.02" fill="#5468ff"/>
<circle cx="270.1" cy="47.0" r="0.65" fill="#3a4ed6"/>
<circle cx="211.5" cy="97.5" r="0.62" fill="#3346dc"/>
<circle cx="229.3" cy="46.9" r="0.83" fill="#3a4ed6"/>
<circle cx="293.3" cy="80.4" r="0.78" fill="#2a3cc4"/>
<circle cx="202.7" cy="45.6" r="0.95" fill="#3a4ed6"/>
<circle cx="217.8" cy="44.6" r="0.84" fill="#2a3cc4"/>
<circle cx="221.3" cy="57.9" r="1.04" fill="#5468ff"/>
<circle cx="231.6" cy="87.2" r="0.69" fill="#2a3cc4"/>
<circle cx="229.2" cy="106.1" r="0.89" fill="#5468ff"/>
<circle cx="238.8" cy="112.2" r="0.84" fill="#4559f2"/>
<circle cx="288.0" cy="46.2" r="0.92" fill="#3346dc"/>
<circle cx="264.6" cy="61.3" r="0.58" fill="#2a3cc4"/>
<circle cx="285.8" cy="53.7" r="0.93" fill="#4559f2"/>
<circle cx="221.7" cy="107.2" r="0.55" fill="#2a34a8"/>
<circle cx="292.1" cy="114.1" r="0.85" fill="#2a3cc4"/>
<circle cx="269.0" cy="85.4" r="0.71" fill="#3a4ed6"/>
<circle cx="267.0" cy="63.9" r="1.04" fill="#3a4ed6"/>
<circle cx="295.4" cy="95.4" r="0.66" fill="#3346dc"/>
<circle cx="227.5" cy="51.9" r="0.62" fill="#5468ff"/>
<circle cx="233.2" cy="107.6" r="0.96" fill="#3346dc"/>
<circle cx="275.1" cy="83.7" r="0.83" fill="#2a3cc4"/>
<circle cx="233.0" cy="84.9" r="0.71" fill="#3346dc"/>
<circle cx="304.4" cy="64.6" r="0.84" fill="#5468ff"/>
<circle cx="302.2" cy="77.4" r="1.03" fill="#5468ff"/>
<circle cx="210.3" cy="59.9" r="0.69" fill="#2a3cc4"/>
<circle cx="201.8" cy="91.1" r="0.64" fill="#2a34a8"/>
<circle cx="219.8" cy="89.8" r="0.85" fill="#5468ff"/>
<circle cx="286.6" cy="77.4" r="0.62" fill="#5468ff"/>
<circle cx="251.7" cy="93.1" r="0.66" fill="#2a34a8"/>
<circle cx="212.0" cy="110.6" r="0.70" fill="#4559f2"/>
<circle cx="260.9" cy="98.8" r="0.69" fill="#4559f2"/>
<circle cx="284.3" cy="79.0" r="1.00" fill="#5468ff"/>
<circle cx="221.2" cy="112.2" r="1.04" fill="#3a4ed6"/>
<circle cx="257.6" cy="67.9" r="0.63" fill="#3a4ed6"/>
<circle cx="210.5" cy="44.7" r="0.85" fill="#2a34a8"/>
<circle cx="294.0" cy="60.0" r="0.93" fill="#2a34a8"/>
<circle cx="254.1" cy="103.8" r="0.89" fill="#4559f2"/>
<circle cx="273.8" cy="83.8" r="0.60" fill="#2a34a8"/>
<circle cx="260.9" cy="47.1" r="0.79" fill="#2a34a8"/>
<circle cx="253.5" cy="55.5" r="0.81" fill="#4559f2"/>
<circle cx="233.6" cy="45.5" r="0.63" fill="#2a34a8"/>
<circle cx="220.9" cy="84.3" r="0.66" fill="#4559f2"/>
<circle cx="210.7" cy="105.3" r="0.55" fill="#2a3cc4"/>
<circle cx="300.2" cy="75.8" r="0.87" fill="#3a4ed6"/>
<circle cx="307.1" cy="105.1" r="0.73" fill="#4559f2"/>
<circle cx="296.0" cy="51.7" r="0.82" fill="#3a4ed6"/>
<circle cx="290.3" cy="43.8" r="0.83" fill="#3a4ed6"/>
<circle cx="236.3" cy="112.2" r="0.85" fill="#4559f2"/>
<circle cx="238.3" cy="80.6" r="0.84" fill="#2a34a8"/>
<circle cx="227.0" cy="68.3" r="0.80" fill="#3a4ed6"/>
<circle cx="226.3" cy="75.0" r="0.76" fill="#5468ff"/>
<circle cx="298.0" cy="77.1" r="0.6" fill="#d03070" opacity="0.85"/>
<circle cx="252.7" cy="100.8" r="0.6" fill="#c0205a" opacity="0.85"/>
<circle cx="226.9" cy="113.8" r="0.6" fill="#d03070" opacity="0.85"/>
<circle cx="278.2" cy="69.5" r="0.6" fill="#a01848" opacity="0.85"/>
<circle cx="278.8" cy="74.9" r="0.6" fill="#d03070" opacity="0.85"/>
<circle cx="309.4" cy="87.3" r="0.6" fill="#d03070" opacity="0.85"/>
<circle cx="229.9" cy="106.1" r="0.6" fill="#a01848" opacity="0.85"/>
<circle cx="244.0" cy="73.9" r="0.6" fill="#c0205a" opacity="0.85"/>
<circle cx="258.1" cy="83.0" r="0.6" fill="#d03070" opacity="0.85"/>
<circle cx="226.6" cy="54.5" r="0.6" fill="#c0205a" opacity="0.85"/>
<circle cx="211.1" cy="114.6" r="0.6" fill="#c0205a" opacity="0.85"/>
<circle cx="258.5" cy="106.4" r="0.6" fill="#a01848" opacity="0.85"/>
<circle cx="306.9" cy="100.3" r="0.6" fill="#a01848" opacity="0.85"/>
<circle cx="212.5" cy="76.7" r="0.6" fill="#c0205a" opacity="0.85"/>
<circle cx="236.7" cy="92.8" r="0.6" fill="#a01848" opacity="0.85"/>
<circle cx="235.4" cy="78.9" r="0.6" fill="#d03070" opacity="0.85"/>
<circle cx="271.8" cy="105.0" r="0.6" fill="#d03070" opacity="0.85"/>
<circle cx="212.7" cy="46.0" r="0.6" fill="#d03070" opacity="0.85"/>
<circle cx="227.2" cy="70.3" r="0.6" fill="#a01848" opacity="0.85"/>
<circle cx="279.7" cy="73.3" r="0.6" fill="#a01848" opacity="0.85"/>
<circle cx="253.7" cy="57.9" r="0.6" fill="#a01848" opacity="0.85"/>
<circle cx="283.2" cy="78.5" r="0.6" fill="#c0205a" opacity="0.85"/>
<circle cx="265.2" cy="50.1" r="0.6" fill="#c0205a" opacity="0.85"/>
<circle cx="207.0" cy="67.3" r="0.6" fill="#a01848" opacity="0.85"/>
<circle cx="276.1" cy="59.9" r="0.6" fill="#d03070" opacity="0.85"/>
<circle cx="302.7" cy="62.4" r="0.6" fill="#c0205a" opacity="0.85"/>
<circle cx="237.4" cy="115.2" r="0.6" fill="#a01848" opacity="0.85"/>
<circle cx="222.4" cy="88.6" r="0.6" fill="#a01848" opacity="0.85"/>
<circle cx="210.3" cy="90.0" r="0.6" fill="#c0205a" opacity="0.85"/>
<circle cx="294.4" cy="51.4" r="0.6" fill="#c0205a" opacity="0.85"/>
<circle cx="260.2" cy="57.6" r="0.6" fill="#a01848" opacity="0.85"/>
<circle cx="287.8" cy="85.9" r="0.6" fill="#a01848" opacity="0.85"/>
<circle cx="217.1" cy="92.4" r="0.6" fill="#d03070" opacity="0.85"/>
<circle cx="268.9" cy="75.5" r="0.6" fill="#d03070" opacity="0.85"/>
<circle cx="222.7" cy="97.5" r="0.6" fill="#a01848" opacity="0.85"/>
<circle cx="286.8" cy="61.4" r="0.6" fill="#c0205a" opacity="0.85"/>
<circle cx="294.8" cy="49.4" r="0.6" fill="#c0205a" opacity="0.85"/>
<circle cx="221.2" cy="83.9" r="0.6" fill="#a01848" opacity="0.85"/>
<circle cx="201.8" cy="70.2" r="0.6" fill="#d03070" opacity="0.85"/>
<circle cx="304.2" cy="76.1" r="0.6" fill="#c0205a" opacity="0.85"/>
<circle cx="254.8" cy="72.3" r="0.6" fill="#c0205a" opacity="0.85"/>
<circle cx="245.2" cy="99.1" r="0.6" fill="#a01848" opacity="0.85"/>
<circle cx="276.1" cy="66.3" r="0.6" fill="#d03070" opacity="0.85"/>
<circle cx="292.4" cy="104.4" r="0.6" fill="#c0205a" opacity="0.85"/>
<circle cx="285.4" cy="44.0" r="0.6" fill="#a01848" opacity="0.85"/>
<circle cx="233.8" cy="103.2" r="0.6" fill="#a01848" opacity="0.85"/>
<circle cx="281.0" cy="61.8" r="0.6" fill="#a01848" opacity="0.85"/>
<circle cx="202.9" cy="66.5" r="0.6" fill="#d03070" opacity="0.85"/>
<circle cx="248.0" cy="92.7" r="0.6" fill="#a01848" opacity="0.85"/>
<circle cx="257.8" cy="70.0" r="0.6" fill="#d03070" opacity="0.85"/>
<circle cx="212.5" cy="78.9" r="0.6" fill="#a01848" opacity="0.85"/>
<circle cx="283.5" cy="74.4" r="0.6" fill="#d03070" opacity="0.85"/>
<circle cx="253.4" cy="96.7" r="0.6" fill="#c0205a" opacity="0.85"/>
<circle cx="263.6" cy="108.6" r="0.6" fill="#a01848" opacity="0.85"/>
<circle cx="225.2" cy="52.7" r="0.6" fill="#c0205a" opacity="0.85"/>
<circle cx="215.9" cy="83.6" r="0.6" fill="#a01848" opacity="0.85"/>
<circle cx="241.2" cy="44.4" r="0.6" fill="#d03070" opacity="0.85"/>
<circle cx="255.1" cy="55.8" r="0.6" fill="#d03070" opacity="0.85"/>
<circle cx="284.7" cy="48.4" r="0.6" fill="#c0205a" opacity="0.85"/>
<circle cx="203.2" cy="79.8" r="0.6" fill="#c0205a" opacity="0.85"/>
<circle cx="251.9" cy="44.8" r="0.6" fill="#d03070" opacity="0.85"/>
<circle cx="266.9" cy="81.3" r="0.6" fill="#c0205a" opacity="0.85"/>
<circle cx="225.4" cy="98.9" r="0.6" fill="#a01848" opacity="0.85"/>
<circle cx="258.3" cy="86.4" r="0.6" fill="#a01848" opacity="0.85"/>
<circle cx="246.6" cy="89.3" r="0.6" fill="#d03070" opacity="0.85"/>
<circle cx="271.5" cy="73.1" r="0.6" fill="#d03070" opacity="0.85"/>
<circle cx="241.0" cy="57.9" r="0.6" fill="#c0205a" opacity="0.85"/>
<circle cx="291.4" cy="99.1" r="0.6" fill="#d03070" opacity="0.85"/>
<circle cx="299.9" cy="81.5" r="0.6" fill="#d03070" opacity="0.85"/>
<circle cx="212.2" cy="91.1" r="0.6" fill="#c0205a" opacity="0.85"/>
<circle cx="270.5" cy="54.4" r="0.6" fill="#a01848" opacity="0.85"/>
<circle cx="267.3" cy="74.4" r="0.6" fill="#c0205a" opacity="0.85"/>
<circle cx="219.8" cy="108.5" r="0.6" fill="#c0205a" opacity="0.85"/>
<circle cx="297.7" cy="66.5" r="0.6" fill="#a01848" opacity="0.85"/>
<circle cx="256.3" cy="48.3" r="0.6" fill="#d03070" opacity="0.85"/>
<circle cx="270.1" cy="97.9" r="0.6" fill="#d03070" opacity="0.85"/>
<circle cx="289.3" cy="95.7" r="0.6" fill="#a01848" opacity="0.85"/>
<circle cx="250.0" cy="75.7" r="0.6" fill="#d03070" opacity="0.85"/>
<circle cx="231.9" cy="58.5" r="0.6" fill="#a01848" opacity="0.85"/>
<circle cx="246.6" cy="83.6" r="0.6" fill="#d03070" opacity="0.85"/>
<circle cx="247.9" cy="63.7" r="0.6" fill="#a01848" opacity="0.85"/>
<circle cx="272.2" cy="82.3" r="0.6" fill="#c0205a" opacity="0.85"/>
<circle cx="209.2" cy="115.3" r="0.6" fill="#c0205a" opacity="0.85"/>
<circle cx="287.4" cy="63.6" r="0.6" fill="#c0205a" opacity="0.85"/>
<circle cx="272.5" cy="54.6" r="0.6" fill="#a01848" opacity="0.85"/>
<circle cx="238.9" cy="89.7" r="0.6" fill="#d03070" opacity="0.85"/>
<circle cx="291.0" cy="103.5" r="0.6" fill="#c0205a" opacity="0.85"/>
<circle cx="299.4" cy="108.6" r="0.6" fill="#a01848" opacity="0.85"/>
<circle cx="225.6" cy="67.5" r="0.6" fill="#d03070" opacity="0.85"/>
<circle cx="232.6" cy="91.5" r="0.6" fill="#c0205a" opacity="0.85"/>
<circle cx="250.4" cy="98.7" r="0.6" fill="#d03070" opacity="0.85"/>
<circle cx="266.7" cy="90.8" r="0.6" fill="#d03070" opacity="0.85"/>
<circle cx="246.8" cy="111.0" r="0.6" fill="#d03070" opacity="0.85"/>
<circle cx="208.5" cy="84.6" r="0.6" fill="#c0205a" opacity="0.85"/>
<circle cx="258.0" cy="97.4" r="0.6" fill="#c0205a" opacity="0.85"/>
<circle cx="266.5" cy="112.3" r="0.6" fill="#d03070" opacity="0.85"/>
<circle cx="255.0" cy="115.1" r="0.6" fill="#a01848" opacity="0.85"/>
<circle cx="252.0" cy="58.3" r="0.6" fill="#d03070" opacity="0.85"/>
<circle cx="269.6" cy="105.0" r="0.6" fill="#d03070" opacity="0.85"/>
<circle cx="230.2" cy="85.4" r="0.6" fill="#c0205a" opacity="0.85"/>
<circle cx="251.9" cy="68.8" r="0.6" fill="#d03070" opacity="0.85"/>
<circle cx="246.7" cy="97.4" r="0.6" fill="#c0205a" opacity="0.85"/>
<circle cx="213.9" cy="45.5" r="0.6" fill="#d03070" opacity="0.85"/>
<circle cx="250.6" cy="94.1" r="0.6" fill="#c0205a" opacity="0.85"/>
<circle cx="267.4" cy="90.9" r="0.6" fill="#a01848" opacity="0.85"/>
<circle cx="275.3" cy="114.8" r="0.6" fill="#d03070" opacity="0.85"/>
<circle cx="293.3" cy="61.1" r="0.6" fill="#a01848" opacity="0.85"/>
<circle cx="275.6" cy="56.3" r="0.6" fill="#d03070" opacity="0.85"/>
<circle cx="213.0" cy="65.2" r="0.6" fill="#a01848" opacity="0.85"/>
<circle cx="242.3" cy="67.6" r="0.6" fill="#a01848" opacity="0.85"/>
<circle cx="227.5" cy="54.9" r="0.6" fill="#d03070" opacity="0.85"/>
<circle cx="211.2" cy="100.8" r="0.6" fill="#a01848" opacity="0.85"/>
<circle cx="229.8" cy="56.2" r="0.6" fill="#c0205a" opacity="0.85"/>
<circle cx="297.0" cy="94.3" r="0.6" fill="#a01848" opacity="0.85"/>
<circle cx="300.8" cy="110.5" r="0.6" fill="#a01848" opacity="0.85"/>
<circle cx="219.4" cy="76.5" r="0.6" fill="#c0205a" opacity="0.85"/>
<circle cx="240.8" cy="67.1" r="0.6" fill="#d03070" opacity="0.85"/>
<circle cx="240.3" cy="113.3" r="0.6" fill="#a01848" opacity="0.85"/>
<circle cx="209.1" cy="73.9" r="0.6" fill="#a01848" opacity="0.85"/>
<circle cx="280.1" cy="47.3" r="0.6" fill="#c0205a" opacity="0.85"/>
<circle cx="217.1" cy="91.5" r="0.6" fill="#c0205a" opacity="0.85"/>
<circle cx="276.0" cy="54.7" r="0.6" fill="#d03070" opacity="0.85"/>
<circle cx="305.4" cy="75.8" r="0.6" fill="#a01848" opacity="0.85"/>
<circle cx="258.6" cy="104.9" r="0.6" fill="#a01848" opacity="0.85"/>
<circle cx="239.0" cy="61.0" r="0.6" fill="#d03070" opacity="0.85"/>
<circle cx="282.0" cy="90.8" r="0.6" fill="#c0205a" opacity="0.85"/>
<circle cx="291.0" cy="89.1" r="0.6" fill="#a01848" opacity="0.85"/>
<circle cx="290.8" cy="94.9" r="0.6" fill="#c0205a" opacity="0.85"/>
<circle cx="268.9" cy="88.7" r="0.6" fill="#a01848" opacity="0.85"/>
<circle cx="234.2" cy="56.6" r="0.6" fill="#a01848" opacity="0.85"/>
</g>
<path d="M230.2 116 C230 111 229.5 109 228.6 107.4 C227 105 226 104.3 224.5 104.1 L213.1 103.8 C210 103 208 102 206.5 100.9 L203.3 96 C205 85 207 78 209.8 74.7 C214 68 219 63 224.5 60 C230 56 236 53.5 242.5 51.8 C249 50 255 48.5 262.1 47.7 C270 47 278 47.5 285 48.2 C290 49 294 50 296.5 51.8 C299.5 54 301.5 56 302.2 58.4 C303 65 303.3 70 303.3 74.7 L304.6 96 L306.3 116" fill="none" stroke="#fff" stroke-width="1.2" stroke-dasharray="3.2 2.2"/>
<path d="M0 0 L-10 -4.6 L-7.2 0 L-10 4.6 Z" fill="#fff" transform="translate(280.9 75.5) rotate(53)"/>
<path d="M0 0 L-10 -4.6 L-7.2 0 L-10 4.6 Z" fill="#fff" transform="translate(296.5 91) rotate(81)"/>
<path d="M0 0 L-10 -4.6 L-7.2 0 L-10 4.6 Z" fill="#fff" transform="translate(285 100) rotate(28)"/>
<line x1="296.7" y1="111.5" x2="306.2" y2="111.5" stroke="#fff" stroke-width="1.8"/>
</g>
<clipPath id="clip23"><rect x="201" y="116.5" width="109.2" height="73.2"/></clipPath>
<clipPath id="in23"><path d="M239.3 190 C239 183 237.5 176 235.2 171.7 C230 166 220 161 212.7 157.4 C211.5 153 211.5 149 211.7 145.2 C213 139 216 134 220.9 130.9 C228 127.5 234 126.3 241.3 125.8 C256 125 272 125.5 286.3 126.8 C292 128 296 131 298.5 135 C301 140 303 146 303.6 151.3 C304.5 160 305.5 168 306.7 175.8 L309 190 Z"/></clipPath>
<g clip-path="url(#clip23)">
<rect x="201" y="116.5" width="109.2" height="73.2" fill="#000" stroke="none" stroke-width="1" rx="0"/>
<filter id="bl23" x="-50%" y="-50%" width="200%" height="200%"><feGaussianBlur stdDeviation="4"/></filter>
<ellipse cx="215" cy="180" rx="25" ry="14" fill="#1e0606" opacity="0.9" filter="url(#bl23)"/>
<ellipse cx="308" cy="160" rx="5" ry="35" fill="#3a0818" opacity="0.8" filter="url(#bl23)"/>
<g clip-path="url(#in23)">
<rect x="201" y="116.5" width="109.2" height="73.2" fill="#0b0820" stroke="none" stroke-width="1" rx="0"/>
<ellipse cx="296" cy="172" rx="14" ry="22" fill="#6a1030" opacity="0.7" filter="url(#bl23)"/>
<ellipse cx="300" cy="150" rx="8" ry="20" fill="#6a1030" opacity="0.35" filter="url(#bl23)"/>
<circle cx="302.0" cy="185.9" r="1.00" fill="#3346dc"/>
<circle cx="202.9" cy="139.0" r="0.74" fill="#4559f2"/>
<circle cx="215.2" cy="130.6" r="0.77" fill="#2a3cc4"/>
<circle cx="268.7" cy="182.5" r="0.60" fill="#2a34a8"/>
<circle cx="255.4" cy="117.9" r="0.86" fill="#3a4ed6"/>
<circle cx="240.2" cy="120.7" r="0.94" fill="#5468ff"/>
<circle cx="241.3" cy="129.1" r="0.66" fill="#2a34a8"/>
<circle cx="240.6" cy="172.1" r="0.73" fill="#5468ff"/>
<circle cx="231.7" cy="187.8" r="0.84" fill="#3a4ed6"/>
<circle cx="220.4" cy="151.9" r="0.95" fill="#2a34a8"/>
<circle cx="271.1" cy="129.8" r="0.64" fill="#4559f2"/>
<circle cx="274.5" cy="154.6" r="0.84" fill="#3346dc"/>
<circle cx="211.8" cy="119.3" r="0.69" fill="#5468ff"/>
<circle cx="231.6" cy="159.7" r="0.60" fill="#4559f2"/>
<circle cx="260.2" cy="182.0" r="0.78" fill="#2a3cc4"/>
<circle cx="229.2" cy="124.3" r="0.94" fill="#2a34a8"/>
<circle cx="287.8" cy="152.6" r="0.71" fill="#2a3cc4"/>
<circle cx="301.3" cy="159.9" r="1.02" fill="#2a3cc4"/>
<circle cx="250.1" cy="119.0" r="0.87" fill="#3a4ed6"/>
<circle cx="203.6" cy="175.8" r="0.89" fill="#2a3cc4"/>
<circle cx="288.9" cy="186.0" r="0.82" fill="#3a4ed6"/>
<circle cx="282.8" cy="141.8" r="1.04" fill="#3a4ed6"/>
<circle cx="254.6" cy="119.2" r="0.68" fill="#5468ff"/>
<circle cx="222.5" cy="184.8" r="1.03" fill="#2a3cc4"/>
<circle cx="211.0" cy="157.2" r="0.87" fill="#2a34a8"/>
<circle cx="260.4" cy="176.0" r="0.68" fill="#3a4ed6"/>
<circle cx="219.0" cy="117.4" r="0.93" fill="#2a34a8"/>
<circle cx="298.4" cy="176.1" r="1.00" fill="#2a34a8"/>
<circle cx="289.5" cy="121.6" r="1.03" fill="#2a34a8"/>
<circle cx="282.4" cy="156.5" r="0.76" fill="#4559f2"/>
<circle cx="285.3" cy="157.3" r="0.82" fill="#4559f2"/>
<circle cx="212.8" cy="162.7" r="0.72" fill="#5468ff"/>
<circle cx="280.6" cy="148.0" r="0.63" fill="#2a34a8"/>
<circle cx="209.6" cy="157.6" r="0.82" fill="#2a3cc4"/>
<circle cx="297.9" cy="186.6" r="0.95" fill="#2a34a8"/>
<circle cx="230.7" cy="141.3" r="0.56" fill="#2a3cc4"/>
<circle cx="282.8" cy="145.9" r="0.95" fill="#3346dc"/>
<circle cx="219.9" cy="149.4" r="0.76" fill="#3346dc"/>
<circle cx="246.9" cy="136.8" r="0.85" fill="#5468ff"/>
<circle cx="279.7" cy="129.5" r="0.82" fill="#4559f2"/>
<circle cx="299.1" cy="122.8" r="0.99" fill="#3a4ed6"/>
<circle cx="242.2" cy="117.8" r="0.78" fill="#3a4ed6"/>
<circle cx="232.8" cy="139.9" r="0.72" fill="#4559f2"/>
<circle cx="230.9" cy="184.6" r="0.63" fill="#3346dc"/>
<circle cx="246.8" cy="176.3" r="0.79" fill="#5468ff"/>
<circle cx="297.5" cy="155.9" r="0.90" fill="#3a4ed6"/>
<circle cx="224.7" cy="135.8" r="0.98" fill="#5468ff"/>
<circle cx="241.5" cy="161.9" r="1.04" fill="#4559f2"/>
<circle cx="262.8" cy="148.9" r="0.98" fill="#4559f2"/>
<circle cx="286.5" cy="124.6" r="0.93" fill="#5468ff"/>
<circle cx="270.3" cy="119.6" r="0.95" fill="#4559f2"/>
<circle cx="222.9" cy="157.9" r="0.86" fill="#3346dc"/>
<circle cx="220.7" cy="153.8" r="0.86" fill="#4559f2"/>
<circle cx="233.0" cy="122.2" r="1.01" fill="#2a34a8"/>
<circle cx="267.1" cy="119.5" r="0.61" fill="#2a34a8"/>
<circle cx="220.9" cy="117.9" r="0.86" fill="#2a3cc4"/>
<circle cx="302.8" cy="138.1" r="1.00" fill="#4559f2"/>
<circle cx="263.2" cy="172.9" r="0.96" fill="#5468ff"/>
<circle cx="284.0" cy="124.0" r="0.56" fill="#4559f2"/>
<circle cx="211.1" cy="179.2" r="0.65" fill="#3a4ed6"/>
<circle cx="309.3" cy="172.0" r="0.66" fill="#5468ff"/>
<circle cx="294.8" cy="148.4" r="0.73" fill="#2a34a8"/>
<circle cx="225.0" cy="157.6" r="0.92" fill="#3a4ed6"/>
<circle cx="297.8" cy="188.3" r="1.04" fill="#2a3cc4"/>
<circle cx="239.9" cy="188.4" r="0.71" fill="#3346dc"/>
<circle cx="254.7" cy="142.1" r="0.66" fill="#2a34a8"/>
<circle cx="259.4" cy="131.9" r="0.75" fill="#3346dc"/>
<circle cx="205.4" cy="170.4" r="0.79" fill="#2a3cc4"/>
<circle cx="265.4" cy="146.8" r="0.67" fill="#4559f2"/>
<circle cx="204.8" cy="138.2" r="0.96" fill="#3a4ed6"/>
<circle cx="290.7" cy="158.6" r="1.03" fill="#5468ff"/>
<circle cx="299.1" cy="162.7" r="0.96" fill="#2a3cc4"/>
<circle cx="301.3" cy="188.3" r="0.88" fill="#3a4ed6"/>
<circle cx="308.1" cy="149.9" r="0.55" fill="#2a34a8"/>
<circle cx="242.8" cy="120.7" r="0.57" fill="#3a4ed6"/>
<circle cx="239.2" cy="185.5" r="0.89" fill="#2a34a8"/>
<circle cx="296.4" cy="169.1" r="0.62" fill="#3346dc"/>
<circle cx="283.0" cy="175.9" r="0.78" fill="#3346dc"/>
<circle cx="302.3" cy="147.5" r="0.89" fill="#2a34a8"/>
<circle cx="288.2" cy="125.1" r="0.56" fill="#5468ff"/>
<circle cx="267.2" cy="155.4" r="0.65" fill="#4559f2"/>
<circle cx="286.5" cy="139.4" r="0.90" fill="#3a4ed6"/>
<circle cx="254.9" cy="156.5" r="0.95" fill="#4559f2"/>
<circle cx="237.9" cy="170.6" r="0.66" fill="#2a34a8"/>
<circle cx="263.2" cy="182.5" r="0.63" fill="#2a34a8"/>
<circle cx="286.3" cy="126.7" r="1.01" fill="#2a34a8"/>
<circle cx="301.6" cy="187.5" r="0.61" fill="#5468ff"/>
<circle cx="209.7" cy="122.5" r="0.95" fill="#2a34a8"/>
<circle cx="253.1" cy="185.0" r="0.57" fill="#4559f2"/>
<circle cx="230.7" cy="158.4" r="1.05" fill="#2a34a8"/>
<circle cx="201.7" cy="183.8" r="1.01" fill="#2a34a8"/>
<circle cx="280.9" cy="121.7" r="0.96" fill="#2a3cc4"/>
<circle cx="292.2" cy="152.3" r="0.92" fill="#2a3cc4"/>
<circle cx="229.4" cy="184.3" r="0.85" fill="#3a4ed6"/>
<circle cx="283.9" cy="158.2" r="0.84" fill="#3346dc"/>
<circle cx="270.5" cy="126.7" r="0.95" fill="#4559f2"/>
<circle cx="271.5" cy="185.3" r="0.83" fill="#3a4ed6"/>
<circle cx="201.9" cy="152.9" r="0.78" fill="#4559f2"/>
<circle cx="274.2" cy="161.3" r="0.97" fill="#2a3cc4"/>
<circle cx="234.5" cy="178.1" r="0.61" fill="#2a3cc4"/>
<circle cx="216.3" cy="159.2" r="1.04" fill="#5468ff"/>
<circle cx="292.6" cy="171.6" r="0.65" fill="#2a3cc4"/>
<circle cx="258.0" cy="155.8" r="0.85" fill="#2a3cc4"/>
<circle cx="292.6" cy="136.0" r="0.85" fill="#5468ff"/>
<circle cx="279.4" cy="186.2" r="1.01" fill="#2a3cc4"/>
<circle cx="213.6" cy="148.0" r="0.58" fill="#2a34a8"/>
<circle cx="255.7" cy="188.5" r="0.93" fill="#3346dc"/>
<circle cx="278.7" cy="127.3" r="0.87" fill="#3a4ed6"/>
<circle cx="251.2" cy="128.2" r="0.83" fill="#2a3cc4"/>
<circle cx="237.6" cy="157.8" r="1.04" fill="#3346dc"/>
<circle cx="285.7" cy="170.4" r="0.63" fill="#5468ff"/>
<circle cx="241.7" cy="118.8" r="0.57" fill="#3346dc"/>
<circle cx="218.8" cy="181.6" r="0.72" fill="#2a3cc4"/>
<circle cx="251.7" cy="173.5" r="0.72" fill="#3346dc"/>
<circle cx="288.6" cy="183.2" r="0.94" fill="#3346dc"/>
<circle cx="245.1" cy="165.3" r="0.74" fill="#2a34a8"/>
<circle cx="202.8" cy="157.9" r="0.87" fill="#3346dc"/>
<circle cx="203.6" cy="179.3" r="0.94" fill="#2a34a8"/>
<circle cx="217.0" cy="178.8" r="0.88" fill="#2a34a8"/>
<circle cx="269.4" cy="187.0" r="1.02" fill="#2a34a8"/>
<circle cx="304.6" cy="167.7" r="0.75" fill="#2a3cc4"/>
<circle cx="258.9" cy="154.8" r="1.03" fill="#2a34a8"/>
<circle cx="289.6" cy="158.2" r="0.87" fill="#5468ff"/>
<circle cx="244.7" cy="170.6" r="0.85" fill="#3a4ed6"/>
<circle cx="280.2" cy="169.7" r="0.96" fill="#4559f2"/>
<circle cx="286.9" cy="156.7" r="0.99" fill="#3a4ed6"/>
<circle cx="239.3" cy="184.3" r="0.94" fill="#2a34a8"/>
<circle cx="283.7" cy="122.3" r="0.64" fill="#3346dc"/>
<circle cx="267.6" cy="133.2" r="1.04" fill="#3a4ed6"/>
<circle cx="298.7" cy="177.4" r="0.85" fill="#2a34a8"/>
<circle cx="258.2" cy="135.6" r="1.02" fill="#2a3cc4"/>
<circle cx="307.3" cy="166.8" r="1.04" fill="#2a3cc4"/>
<circle cx="254.7" cy="140.0" r="0.94" fill="#3a4ed6"/>
<circle cx="238.1" cy="156.3" r="0.84" fill="#2a34a8"/>
<circle cx="206.6" cy="144.0" r="0.71" fill="#2a34a8"/>
<circle cx="213.7" cy="121.0" r="0.61" fill="#3346dc"/>
<circle cx="295.8" cy="137.3" r="0.61" fill="#2a3cc4"/>
<circle cx="212.0" cy="165.5" r="0.72" fill="#5468ff"/>
<circle cx="295.8" cy="175.9" r="1.01" fill="#5468ff"/>
<circle cx="223.4" cy="157.9" r="0.75" fill="#5468ff"/>
<circle cx="282.5" cy="137.2" r="0.80" fill="#2a34a8"/>
<circle cx="286.7" cy="170.0" r="0.97" fill="#3a4ed6"/>
<circle cx="260.1" cy="163.4" r="0.57" fill="#3a4ed6"/>
<circle cx="202.5" cy="143.0" r="0.94" fill="#2a34a8"/>
<circle cx="249.0" cy="133.3" r="0.99" fill="#2a34a8"/>
<circle cx="279.0" cy="168.0" r="0.69" fill="#5468ff"/>
<circle cx="222.2" cy="139.1" r="0.79" fill="#3346dc"/>
<circle cx="289.1" cy="135.2" r="0.81" fill="#2a3cc4"/>
<circle cx="293.6" cy="189.1" r="0.76" fill="#2a3cc4"/>
<circle cx="213.6" cy="131.5" r="0.74" fill="#3346dc"/>
<circle cx="295.9" cy="125.3" r="0.92" fill="#4559f2"/>
<circle cx="220.7" cy="177.4" r="0.66" fill="#2a3cc4"/>
<circle cx="201.8" cy="166.6" r="0.81" fill="#3a4ed6"/>
<circle cx="210.4" cy="129.4" r="0.65" fill="#3346dc"/>
<circle cx="288.9" cy="182.4" r="0.59" fill="#3346dc"/>
<circle cx="201.3" cy="143.7" r="0.92" fill="#3346dc"/>
<circle cx="257.3" cy="167.7" r="0.84" fill="#2a34a8"/>
<circle cx="284.6" cy="181.4" r="0.66" fill="#3346dc"/>
<circle cx="285.3" cy="126.2" r="0.60" fill="#2a3cc4"/>
<circle cx="212.8" cy="189.6" r="1.02" fill="#3346dc"/>
<circle cx="276.9" cy="148.7" r="0.68" fill="#3a4ed6"/>
<circle cx="256.5" cy="175.8" r="0.57" fill="#3346dc"/>
<circle cx="261.5" cy="129.0" r="0.71" fill="#5468ff"/>
<circle cx="252.9" cy="176.6" r="0.84" fill="#2a3cc4"/>
<circle cx="235.2" cy="159.0" r="0.57" fill="#5468ff"/>
<circle cx="260.9" cy="165.3" r="0.97" fill="#2a3cc4"/>
<circle cx="254.2" cy="122.9" r="0.95" fill="#2a34a8"/>
<circle cx="291.2" cy="163.1" r="0.88" fill="#2a34a8"/>
<circle cx="235.1" cy="174.0" r="0.66" fill="#2a3cc4"/>
<circle cx="272.2" cy="119.0" r="0.59" fill="#4559f2"/>
<circle cx="244.3" cy="158.4" r="0.90" fill="#2a3cc4"/>
<circle cx="264.3" cy="182.2" r="0.63" fill="#2a3cc4"/>
<circle cx="247.3" cy="124.6" r="0.60" fill="#5468ff"/>
<circle cx="273.5" cy="151.6" r="0.59" fill="#3346dc"/>
<circle cx="258.3" cy="179.9" r="0.66" fill="#4559f2"/>
<circle cx="289.1" cy="129.4" r="0.91" fill="#3346dc"/>
<circle cx="278.1" cy="188.2" r="0.81" fill="#2a3cc4"/>
<circle cx="223.3" cy="127.8" r="0.62" fill="#5468ff"/>
<circle cx="218.1" cy="182.5" r="0.92" fill="#3a4ed6"/>
<circle cx="218.3" cy="169.8" r="0.56" fill="#2a3cc4"/>
<circle cx="298.4" cy="147.8" r="0.84" fill="#4559f2"/>
<circle cx="217.1" cy="184.4" r="0.56" fill="#5468ff"/>
<circle cx="266.5" cy="151.8" r="0.66" fill="#5468ff"/>
<circle cx="289.9" cy="149.5" r="0.82" fill="#3346dc"/>
<circle cx="212.0" cy="142.0" r="0.95" fill="#5468ff"/>
<circle cx="298.9" cy="141.3" r="0.93" fill="#4559f2"/>
<circle cx="306.0" cy="166.3" r="0.71" fill="#2a3cc4"/>
<circle cx="202.8" cy="158.0" r="0.78" fill="#5468ff"/>
<circle cx="227.5" cy="123.2" r="0.85" fill="#3346dc"/>
<circle cx="286.5" cy="143.8" r="0.66" fill="#5468ff"/>
<circle cx="211.2" cy="144.5" r="0.61" fill="#2a3cc4"/>
<circle cx="235.8" cy="167.1" r="0.67" fill="#4559f2"/>
<circle cx="215.1" cy="134.6" r="0.78" fill="#2a34a8"/>
<circle cx="234.5" cy="136.5" r="0.71" fill="#3a4ed6"/>
<circle cx="300.3" cy="133.8" r="0.85" fill="#2a34a8"/>
<circle cx="248.2" cy="158.4" r="0.80" fill="#5468ff"/>
<circle cx="296.0" cy="165.9" r="0.91" fill="#5468ff"/>
<circle cx="286.6" cy="160.1" r="0.75" fill="#2a3cc4"/>
<circle cx="243.8" cy="151.2" r="0.85" fill="#3346dc"/>
<circle cx="266.3" cy="175.9" r="0.55" fill="#5468ff"/>
<circle cx="221.1" cy="180.3" r="0.61" fill="#3a4ed6"/>
<circle cx="280.5" cy="145.0" r="1.00" fill="#5468ff"/>
<circle cx="283.1" cy="163.3" r="0.94" fill="#4559f2"/>
<circle cx="277.5" cy="172.2" r="0.90" fill="#2a3cc4"/>
<circle cx="271.4" cy="186.3" r="0.74" fill="#2a3cc4"/>
<circle cx="213.7" cy="171.3" r="0.62" fill="#4559f2"/>
<circle cx="301.2" cy="144.7" r="0.76" fill="#5468ff"/>
<circle cx="209.5" cy="186.1" r="1.05" fill="#2a3cc4"/>
<circle cx="277.8" cy="118.1" r="0.69" fill="#2a3cc4"/>
<circle cx="262.7" cy="127.4" r="0.85" fill="#4559f2"/>
<circle cx="240.5" cy="171.3" r="0.67" fill="#4559f2"/>
<circle cx="294.3" cy="152.8" r="0.96" fill="#3a4ed6"/>
<circle cx="254.5" cy="170.4" r="0.98" fill="#2a34a8"/>
<circle cx="251.6" cy="153.1" r="0.59" fill="#2a3cc4"/>
<circle cx="246.1" cy="181.3" r="0.89" fill="#4559f2"/>
<circle cx="261.1" cy="119.8" r="0.91" fill="#3346dc"/>
<circle cx="230.1" cy="166.3" r="0.88" fill="#5468ff"/>
<circle cx="213.7" cy="162.0" r="1.01" fill="#5468ff"/>
<circle cx="239.6" cy="150.8" r="0.82" fill="#4559f2"/>
<circle cx="214.7" cy="132.7" r="0.90" fill="#5468ff"/>
<circle cx="202.3" cy="139.1" r="0.55" fill="#2a34a8"/>
<circle cx="288.6" cy="132.8" r="0.56" fill="#3346dc"/>
<circle cx="257.4" cy="154.9" r="0.77" fill="#5468ff"/>
<circle cx="272.4" cy="164.9" r="0.80" fill="#3a4ed6"/>
<circle cx="291.6" cy="138.1" r="0.89" fill="#3346dc"/>
<circle cx="238.1" cy="159.3" r="0.88" fill="#5468ff"/>
<circle cx="240.2" cy="144.2" r="0.78" fill="#2a3cc4"/>
<circle cx="216.5" cy="129.8" r="0.60" fill="#5468ff"/>
<circle cx="229.5" cy="152.5" r="0.93" fill="#3346dc"/>
<circle cx="212.0" cy="176.8" r="0.68" fill="#3a4ed6"/>
<circle cx="270.0" cy="143.2" r="1.04" fill="#2a34a8"/>
<circle cx="225.1" cy="142.1" r="1.03" fill="#2a34a8"/>
<circle cx="222.3" cy="174.4" r="0.75" fill="#2a34a8"/>
<circle cx="208.8" cy="185.2" r="0.86" fill="#3a4ed6"/>
<circle cx="205.9" cy="122.5" r="0.80" fill="#4559f2"/>
<circle cx="221.1" cy="173.9" r="0.62" fill="#4559f2"/>
<circle cx="252.3" cy="117.0" r="0.71" fill="#3346dc"/>
<circle cx="254.8" cy="142.6" r="1.04" fill="#2a34a8"/>
<circle cx="251.7" cy="137.5" r="0.67" fill="#5468ff"/>
<circle cx="286.4" cy="121.8" r="0.92" fill="#3346dc"/>
<circle cx="307.1" cy="133.8" r="0.88" fill="#5468ff"/>
<circle cx="307.5" cy="165.6" r="0.98" fill="#3a4ed6"/>
<circle cx="231.1" cy="149.7" r="0.57" fill="#2a3cc4"/>
<circle cx="303.4" cy="124.2" r="0.63" fill="#5468ff"/>
<circle cx="309.8" cy="140.6" r="0.98" fill="#4559f2"/>
<circle cx="235.6" cy="181.8" r="0.57" fill="#2a3cc4"/>
<circle cx="297.5" cy="160.2" r="0.91" fill="#5468ff"/>
<circle cx="295.5" cy="126.4" r="0.76" fill="#2a3cc4"/>
<circle cx="288.5" cy="174.1" r="0.75" fill="#4559f2"/>
<circle cx="227.4" cy="153.6" r="0.69" fill="#5468ff"/>
<circle cx="284.1" cy="140.7" r="0.71" fill="#3a4ed6"/>
<circle cx="238.2" cy="137.3" r="0.66" fill="#3346dc"/>
<circle cx="297.5" cy="180.1" r="0.80" fill="#2a3cc4"/>
<circle cx="205.2" cy="153.9" r="0.91" fill="#3a4ed6"/>
<circle cx="213.8" cy="167.1" r="0.63" fill="#2a3cc4"/>
<circle cx="302.2" cy="176.4" r="0.99" fill="#3a4ed6"/>
<circle cx="241.4" cy="162.3" r="0.79" fill="#5468ff"/>
<circle cx="283.9" cy="152.2" r="0.71" fill="#4559f2"/>
<circle cx="262.3" cy="121.5" r="0.58" fill="#3346dc"/>
<circle cx="239.9" cy="143.9" r="1.04" fill="#2a34a8"/>
<circle cx="235.5" cy="183.1" r="0.93" fill="#3a4ed6"/>
<circle cx="267.0" cy="136.5" r="0.69" fill="#4559f2"/>
<circle cx="266.1" cy="156.8" r="0.90" fill="#3a4ed6"/>
<circle cx="220.5" cy="173.8" r="0.79" fill="#2a3cc4"/>
<circle cx="219.3" cy="160.0" r="0.72" fill="#5468ff"/>
<circle cx="299.6" cy="153.1" r="0.87" fill="#3a4ed6"/>
<circle cx="280.0" cy="132.3" r="0.96" fill="#5468ff"/>
<circle cx="255.7" cy="119.5" r="0.96" fill="#3346dc"/>
<circle cx="205.9" cy="187.1" r="1.02" fill="#2a3cc4"/>
<circle cx="250.1" cy="148.7" r="0.82" fill="#2a34a8"/>
<circle cx="220.5" cy="156.1" r="0.63" fill="#3346dc"/>
<circle cx="299.2" cy="124.5" r="0.56" fill="#2a34a8"/>
<circle cx="202.5" cy="175.8" r="0.63" fill="#2a34a8"/>
<circle cx="286.1" cy="135.9" r="0.96" fill="#4559f2"/>
<circle cx="207.0" cy="137.5" r="0.77" fill="#2a34a8"/>
<circle cx="210.1" cy="169.8" r="0.84" fill="#2a3cc4"/>
<circle cx="213.6" cy="137.0" r="0.93" fill="#2a3cc4"/>
<circle cx="256.6" cy="156.4" r="0.72" fill="#2a34a8"/>
<circle cx="233.0" cy="142.9" r="0.63" fill="#4559f2"/>
<circle cx="267.8" cy="135.8" r="0.79" fill="#3a4ed6"/>
<circle cx="227.5" cy="175.6" r="0.98" fill="#4559f2"/>
<circle cx="252.3" cy="182.8" r="0.74" fill="#4559f2"/>
<circle cx="268.8" cy="171.7" r="0.71" fill="#4559f2"/>
<circle cx="240.7" cy="168.9" r="0.62" fill="#2a3cc4"/>
<circle cx="259.9" cy="130.5" r="0.59" fill="#3346dc"/>
<circle cx="223.3" cy="123.7" r="0.77" fill="#5468ff"/>
<circle cx="289.6" cy="155.6" r="0.87" fill="#3a4ed6"/>
<circle cx="239.9" cy="124.5" r="0.92" fill="#2a34a8"/>
<circle cx="217.1" cy="139.2" r="0.89" fill="#2a34a8"/>
<circle cx="235.9" cy="116.6" r="0.73" fill="#2a34a8"/>
<circle cx="260.6" cy="176.5" r="0.62" fill="#3a4ed6"/>
<circle cx="202.1" cy="156.2" r="0.88" fill="#3a4ed6"/>
<circle cx="286.8" cy="162.2" r="0.79" fill="#3a4ed6"/>
<circle cx="283.4" cy="122.1" r="0.77" fill="#2a3cc4"/>
<circle cx="249.2" cy="184.5" r="0.80" fill="#3a4ed6"/>
<circle cx="299.8" cy="138.8" r="0.59" fill="#2a34a8"/>
<circle cx="289.8" cy="123.9" r="0.91" fill="#2a3cc4"/>
<circle cx="265.0" cy="179.5" r="0.91" fill="#5468ff"/>
<circle cx="252.8" cy="187.7" r="0.71" fill="#4559f2"/>
<circle cx="289.7" cy="161.4" r="0.71" fill="#3346dc"/>
<circle cx="227.4" cy="168.6" r="0.81" fill="#3346dc"/>
<circle cx="258.9" cy="118.4" r="0.84" fill="#2a34a8"/>
<circle cx="260.6" cy="149.9" r="0.93" fill="#2a3cc4"/>
<circle cx="217.5" cy="173.3" r="0.66" fill="#3a4ed6"/>
<circle cx="277.3" cy="173.3" r="0.60" fill="#3346dc"/>
<circle cx="222.4" cy="166.0" r="0.80" fill="#3346dc"/>
<circle cx="304.8" cy="117.8" r="0.92" fill="#2a34a8"/>
<circle cx="243.0" cy="176.2" r="0.64" fill="#5468ff"/>
<circle cx="271.5" cy="163.7" r="0.92" fill="#4559f2"/>
<circle cx="228.8" cy="118.8" r="0.64" fill="#2a34a8"/>
<circle cx="237.1" cy="136.6" r="0.82" fill="#3a4ed6"/>
<circle cx="203.7" cy="184.3" r="0.83" fill="#5468ff"/>
<circle cx="280.8" cy="185.9" r="0.98" fill="#5468ff"/>
<circle cx="259.9" cy="175.0" r="0.62" fill="#3a4ed6"/>
<circle cx="269.2" cy="140.8" r="0.62" fill="#5468ff"/>
<circle cx="265.0" cy="179.4" r="0.96" fill="#2a34a8"/>
<circle cx="282.7" cy="182.4" r="0.93" fill="#3a4ed6"/>
<circle cx="248.2" cy="147.3" r="1.02" fill="#3346dc"/>
<circle cx="252.2" cy="166.1" r="0.60" fill="#3346dc"/>
<circle cx="277.3" cy="118.4" r="0.85" fill="#3346dc"/>
<circle cx="252.2" cy="186.8" r="0.98" fill="#3a4ed6"/>
<circle cx="238.8" cy="125.2" r="1.04" fill="#3a4ed6"/>
<circle cx="203.1" cy="189.0" r="0.82" fill="#5468ff"/>
<circle cx="223.2" cy="134.3" r="0.57" fill="#3346dc"/>
<circle cx="306.4" cy="176.2" r="0.70" fill="#3a4ed6"/>
<circle cx="202.7" cy="159.1" r="0.79" fill="#3346dc"/>
<circle cx="258.7" cy="128.8" r="0.83" fill="#3346dc"/>
<circle cx="262.1" cy="121.6" r="0.94" fill="#3346dc"/>
<circle cx="283.5" cy="153.5" r="0.63" fill="#3a4ed6"/>
<circle cx="309.8" cy="160.6" r="0.94" fill="#3a4ed6"/>
<circle cx="263.9" cy="157.3" r="0.76" fill="#2a34a8"/>
<circle cx="288.7" cy="179.8" r="0.60" fill="#2a3cc4"/>
<circle cx="224.9" cy="152.2" r="0.95" fill="#5468ff"/>
<circle cx="273.1" cy="116.7" r="0.95" fill="#2a3cc4"/>
<circle cx="214.7" cy="130.9" r="0.66" fill="#2a3cc4"/>
<circle cx="244.8" cy="140.1" r="0.80" fill="#4559f2"/>
<circle cx="251.7" cy="156.1" r="0.89" fill="#4559f2"/>
<circle cx="307.2" cy="168.2" r="0.80" fill="#3346dc"/>
<circle cx="238.9" cy="144.7" r="1.03" fill="#2a34a8"/>
<circle cx="228.2" cy="140.6" r="1.00" fill="#3346dc"/>
<circle cx="269.6" cy="187.8" r="0.72" fill="#2a34a8"/>
<circle cx="270.7" cy="184.2" r="1.02" fill="#5468ff"/>
<circle cx="284.7" cy="159.2" r="0.91" fill="#5468ff"/>
<circle cx="243.6" cy="149.2" r="0.86" fill="#2a34a8"/>
<circle cx="246.2" cy="149.5" r="0.85" fill="#3a4ed6"/>
<circle cx="256.7" cy="144.4" r="0.71" fill="#3346dc"/>
<circle cx="253.1" cy="148.7" r="0.87" fill="#2a3cc4"/>
<circle cx="241.7" cy="187.4" r="0.75" fill="#3346dc"/>
<circle cx="276.2" cy="184.6" r="0.88" fill="#2a3cc4"/>
<circle cx="209.6" cy="116.7" r="1.03" fill="#4559f2"/>
<circle cx="228.3" cy="154.8" r="0.62" fill="#2a3cc4"/>
<circle cx="258.3" cy="140.6" r="0.85" fill="#2a34a8"/>
<circle cx="288.6" cy="147.8" r="0.60" fill="#3346dc"/>
<circle cx="243.4" cy="178.3" r="0.99" fill="#2a34a8"/>
<circle cx="295.4" cy="149.8" r="0.76" fill="#3a4ed6"/>
<circle cx="309.0" cy="131.0" r="0.65" fill="#3a4ed6"/>
<circle cx="253.3" cy="117.9" r="0.84" fill="#3346dc"/>
<circle cx="207.3" cy="136.1" r="0.72" fill="#4559f2"/>
<circle cx="251.0" cy="172.1" r="1.04" fill="#3346dc"/>
<circle cx="248.5" cy="154.4" r="0.82" fill="#4559f2"/>
<circle cx="293.6" cy="117.5" r="0.90" fill="#2a34a8"/>
<circle cx="291.4" cy="185.1" r="0.98" fill="#3a4ed6"/>
<circle cx="287.9" cy="120.5" r="0.96" fill="#2a34a8"/>
<circle cx="236.3" cy="171.9" r="0.57" fill="#4559f2"/>
<circle cx="202.8" cy="153.0" r="0.71" fill="#4559f2"/>
<circle cx="305.4" cy="117.1" r="1.01" fill="#5468ff"/>
<circle cx="274.0" cy="189.2" r="0.75" fill="#5468ff"/>
<circle cx="211.4" cy="153.4" r="0.98" fill="#4559f2"/>
<circle cx="267.1" cy="129.4" r="0.57" fill="#2a34a8"/>
<circle cx="302.8" cy="157.7" r="0.70" fill="#4559f2"/>
<circle cx="300.5" cy="139.0" r="0.91" fill="#4559f2"/>
<circle cx="289.6" cy="187.3" r="0.74" fill="#3a4ed6"/>
<circle cx="230.1" cy="188.4" r="1.00" fill="#3a4ed6"/>
<circle cx="256.5" cy="117.1" r="0.75" fill="#2a34a8"/>
<circle cx="268.6" cy="132.0" r="0.72" fill="#4559f2"/>
<circle cx="252.0" cy="128.8" r="0.92" fill="#5468ff"/>
<circle cx="237.2" cy="126.8" r="0.68" fill="#2a34a8"/>
<circle cx="232.3" cy="187.5" r="0.61" fill="#3346dc"/>
<circle cx="257.2" cy="153.4" r="0.99" fill="#3a4ed6"/>
<circle cx="244.7" cy="171.3" r="0.88" fill="#2a3cc4"/>
<circle cx="221.4" cy="172.5" r="0.70" fill="#4559f2"/>
<circle cx="217.3" cy="185.8" r="0.90" fill="#3a4ed6"/>
<circle cx="219.8" cy="122.1" r="0.68" fill="#3346dc"/>
<circle cx="245.3" cy="121.8" r="0.65" fill="#3a4ed6"/>
<circle cx="215.0" cy="147.0" r="0.59" fill="#3a4ed6"/>
<circle cx="306.3" cy="181.9" r="0.89" fill="#2a3cc4"/>
<circle cx="255.9" cy="177.6" r="0.89" fill="#3a4ed6"/>
<circle cx="246.2" cy="164.6" r="0.65" fill="#5468ff"/>
<circle cx="291.1" cy="154.4" r="0.89" fill="#5468ff"/>
<circle cx="209.6" cy="161.8" r="0.65" fill="#3a4ed6"/>
<circle cx="232.6" cy="180.0" r="0.80" fill="#4559f2"/>
<circle cx="285.3" cy="141.6" r="0.92" fill="#3a4ed6"/>
<circle cx="256.7" cy="155.0" r="0.79" fill="#3a4ed6"/>
<circle cx="284.5" cy="178.2" r="1.01" fill="#4559f2"/>
<circle cx="301.3" cy="128.4" r="0.59" fill="#2a34a8"/>
<circle cx="302.2" cy="169.8" r="0.59" fill="#5468ff"/>
<circle cx="238.7" cy="171.3" r="0.95" fill="#3a4ed6"/>
<circle cx="266.8" cy="142.8" r="0.89" fill="#3346dc"/>
<circle cx="273.4" cy="150.2" r="0.62" fill="#2a34a8"/>
<circle cx="207.8" cy="174.2" r="0.81" fill="#4559f2"/>
<circle cx="211.1" cy="166.1" r="0.94" fill="#4559f2"/>
<circle cx="265.0" cy="139.0" r="0.72" fill="#3346dc"/>
<circle cx="216.1" cy="130.0" r="0.56" fill="#4559f2"/>
<circle cx="292.3" cy="142.2" r="0.69" fill="#5468ff"/>
<circle cx="219.4" cy="160.5" r="1.03" fill="#2a3cc4"/>
<circle cx="222.6" cy="183.7" r="0.82" fill="#5468ff"/>
<circle cx="264.3" cy="177.5" r="0.99" fill="#3346dc"/>
<circle cx="266.4" cy="141.7" r="0.61" fill="#4559f2"/>
<circle cx="221.1" cy="160.8" r="0.63" fill="#2a34a8"/>
<circle cx="234.2" cy="133.2" r="0.79" fill="#4559f2"/>
<circle cx="234.3" cy="149.5" r="1.01" fill="#4559f2"/>
<circle cx="202.9" cy="176.4" r="1.04" fill="#4559f2"/>
<circle cx="245.0" cy="147.6" r="0.77" fill="#4559f2"/>
<circle cx="258.6" cy="157.4" r="0.86" fill="#4559f2"/>
<circle cx="249.2" cy="180.1" r="0.99" fill="#3346dc"/>
<circle cx="270.9" cy="188.3" r="0.62" fill="#5468ff"/>
<circle cx="283.5" cy="144.4" r="0.97" fill="#2a3cc4"/>
<circle cx="202.2" cy="164.4" r="0.77" fill="#2a34a8"/>
<circle cx="251.5" cy="131.6" r="0.75" fill="#4559f2"/>
<circle cx="297.9" cy="143.0" r="0.72" fill="#2a3cc4"/>
<circle cx="298.1" cy="128.8" r="0.85" fill="#2a3cc4"/>
<circle cx="249.9" cy="145.8" r="0.67" fill="#2a34a8"/>
<circle cx="245.8" cy="149.0" r="0.58" fill="#5468ff"/>
<circle cx="212.0" cy="158.6" r="0.99" fill="#3a4ed6"/>
<circle cx="246.1" cy="158.9" r="0.64" fill="#3346dc"/>
<circle cx="213.7" cy="161.0" r="1.00" fill="#3a4ed6"/>
<circle cx="252.6" cy="161.2" r="0.64" fill="#4559f2"/>
<circle cx="221.1" cy="131.6" r="0.83" fill="#2a34a8"/>
<circle cx="269.4" cy="117.0" r="0.67" fill="#4559f2"/>
<circle cx="298.0" cy="121.8" r="0.83" fill="#5468ff"/>
<circle cx="273.6" cy="161.0" r="0.81" fill="#3a4ed6"/>
<circle cx="227.4" cy="138.3" r="0.67" fill="#4559f2"/>
<circle cx="247.3" cy="166.5" r="0.60" fill="#3a4ed6"/>
<circle cx="293.5" cy="148.1" r="0.91" fill="#3a4ed6"/>
<circle cx="203.0" cy="160.1" r="1.02" fill="#3346dc"/>
<circle cx="273.5" cy="164.1" r="0.55" fill="#5468ff"/>
<circle cx="239.5" cy="148.7" r="0.72" fill="#3a4ed6"/>
<circle cx="220.5" cy="135.4" r="0.71" fill="#4559f2"/>
<circle cx="253.4" cy="127.9" r="0.66" fill="#4559f2"/>
<circle cx="224.4" cy="149.8" r="0.56" fill="#2a34a8"/>
<circle cx="279.9" cy="122.8" r="0.84" fill="#3a4ed6"/>
<circle cx="296.9" cy="173.1" r="0.66" fill="#2a3cc4"/>
<circle cx="306.8" cy="159.8" r="0.91" fill="#2a34a8"/>
<circle cx="271.0" cy="155.9" r="0.58" fill="#2a34a8"/>
<circle cx="246.3" cy="179.3" r="0.96" fill="#4559f2"/>
<circle cx="244.1" cy="129.8" r="0.89" fill="#2a3cc4"/>
<circle cx="213.5" cy="163.1" r="0.69" fill="#5468ff"/>
<circle cx="288.8" cy="129.6" r="0.86" fill="#3346dc"/>
<circle cx="305.2" cy="147.7" r="0.58" fill="#3a4ed6"/>
<circle cx="247.9" cy="167.8" r="0.95" fill="#3346dc"/>
<circle cx="205.0" cy="130.9" r="0.69" fill="#5468ff"/>
<circle cx="289.6" cy="188.4" r="0.71" fill="#5468ff"/>
<circle cx="307.6" cy="128.9" r="1.04" fill="#3a4ed6"/>
<circle cx="285.8" cy="140.3" r="1.01" fill="#3346dc"/>
<circle cx="293.0" cy="152.7" r="0.96" fill="#5468ff"/>
<circle cx="230.5" cy="125.6" r="0.99" fill="#4559f2"/>
<circle cx="259.4" cy="128.5" r="0.80" fill="#2a3cc4"/>
<circle cx="237.5" cy="155.3" r="0.62" fill="#2a3cc4"/>
<circle cx="264.9" cy="166.0" r="0.72" fill="#4559f2"/>
<circle cx="259.0" cy="160.6" r="0.96" fill="#4559f2"/>
<circle cx="265.1" cy="146.5" r="0.85" fill="#3346dc"/>
<circle cx="243.7" cy="156.4" r="0.65" fill="#5468ff"/>
<circle cx="279.6" cy="140.5" r="0.68" fill="#4559f2"/>
<circle cx="264.7" cy="173.7" r="1.00" fill="#4559f2"/>
<circle cx="244.3" cy="170.7" r="0.77" fill="#2a34a8"/>
<circle cx="296.2" cy="187.7" r="0.88" fill="#5468ff"/>
<circle cx="215.5" cy="146.6" r="0.92" fill="#5468ff"/>
<circle cx="268.7" cy="158.7" r="0.57" fill="#2a3cc4"/>
<circle cx="276.4" cy="166.9" r="0.67" fill="#4559f2"/>
<circle cx="235.3" cy="142.8" r="0.92" fill="#4559f2"/>
<circle cx="272.4" cy="160.5" r="0.71" fill="#4559f2"/>
<circle cx="228.8" cy="157.4" r="0.74" fill="#3346dc"/>
<circle cx="299.6" cy="129.1" r="0.72" fill="#3a4ed6"/>
<circle cx="268.5" cy="130.0" r="0.59" fill="#4559f2"/>
<circle cx="257.3" cy="125.0" r="0.90" fill="#4559f2"/>
<circle cx="238.4" cy="174.2" r="0.81" fill="#2a3cc4"/>
<circle cx="215.3" cy="142.4" r="0.62" fill="#4559f2"/>
<circle cx="290.3" cy="117.3" r="0.89" fill="#3a4ed6"/>
<circle cx="235.1" cy="128.4" r="0.90" fill="#2a34a8"/>
<circle cx="203.8" cy="128.0" r="0.93" fill="#4559f2"/>
<circle cx="203.7" cy="126.8" r="0.60" fill="#4559f2"/>
<circle cx="241.6" cy="117.8" r="0.89" fill="#4559f2"/>
<circle cx="231.7" cy="169.7" r="0.70" fill="#2a34a8"/>
<circle cx="221.7" cy="128.4" r="0.96" fill="#4559f2"/>
<circle cx="237.7" cy="161.8" r="1.03" fill="#2a3cc4"/>
<circle cx="229.8" cy="144.8" r="0.62" fill="#5468ff"/>
<circle cx="249.4" cy="154.3" r="0.80" fill="#2a34a8"/>
<circle cx="235.1" cy="139.6" r="0.77" fill="#3346dc"/>
<circle cx="286.4" cy="131.7" r="0.57" fill="#3346dc"/>
<circle cx="272.9" cy="172.8" r="0.77" fill="#4559f2"/>
<circle cx="240.8" cy="172.8" r="0.86" fill="#2a34a8"/>
<circle cx="278.0" cy="184.7" r="0.58" fill="#3a4ed6"/>
<circle cx="258.0" cy="119.5" r="0.89" fill="#3a4ed6"/>
<circle cx="299.7" cy="139.6" r="0.81" fill="#2a34a8"/>
<circle cx="202.7" cy="134.3" r="0.71" fill="#3a4ed6"/>
<circle cx="237.4" cy="151.5" r="0.82" fill="#2a34a8"/>
<circle cx="258.8" cy="137.7" r="0.63" fill="#3a4ed6"/>
<circle cx="205.7" cy="118.0" r="0.64" fill="#5468ff"/>
<circle cx="235.4" cy="182.9" r="0.92" fill="#4559f2"/>
<circle cx="272.0" cy="165.9" r="0.96" fill="#2a34a8"/>
<circle cx="216.9" cy="164.5" r="1.01" fill="#3a4ed6"/>
<circle cx="286.9" cy="121.1" r="1.02" fill="#2a34a8"/>
<circle cx="204.7" cy="116.7" r="0.87" fill="#5468ff"/>
<circle cx="255.9" cy="149.4" r="0.60" fill="#2a3cc4"/>
<circle cx="270.4" cy="174.0" r="1.05" fill="#3a4ed6"/>
<circle cx="301.2" cy="158.4" r="0.78" fill="#2a3cc4"/>
<circle cx="245.9" cy="172.7" r="1.00" fill="#3346dc"/>
<circle cx="204.1" cy="188.5" r="0.64" fill="#5468ff"/>
<circle cx="217.1" cy="156.0" r="0.61" fill="#5468ff"/>
<circle cx="308.8" cy="180.2" r="1.05" fill="#4559f2"/>
<circle cx="213.8" cy="138.8" r="0.99" fill="#5468ff"/>
<circle cx="237.0" cy="154.9" r="0.86" fill="#4559f2"/>
<circle cx="236.3" cy="122.5" r="0.69" fill="#2a34a8"/>
<circle cx="310.1" cy="123.3" r="0.92" fill="#3a4ed6"/>
<circle cx="245.6" cy="181.1" r="0.75" fill="#3a4ed6"/>
<circle cx="261.3" cy="146.0" r="0.87" fill="#2a34a8"/>
<circle cx="251.7" cy="138.2" r="0.78" fill="#2a3cc4"/>
<circle cx="300.2" cy="182.3" r="0.68" fill="#3a4ed6"/>
<circle cx="279.9" cy="162.0" r="0.59" fill="#3346dc"/>
<circle cx="241.2" cy="167.9" r="0.62" fill="#3a4ed6"/>
<circle cx="219.1" cy="131.5" r="0.83" fill="#3a4ed6"/>
<circle cx="239.7" cy="158.9" r="1.02" fill="#2a3cc4"/>
<circle cx="283.4" cy="169.1" r="0.74" fill="#2a3cc4"/>
<circle cx="219.1" cy="141.0" r="0.57" fill="#3346dc"/>
<circle cx="211.7" cy="137.1" r="0.84" fill="#4559f2"/>
<circle cx="304.0" cy="125.1" r="1.03" fill="#2a34a8"/>
<circle cx="234.1" cy="164.4" r="0.74" fill="#2a34a8"/>
<circle cx="208.9" cy="164.7" r="0.62" fill="#2a34a8"/>
<circle cx="268.3" cy="127.0" r="0.98" fill="#5468ff"/>
<circle cx="223.3" cy="119.9" r="0.93" fill="#4559f2"/>
<circle cx="212.5" cy="146.3" r="1.03" fill="#5468ff"/>
<circle cx="227.1" cy="186.9" r="0.61" fill="#3346dc"/>
<circle cx="307.8" cy="118.6" r="0.87" fill="#2a34a8"/>
<circle cx="210.6" cy="148.8" r="0.91" fill="#3346dc"/>
<circle cx="206.6" cy="169.2" r="0.71" fill="#5468ff"/>
<circle cx="257.9" cy="147.0" r="0.95" fill="#5468ff"/>
<circle cx="243.1" cy="177.8" r="0.63" fill="#3a4ed6"/>
<circle cx="222.7" cy="189.0" r="0.71" fill="#2a34a8"/>
<circle cx="217.0" cy="153.4" r="0.66" fill="#3346dc"/>
<circle cx="287.1" cy="170.1" r="0.63" fill="#4559f2"/>
<circle cx="206.8" cy="146.9" r="0.77" fill="#3a4ed6"/>
<circle cx="211.7" cy="174.2" r="0.88" fill="#4559f2"/>
<circle cx="289.1" cy="137.9" r="0.92" fill="#2a3cc4"/>
<circle cx="292.3" cy="146.9" r="0.59" fill="#2a34a8"/>
<circle cx="288.6" cy="149.5" r="0.57" fill="#2a34a8"/>
<circle cx="234.6" cy="127.3" r="0.82" fill="#3a4ed6"/>
<circle cx="296.4" cy="157.9" r="0.95" fill="#2a34a8"/>
<circle cx="207.4" cy="160.2" r="0.58" fill="#4559f2"/>
<circle cx="244.9" cy="158.8" r="0.81" fill="#5468ff"/>
<circle cx="308.2" cy="117.4" r="0.85" fill="#2a3cc4"/>
<circle cx="262.5" cy="181.5" r="1.04" fill="#4559f2"/>
<circle cx="301.4" cy="166.1" r="0.61" fill="#2a3cc4"/>
<circle cx="287.6" cy="130.7" r="0.97" fill="#2a3cc4"/>
<circle cx="221.2" cy="180.2" r="0.86" fill="#3346dc"/>
<circle cx="287.8" cy="145.5" r="0.86" fill="#3346dc"/>
<circle cx="285.6" cy="125.1" r="0.59" fill="#3346dc"/>
<circle cx="270.9" cy="185.7" r="0.93" fill="#2a34a8"/>
<circle cx="244.3" cy="145.4" r="0.79" fill="#3346dc"/>
<circle cx="202.4" cy="124.3" r="0.92" fill="#2a34a8"/>
<circle cx="201.9" cy="163.1" r="1.01" fill="#4559f2"/>
<circle cx="292.0" cy="184.6" r="0.72" fill="#3a4ed6"/>
<circle cx="221.4" cy="178.0" r="0.70" fill="#3346dc"/>
<circle cx="265.4" cy="130.8" r="1.05" fill="#2a3cc4"/>
<circle cx="210.4" cy="168.4" r="0.76" fill="#2a3cc4"/>
<circle cx="214.8" cy="189.4" r="0.82" fill="#3346dc"/>
<circle cx="208.7" cy="162.8" r="0.71" fill="#3346dc"/>
<circle cx="262.6" cy="127.2" r="0.85" fill="#2a3cc4"/>
<circle cx="307.1" cy="120.3" r="0.79" fill="#3a4ed6"/>
<circle cx="266.9" cy="157.3" r="0.64" fill="#4559f2"/>
<circle cx="207.6" cy="140.0" r="0.84" fill="#5468ff"/>
<circle cx="298.8" cy="129.6" r="0.75" fill="#3346dc"/>
<circle cx="230.5" cy="146.0" r="1.01" fill="#3a4ed6"/>
<circle cx="206.4" cy="155.6" r="1.05" fill="#4559f2"/>
<circle cx="274.1" cy="119.3" r="0.63" fill="#2a3cc4"/>
<circle cx="278.0" cy="124.8" r="0.98" fill="#3346dc"/>
<circle cx="245.6" cy="171.2" r="0.68" fill="#2a3cc4"/>
<circle cx="204.5" cy="126.3" r="0.55" fill="#2a3cc4"/>
<circle cx="207.5" cy="151.5" r="0.77" fill="#5468ff"/>
<circle cx="256.5" cy="171.5" r="0.97" fill="#2a34a8"/>
<circle cx="223.2" cy="135.1" r="0.58" fill="#2a3cc4"/>
<circle cx="204.5" cy="143.4" r="0.57" fill="#2a34a8"/>
<circle cx="290.7" cy="142.5" r="0.70" fill="#5468ff"/>
<circle cx="253.7" cy="154.9" r="1.02" fill="#3a4ed6"/>
<circle cx="225.5" cy="185.8" r="0.99" fill="#2a34a8"/>
<circle cx="222.0" cy="132.2" r="0.78" fill="#3a4ed6"/>
<circle cx="246.6" cy="164.0" r="0.94" fill="#3a4ed6"/>
<circle cx="305.1" cy="124.9" r="0.79" fill="#2a34a8"/>
<circle cx="288.9" cy="138.1" r="0.90" fill="#2a3cc4"/>
<circle cx="296.2" cy="138.9" r="0.59" fill="#2a34a8"/>
<circle cx="256.8" cy="170.0" r="0.66" fill="#4559f2"/>
<circle cx="230.1" cy="144.5" r="0.97" fill="#2a3cc4"/>
<circle cx="290.2" cy="158.3" r="0.82" fill="#5468ff"/>
<circle cx="205.8" cy="142.5" r="0.57" fill="#2a3cc4"/>
<circle cx="281.0" cy="169.2" r="0.66" fill="#4559f2"/>
<circle cx="307.3" cy="128.7" r="0.79" fill="#2a3cc4"/>
<circle cx="309.9" cy="188.6" r="0.93" fill="#4559f2"/>
<circle cx="290.2" cy="148.2" r="1.00" fill="#4559f2"/>
<circle cx="223.3" cy="172.2" r="0.87" fill="#5468ff"/>
<circle cx="234.1" cy="144.7" r="0.79" fill="#5468ff"/>
<circle cx="207.9" cy="132.1" r="0.66" fill="#3a4ed6"/>
<circle cx="287.9" cy="155.1" r="0.79" fill="#3a4ed6"/>
<circle cx="236.7" cy="179.2" r="0.69" fill="#2a3cc4"/>
<circle cx="216.9" cy="128.8" r="0.56" fill="#2a34a8"/>
<circle cx="250.7" cy="154.8" r="0.88" fill="#4559f2"/>
<circle cx="226.8" cy="154.8" r="1.00" fill="#5468ff"/>
<circle cx="292.8" cy="175.9" r="0.68" fill="#2a34a8"/>
<circle cx="292.9" cy="171.3" r="0.86" fill="#2a3cc4"/>
<circle cx="203.1" cy="161.7" r="0.71" fill="#3a4ed6"/>
<circle cx="297.7" cy="161.2" r="0.72" fill="#3a4ed6"/>
<circle cx="251.7" cy="132.0" r="0.87" fill="#2a34a8"/>
<circle cx="255.0" cy="159.3" r="0.96" fill="#4559f2"/>
<circle cx="251.9" cy="157.9" r="0.63" fill="#2a3cc4"/>
<circle cx="283.6" cy="153.4" r="0.94" fill="#3346dc"/>
<circle cx="224.8" cy="124.5" r="0.68" fill="#3a4ed6"/>
<circle cx="234.9" cy="177.3" r="0.71" fill="#2a3cc4"/>
<circle cx="300.6" cy="164.7" r="1.00" fill="#3a4ed6"/>
<circle cx="222.5" cy="173.5" r="0.84" fill="#3a4ed6"/>
<circle cx="215.0" cy="120.3" r="0.67" fill="#3a4ed6"/>
<circle cx="203.0" cy="181.9" r="0.79" fill="#2a34a8"/>
<circle cx="281.6" cy="124.2" r="0.90" fill="#3346dc"/>
<circle cx="257.8" cy="151.8" r="1.00" fill="#5468ff"/>
<circle cx="266.8" cy="137.9" r="0.63" fill="#5468ff"/>
<circle cx="256.8" cy="154.7" r="0.75" fill="#3346dc"/>
<circle cx="298.7" cy="129.6" r="0.74" fill="#3a4ed6"/>
<circle cx="270.1" cy="130.8" r="1.00" fill="#4559f2"/>
<circle cx="235.0" cy="146.8" r="1.04" fill="#2a34a8"/>
<circle cx="254.3" cy="188.9" r="0.91" fill="#2a3cc4"/>
<circle cx="215.3" cy="157.2" r="0.59" fill="#4559f2"/>
<circle cx="201.7" cy="183.2" r="0.94" fill="#4559f2"/>
<circle cx="232.3" cy="173.2" r="0.92" fill="#3346dc"/>
<circle cx="212.4" cy="187.4" r="0.76" fill="#2a34a8"/>
<circle cx="234.0" cy="179.9" r="0.88" fill="#5468ff"/>
<circle cx="268.3" cy="143.9" r="0.82" fill="#2a34a8"/>
<circle cx="235.5" cy="185.4" r="0.86" fill="#2a3cc4"/>
<circle cx="217.3" cy="152.8" r="0.80" fill="#4559f2"/>
<circle cx="209.3" cy="121.3" r="1.00" fill="#2a34a8"/>
<circle cx="229.5" cy="154.3" r="0.75" fill="#4559f2"/>
<circle cx="248.6" cy="153.8" r="0.65" fill="#3346dc"/>
<circle cx="215.5" cy="182.2" r="0.62" fill="#3346dc"/>
<circle cx="225.0" cy="186.1" r="0.66" fill="#2a34a8"/>
<circle cx="207.7" cy="167.2" r="0.67" fill="#4559f2"/>
<circle cx="223.4" cy="131.9" r="0.99" fill="#3a4ed6"/>
<circle cx="218.5" cy="148.1" r="0.55" fill="#2a3cc4"/>
<circle cx="282.7" cy="138.4" r="0.63" fill="#3a4ed6"/>
<circle cx="208.6" cy="149.7" r="0.57" fill="#5468ff"/>
<circle cx="298.8" cy="178.2" r="1.03" fill="#2a34a8"/>
<circle cx="251.4" cy="124.8" r="0.57" fill="#2a3cc4"/>
<circle cx="294.9" cy="164.6" r="1.04" fill="#2a3cc4"/>
<circle cx="303.1" cy="131.9" r="0.60" fill="#5468ff"/>
<circle cx="248.7" cy="177.5" r="0.86" fill="#4559f2"/>
<circle cx="257.4" cy="131.1" r="0.59" fill="#5468ff"/>
<circle cx="270.0" cy="171.0" r="0.98" fill="#2a3cc4"/>
<circle cx="292.7" cy="144.3" r="0.84" fill="#2a3cc4"/>
<circle cx="306.4" cy="159.8" r="0.94" fill="#3a4ed6"/>
<circle cx="205.5" cy="122.4" r="0.84" fill="#4559f2"/>
<circle cx="202.9" cy="146.6" r="0.61" fill="#3346dc"/>
<circle cx="244.7" cy="151.9" r="0.98" fill="#3346dc"/>
<circle cx="306.5" cy="132.2" r="0.72" fill="#2a34a8"/>
<circle cx="282.6" cy="143.7" r="0.71" fill="#2a34a8"/>
<circle cx="208.8" cy="123.6" r="0.71" fill="#2a34a8"/>
<circle cx="268.8" cy="171.5" r="0.94" fill="#2a34a8"/>
<circle cx="240.2" cy="154.2" r="1.04" fill="#2a3cc4"/>
<circle cx="263.3" cy="185.4" r="0.95" fill="#2a34a8"/>
<circle cx="230.8" cy="163.3" r="0.89" fill="#3346dc"/>
<circle cx="246.5" cy="184.0" r="0.79" fill="#5468ff"/>
<circle cx="252.7" cy="169.0" r="0.66" fill="#2a3cc4"/>
<circle cx="256.6" cy="131.4" r="0.72" fill="#2a34a8"/>
<circle cx="293.2" cy="179.5" r="0.77" fill="#3346dc"/>
<circle cx="208.0" cy="131.4" r="0.77" fill="#3a4ed6"/>
<circle cx="230.4" cy="165.8" r="0.91" fill="#3a4ed6"/>
<circle cx="237.2" cy="139.9" r="0.87" fill="#3a4ed6"/>
<circle cx="304.1" cy="130.6" r="0.90" fill="#3346dc"/>
<circle cx="224.2" cy="170.3" r="0.84" fill="#2a3cc4"/>
<circle cx="296.1" cy="174.2" r="0.62" fill="#5468ff"/>
<circle cx="307.4" cy="153.7" r="1.04" fill="#5468ff"/>
<circle cx="248.9" cy="159.1" r="0.72" fill="#4559f2"/>
<circle cx="275.7" cy="156.9" r="0.87" fill="#3346dc"/>
<circle cx="233.0" cy="138.0" r="1.04" fill="#2a3cc4"/>
<circle cx="294.5" cy="146.2" r="1.03" fill="#5468ff"/>
<circle cx="259.1" cy="143.9" r="0.63" fill="#2a3cc4"/>
<circle cx="235.1" cy="137.7" r="1.04" fill="#2a34a8"/>
<circle cx="259.9" cy="132.0" r="0.96" fill="#5468ff"/>
<circle cx="302.2" cy="181.8" r="0.63" fill="#2a3cc4"/>
<circle cx="255.3" cy="149.3" r="0.65" fill="#5468ff"/>
<circle cx="277.9" cy="143.9" r="0.86" fill="#2a34a8"/>
<circle cx="291.8" cy="184.6" r="0.95" fill="#3a4ed6"/>
<circle cx="233.7" cy="144.3" r="0.88" fill="#2a34a8"/>
<circle cx="201.5" cy="176.4" r="0.77" fill="#5468ff"/>
<circle cx="296.4" cy="122.8" r="0.59" fill="#3346dc"/>
<circle cx="220.4" cy="141.9" r="0.84" fill="#5468ff"/>
<circle cx="254.5" cy="134.5" r="0.84" fill="#2a34a8"/>
<circle cx="207.8" cy="152.6" r="1.04" fill="#3a4ed6"/>
<circle cx="237.8" cy="139.2" r="0.68" fill="#2a3cc4"/>
<circle cx="248.6" cy="185.1" r="0.92" fill="#3346dc"/>
<circle cx="217.2" cy="181.3" r="0.82" fill="#3346dc"/>
<circle cx="269.4" cy="184.0" r="0.95" fill="#3a4ed6"/>
<circle cx="229.2" cy="124.5" r="0.94" fill="#3a4ed6"/>
<circle cx="215.5" cy="136.2" r="0.67" fill="#3a4ed6"/>
<circle cx="229.0" cy="187.1" r="0.64" fill="#5468ff"/>
<circle cx="225.3" cy="156.2" r="0.59" fill="#5468ff"/>
<circle cx="305.0" cy="177.6" r="0.58" fill="#4559f2"/>
<circle cx="237.5" cy="148.1" r="0.87" fill="#3346dc"/>
<circle cx="241.7" cy="168.9" r="1.04" fill="#3346dc"/>
<circle cx="201.1" cy="154.6" r="0.94" fill="#3346dc"/>
<circle cx="206.3" cy="179.6" r="0.70" fill="#5468ff"/>
<circle cx="306.4" cy="163.8" r="0.69" fill="#3346dc"/>
<circle cx="304.3" cy="181.7" r="0.82" fill="#3346dc"/>
<circle cx="295.2" cy="168.7" r="0.57" fill="#2a3cc4"/>
<circle cx="282.8" cy="131.8" r="0.77" fill="#3346dc"/>
<circle cx="256.6" cy="168.4" r="0.82" fill="#2a3cc4"/>
<circle cx="280.8" cy="166.9" r="0.80" fill="#4559f2"/>
<circle cx="242.6" cy="174.7" r="0.98" fill="#2a3cc4"/>
<circle cx="283.8" cy="138.2" r="0.82" fill="#5468ff"/>
<circle cx="250.6" cy="126.8" r="0.60" fill="#2a34a8"/>
<circle cx="308.2" cy="189.7" r="0.76" fill="#5468ff"/>
<circle cx="255.0" cy="148.3" r="0.99" fill="#5468ff"/>
<circle cx="271.1" cy="149.5" r="0.95" fill="#3a4ed6"/>
<circle cx="302.6" cy="187.8" r="1.01" fill="#3346dc"/>
<circle cx="202.6" cy="178.6" r="1.05" fill="#4559f2"/>
<circle cx="294.3" cy="176.6" r="0.93" fill="#3a4ed6"/>
<circle cx="274.1" cy="176.5" r="0.97" fill="#5468ff"/>
<circle cx="236.2" cy="121.8" r="0.89" fill="#5468ff"/>
<circle cx="208.4" cy="154.6" r="1.04" fill="#2a34a8"/>
<circle cx="307.2" cy="153.3" r="0.84" fill="#2a34a8"/>
<circle cx="201.9" cy="161.1" r="0.62" fill="#2a3cc4"/>
<circle cx="304.4" cy="119.6" r="1.02" fill="#5468ff"/>
<circle cx="217.7" cy="168.6" r="1.00" fill="#4559f2"/>
<circle cx="286.3" cy="117.6" r="0.98" fill="#4559f2"/>
<circle cx="216.8" cy="141.4" r="0.87" fill="#3a4ed6"/>
<circle cx="208.4" cy="153.2" r="0.97" fill="#4559f2"/>
<circle cx="278.8" cy="123.6" r="0.75" fill="#3a4ed6"/>
<circle cx="203.3" cy="170.8" r="0.68" fill="#2a34a8"/>
<circle cx="251.2" cy="131.4" r="0.70" fill="#3a4ed6"/>
<circle cx="217.9" cy="138.4" r="0.89" fill="#5468ff"/>
<circle cx="300.7" cy="155.4" r="0.96" fill="#3a4ed6"/>
<circle cx="253.5" cy="161.4" r="0.56" fill="#3346dc"/>
<circle cx="256.5" cy="145.1" r="0.61" fill="#4559f2"/>
<circle cx="212.0" cy="134.5" r="0.96" fill="#2a3cc4"/>
<circle cx="237.1" cy="140.0" r="0.86" fill="#2a34a8"/>
<circle cx="213.8" cy="140.7" r="0.74" fill="#3346dc"/>
<circle cx="241.0" cy="179.1" r="0.73" fill="#3346dc"/>
<circle cx="249.9" cy="124.4" r="0.89" fill="#3346dc"/>
<circle cx="261.7" cy="148.5" r="0.97" fill="#2a34a8"/>
<circle cx="240.5" cy="140.9" r="0.82" fill="#2a34a8"/>
<circle cx="246.7" cy="123.1" r="0.76" fill="#5468ff"/>
<circle cx="234.3" cy="150.0" r="0.67" fill="#3a4ed6"/>
<circle cx="293.9" cy="157.9" r="0.65" fill="#2a34a8"/>
<circle cx="221.4" cy="159.9" r="0.89" fill="#2a3cc4"/>
<circle cx="269.0" cy="135.7" r="0.68" fill="#2a3cc4"/>
<circle cx="278.0" cy="167.9" r="0.69" fill="#5468ff"/>
<circle cx="297.4" cy="182.0" r="0.85" fill="#4559f2"/>
<circle cx="304.4" cy="140.3" r="0.88" fill="#4559f2"/>
<circle cx="232.7" cy="120.9" r="0.70" fill="#2a3cc4"/>
<circle cx="304.7" cy="127.3" r="0.82" fill="#2a3cc4"/>
<circle cx="218.7" cy="177.2" r="0.96" fill="#2a34a8"/>
<circle cx="238.5" cy="168.1" r="0.66" fill="#4559f2"/>
<circle cx="283.0" cy="179.0" r="1.02" fill="#2a34a8"/>
<circle cx="219.6" cy="133.2" r="0.94" fill="#3a4ed6"/>
<circle cx="243.8" cy="146.8" r="0.97" fill="#2a34a8"/>
<circle cx="301.5" cy="172.0" r="1.00" fill="#3a4ed6"/>
<circle cx="283.6" cy="152.2" r="0.73" fill="#3a4ed6"/>
<circle cx="227.6" cy="133.4" r="1.04" fill="#4559f2"/>
<circle cx="229.4" cy="169.8" r="1.00" fill="#5468ff"/>
<circle cx="301.6" cy="148.8" r="0.60" fill="#4559f2"/>
<circle cx="247.4" cy="189.7" r="0.74" fill="#2a34a8"/>
<circle cx="261.3" cy="140.7" r="0.88" fill="#3a4ed6"/>
<circle cx="304.8" cy="146.9" r="0.90" fill="#3a4ed6"/>
<circle cx="268.2" cy="132.4" r="0.68" fill="#2a34a8"/>
<circle cx="259.4" cy="149.6" r="0.80" fill="#3a4ed6"/>
<circle cx="213.7" cy="164.6" r="0.97" fill="#5468ff"/>
<circle cx="207.2" cy="180.4" r="0.71" fill="#3346dc"/>
<circle cx="203.9" cy="171.3" r="0.61" fill="#4559f2"/>
<circle cx="208.9" cy="172.7" r="0.84" fill="#2a3cc4"/>
<circle cx="301.8" cy="170.6" r="0.88" fill="#2a34a8"/>
<circle cx="242.4" cy="142.4" r="0.58" fill="#5468ff"/>
<circle cx="260.7" cy="154.1" r="0.96" fill="#4559f2"/>
<circle cx="274.1" cy="149.3" r="0.68" fill="#3a4ed6"/>
<circle cx="285.4" cy="119.9" r="0.69" fill="#3a4ed6"/>
<circle cx="209.1" cy="130.5" r="0.64" fill="#2a34a8"/>
<circle cx="228.0" cy="132.3" r="0.76" fill="#3a4ed6"/>
<circle cx="258.5" cy="132.5" r="0.78" fill="#2a3cc4"/>
<circle cx="279.6" cy="124.2" r="0.69" fill="#4559f2"/>
<circle cx="303.3" cy="183.2" r="0.69" fill="#3346dc"/>
<circle cx="218.2" cy="126.4" r="0.85" fill="#5468ff"/>
<circle cx="223.2" cy="136.6" r="0.95" fill="#4559f2"/>
<circle cx="278.9" cy="132.9" r="0.87" fill="#4559f2"/>
<circle cx="289.4" cy="185.7" r="0.75" fill="#4559f2"/>
<circle cx="224.0" cy="166.7" r="0.61" fill="#2a34a8"/>
<circle cx="227.1" cy="125.5" r="0.90" fill="#2a3cc4"/>
<circle cx="287.4" cy="171.9" r="0.99" fill="#3346dc"/>
<circle cx="240.8" cy="133.3" r="1.04" fill="#5468ff"/>
<circle cx="205.8" cy="117.2" r="0.74" fill="#4559f2"/>
<circle cx="207.6" cy="133.1" r="0.60" fill="#3346dc"/>
<circle cx="205.6" cy="127.2" r="0.88" fill="#3346dc"/>
<circle cx="238.6" cy="185.0" r="0.57" fill="#3a4ed6"/>
<circle cx="302.3" cy="119.0" r="0.65" fill="#2a34a8"/>
<circle cx="210.9" cy="167.4" r="0.60" fill="#5468ff"/>
<circle cx="250.7" cy="146.7" r="1.00" fill="#2a3cc4"/>
<circle cx="302.0" cy="172.0" r="0.66" fill="#2a3cc4"/>
<circle cx="219.5" cy="123.9" r="0.75" fill="#2a3cc4"/>
<circle cx="305.2" cy="137.3" r="0.80" fill="#3a4ed6"/>
<circle cx="221.0" cy="169.4" r="0.83" fill="#2a34a8"/>
<circle cx="220.1" cy="164.2" r="0.74" fill="#2a3cc4"/>
<circle cx="227.8" cy="189.5" r="0.63" fill="#3a4ed6"/>
<circle cx="283.6" cy="126.0" r="0.58" fill="#2a3cc4"/>
<circle cx="220.0" cy="128.4" r="0.98" fill="#3346dc"/>
<circle cx="303.6" cy="142.9" r="0.93" fill="#3a4ed6"/>
<circle cx="202.0" cy="175.3" r="0.82" fill="#3a4ed6"/>
<circle cx="226.7" cy="183.0" r="0.69" fill="#5468ff"/>
<circle cx="202.9" cy="173.9" r="1.01" fill="#2a34a8"/>
<circle cx="212.9" cy="155.2" r="0.68" fill="#3a4ed6"/>
<circle cx="304.3" cy="129.8" r="0.60" fill="#2a3cc4"/>
<circle cx="273.6" cy="152.9" r="0.64" fill="#2a34a8"/>
<circle cx="283.6" cy="157.3" r="0.87" fill="#2a34a8"/>
<circle cx="236.4" cy="123.3" r="0.75" fill="#3346dc"/>
<circle cx="244.2" cy="170.4" r="0.73" fill="#4559f2"/>
<circle cx="221.0" cy="151.4" r="0.94" fill="#5468ff"/>
<circle cx="202.3" cy="136.6" r="0.83" fill="#5468ff"/>
<circle cx="248.9" cy="155.7" r="0.97" fill="#2a3cc4"/>
<circle cx="281.4" cy="160.5" r="0.94" fill="#3346dc"/>
<circle cx="213.6" cy="184.7" r="0.59" fill="#2a3cc4"/>
<circle cx="262.2" cy="157.9" r="0.56" fill="#3346dc"/>
<circle cx="230.6" cy="147.8" r="0.65" fill="#3a4ed6"/>
<circle cx="295.6" cy="120.3" r="0.98" fill="#2a34a8"/>
<circle cx="278.1" cy="154.7" r="0.74" fill="#5468ff"/>
<circle cx="288.6" cy="134.7" r="0.69" fill="#2a3cc4"/>
<circle cx="267.1" cy="130.2" r="0.86" fill="#3346dc"/>
<circle cx="295.3" cy="119.5" r="0.76" fill="#2a3cc4"/>
<circle cx="213.8" cy="162.4" r="1.03" fill="#2a34a8"/>
<circle cx="246.0" cy="119.9" r="0.95" fill="#2a34a8"/>
<circle cx="303.8" cy="118.0" r="1.01" fill="#4559f2"/>
<circle cx="281.7" cy="177.1" r="0.69" fill="#4559f2"/>
<circle cx="213.8" cy="147.1" r="0.78" fill="#4559f2"/>
<circle cx="216.3" cy="142.4" r="0.63" fill="#2a34a8"/>
<circle cx="285.2" cy="159.5" r="0.90" fill="#3a4ed6"/>
<circle cx="232.9" cy="173.1" r="0.86" fill="#3a4ed6"/>
<circle cx="203.6" cy="127.8" r="0.61" fill="#3a4ed6"/>
<circle cx="243.6" cy="149.6" r="0.73" fill="#3346dc"/>
<circle cx="296.0" cy="176.2" r="1.02" fill="#4559f2"/>
<circle cx="245.9" cy="182.3" r="0.76" fill="#4559f2"/>
<circle cx="258.4" cy="165.5" r="0.72" fill="#3346dc"/>
<circle cx="211.2" cy="168.1" r="0.79" fill="#4559f2"/>
<circle cx="207.8" cy="118.1" r="0.85" fill="#3346dc"/>
<circle cx="202.4" cy="162.4" r="0.96" fill="#5468ff"/>
<circle cx="213.5" cy="167.0" r="0.88" fill="#2a34a8"/>
<circle cx="254.0" cy="144.8" r="0.89" fill="#4559f2"/>
<circle cx="274.1" cy="181.8" r="0.87" fill="#5468ff"/>
<circle cx="239.7" cy="175.5" r="0.96" fill="#3a4ed6"/>
<circle cx="201.4" cy="124.3" r="0.92" fill="#4559f2"/>
<circle cx="250.0" cy="123.7" r="0.81" fill="#3a4ed6"/>
<circle cx="304.9" cy="117.6" r="0.59" fill="#4559f2"/>
<circle cx="281.4" cy="168.0" r="0.57" fill="#2a34a8"/>
<circle cx="283.5" cy="157.5" r="0.72" fill="#4559f2"/>
<circle cx="282.3" cy="172.6" r="0.71" fill="#2a3cc4"/>
<circle cx="269.8" cy="182.4" r="1.02" fill="#2a34a8"/>
<circle cx="308.6" cy="183.6" r="0.64" fill="#2a3cc4"/>
<circle cx="210.2" cy="162.2" r="0.59" fill="#4559f2"/>
<circle cx="209.3" cy="158.6" r="0.92" fill="#3a4ed6"/>
<circle cx="218.0" cy="183.8" r="0.92" fill="#2a34a8"/>
<circle cx="243.5" cy="162.8" r="0.65" fill="#5468ff"/>
<circle cx="254.5" cy="146.8" r="1.03" fill="#4559f2"/>
<circle cx="266.4" cy="188.9" r="0.63" fill="#3a4ed6"/>
<circle cx="201.2" cy="149.9" r="0.62" fill="#2a34a8"/>
<circle cx="290.8" cy="122.3" r="0.56" fill="#2a34a8"/>
<circle cx="274.6" cy="142.2" r="0.58" fill="#3346dc"/>
<circle cx="219.0" cy="121.5" r="0.82" fill="#2a34a8"/>
<circle cx="282.1" cy="180.4" r="0.79" fill="#3a4ed6"/>
<circle cx="219.1" cy="161.4" r="0.80" fill="#4559f2"/>
<circle cx="271.6" cy="162.3" r="0.65" fill="#2a3cc4"/>
<circle cx="262.8" cy="118.7" r="0.75" fill="#3a4ed6"/>
<circle cx="208.5" cy="126.0" r="0.81" fill="#5468ff"/>
<circle cx="213.9" cy="152.3" r="0.65" fill="#3346dc"/>
<circle cx="243.3" cy="151.7" r="0.89" fill="#2a34a8"/>
<circle cx="213.7" cy="121.7" r="0.67" fill="#3a4ed6"/>
<circle cx="273.5" cy="144.5" r="1.00" fill="#2a3cc4"/>
<circle cx="217.2" cy="154.6" r="1.00" fill="#2a34a8"/>
<circle cx="265.8" cy="179.6" r="0.59" fill="#3a4ed6"/>
<circle cx="292.1" cy="174.7" r="0.92" fill="#2a3cc4"/>
<circle cx="267.7" cy="148.1" r="0.86" fill="#2a3cc4"/>
<circle cx="214.2" cy="178.1" r="0.97" fill="#2a3cc4"/>
<circle cx="202.3" cy="125.8" r="0.99" fill="#2a3cc4"/>
<circle cx="285.2" cy="162.1" r="0.74" fill="#2a34a8"/>
<circle cx="216.9" cy="131.0" r="0.83" fill="#2a34a8"/>
<circle cx="261.7" cy="173.7" r="0.86" fill="#5468ff"/>
<circle cx="290.3" cy="180.5" r="0.91" fill="#4559f2"/>
<circle cx="297.6" cy="122.3" r="0.71" fill="#2a3cc4"/>
<circle cx="304.9" cy="174.3" r="0.72" fill="#2a3cc4"/>
<circle cx="265.3" cy="146.8" r="1.01" fill="#2a34a8"/>
<circle cx="297.6" cy="188.2" r="0.84" fill="#2a34a8"/>
<circle cx="229.6" cy="180.9" r="1.03" fill="#5468ff"/>
<circle cx="263.5" cy="150.0" r="0.81" fill="#2a3cc4"/>
<circle cx="232.4" cy="162.2" r="0.63" fill="#3346dc"/>
<circle cx="234.3" cy="158.9" r="0.95" fill="#4559f2"/>
<circle cx="211.9" cy="167.1" r="0.79" fill="#5468ff"/>
<circle cx="201.9" cy="132.1" r="0.75" fill="#3346dc"/>
<circle cx="232.1" cy="136.5" r="0.70" fill="#5468ff"/>
<circle cx="283.9" cy="123.9" r="0.61" fill="#4559f2"/>
<circle cx="251.3" cy="172.2" r="0.90" fill="#3a4ed6"/>
<circle cx="241.3" cy="172.9" r="0.63" fill="#2a34a8"/>
<circle cx="269.3" cy="141.7" r="0.58" fill="#2a3cc4"/>
<circle cx="299.8" cy="149.1" r="0.94" fill="#2a34a8"/>
<circle cx="296.2" cy="122.4" r="0.85" fill="#2a34a8"/>
<circle cx="277.5" cy="188.3" r="1.00" fill="#3346dc"/>
<circle cx="230.6" cy="141.1" r="0.97" fill="#3a4ed6"/>
<circle cx="292.3" cy="184.2" r="1.03" fill="#3346dc"/>
<circle cx="218.0" cy="135.3" r="0.86" fill="#5468ff"/>
<circle cx="265.4" cy="156.4" r="0.72" fill="#2a3cc4"/>
<circle cx="220.9" cy="121.0" r="1.02" fill="#3346dc"/>
<circle cx="288.9" cy="151.7" r="0.57" fill="#3346dc"/>
<circle cx="205.3" cy="151.0" r="0.59" fill="#5468ff"/>
<circle cx="273.5" cy="161.4" r="0.89" fill="#5468ff"/>
<circle cx="294.1" cy="172.7" r="1.00" fill="#4559f2"/>
<circle cx="254.1" cy="118.8" r="0.97" fill="#4559f2"/>
<circle cx="239.3" cy="124.9" r="0.75" fill="#3a4ed6"/>
<circle cx="278.4" cy="155.7" r="0.79" fill="#3346dc"/>
<circle cx="248.0" cy="179.1" r="0.83" fill="#5468ff"/>
<circle cx="217.6" cy="121.4" r="0.89" fill="#2a34a8"/>
<circle cx="204.0" cy="189.2" r="0.77" fill="#3346dc"/>
<circle cx="236.4" cy="147.2" r="0.89" fill="#3346dc"/>
<circle cx="207.3" cy="135.8" r="0.83" fill="#2a34a8"/>
<circle cx="274.6" cy="183.7" r="0.96" fill="#5468ff"/>
<circle cx="296.9" cy="178.6" r="0.91" fill="#2a34a8"/>
<circle cx="210.5" cy="124.4" r="0.78" fill="#2a34a8"/>
<circle cx="212.4" cy="153.5" r="0.99" fill="#2a34a8"/>
<circle cx="308.3" cy="175.9" r="0.59" fill="#2a3cc4"/>
<circle cx="253.8" cy="122.2" r="0.76" fill="#2a34a8"/>
<circle cx="309.5" cy="118.6" r="0.90" fill="#2a34a8"/>
<circle cx="234.0" cy="148.3" r="1.03" fill="#5468ff"/>
<circle cx="300.6" cy="161.5" r="0.84" fill="#4559f2"/>
<circle cx="228.5" cy="157.6" r="0.69" fill="#5468ff"/>
<circle cx="274.2" cy="141.5" r="0.66" fill="#2a34a8"/>
<circle cx="225.5" cy="116.7" r="0.56" fill="#4559f2"/>
<circle cx="256.7" cy="170.9" r="0.71" fill="#3a4ed6"/>
<circle cx="302.0" cy="182.5" r="0.90" fill="#3346dc"/>
<circle cx="268.5" cy="125.1" r="0.77" fill="#5468ff"/>
<circle cx="307.6" cy="124.3" r="0.57" fill="#2a3cc4"/>
<circle cx="249.9" cy="141.9" r="0.80" fill="#5468ff"/>
<circle cx="220.1" cy="179.7" r="0.95" fill="#2a3cc4"/>
<circle cx="204.3" cy="152.3" r="0.77" fill="#2a3cc4"/>
<circle cx="271.6" cy="128.2" r="1.01" fill="#4559f2"/>
<circle cx="219.3" cy="139.6" r="1.00" fill="#2a34a8"/>
<circle cx="256.1" cy="127.4" r="1.03" fill="#2a3cc4"/>
<circle cx="227.6" cy="179.9" r="0.60" fill="#3346dc"/>
<circle cx="250.6" cy="151.0" r="0.72" fill="#4559f2"/>
<circle cx="259.2" cy="141.1" r="0.92" fill="#4559f2"/>
<circle cx="271.9" cy="182.1" r="1.04" fill="#4559f2"/>
<circle cx="208.4" cy="150.6" r="0.62" fill="#2a34a8"/>
<circle cx="290.0" cy="120.7" r="0.69" fill="#3a4ed6"/>
<circle cx="275.5" cy="130.9" r="0.81" fill="#2a34a8"/>
<circle cx="257.0" cy="172.9" r="0.93" fill="#5468ff"/>
<circle cx="223.9" cy="160.1" r="0.84" fill="#2a3cc4"/>
<circle cx="216.0" cy="117.7" r="0.79" fill="#2a34a8"/>
<circle cx="218.3" cy="180.7" r="0.76" fill="#3a4ed6"/>
<circle cx="288.2" cy="173.4" r="0.60" fill="#3346dc"/>
<circle cx="252.4" cy="157.6" r="0.60" fill="#2a34a8"/>
<circle cx="280.2" cy="146.0" r="0.88" fill="#3346dc"/>
<circle cx="292.3" cy="123.7" r="0.58" fill="#2a3cc4"/>
<circle cx="242.3" cy="126.6" r="0.86" fill="#3346dc"/>
<circle cx="236.1" cy="186.9" r="0.99" fill="#2a34a8"/>
<circle cx="282.8" cy="141.2" r="0.66" fill="#2a3cc4"/>
<circle cx="271.9" cy="139.9" r="0.79" fill="#2a34a8"/>
<circle cx="214.9" cy="179.1" r="0.82" fill="#3a4ed6"/>
<circle cx="229.9" cy="131.5" r="0.65" fill="#3346dc"/>
<circle cx="297.0" cy="122.1" r="1.03" fill="#3a4ed6"/>
<circle cx="240.8" cy="148.5" r="0.68" fill="#2a34a8"/>
<circle cx="284.8" cy="166.3" r="0.58" fill="#5468ff"/>
<circle cx="240.4" cy="135.3" r="0.73" fill="#2a3cc4"/>
<circle cx="262.8" cy="154.4" r="0.93" fill="#2a34a8"/>
<circle cx="279.3" cy="164.2" r="0.85" fill="#2a34a8"/>
<circle cx="272.4" cy="126.4" r="0.63" fill="#2a3cc4"/>
<circle cx="224.4" cy="172.4" r="0.74" fill="#2a34a8"/>
<circle cx="283.4" cy="137.1" r="0.67" fill="#3346dc"/>
<circle cx="216.0" cy="117.8" r="0.91" fill="#2a3cc4"/>
<circle cx="306.6" cy="147.1" r="0.67" fill="#2a3cc4"/>
<circle cx="254.3" cy="179.4" r="0.98" fill="#2a3cc4"/>
<circle cx="225.5" cy="170.7" r="0.96" fill="#4559f2"/>
<circle cx="301.3" cy="156.7" r="0.85" fill="#2a3cc4"/>
<circle cx="225.4" cy="130.6" r="0.99" fill="#3346dc"/>
<circle cx="305.9" cy="143.8" r="0.85" fill="#4559f2"/>
<circle cx="243.4" cy="120.3" r="1.03" fill="#2a3cc4"/>
<circle cx="225.1" cy="141.5" r="0.77" fill="#2a34a8"/>
<circle cx="228.5" cy="185.3" r="0.69" fill="#3346dc"/>
<circle cx="245.5" cy="131.3" r="0.87" fill="#3346dc"/>
<circle cx="261.2" cy="116.8" r="0.93" fill="#3346dc"/>
<circle cx="249.1" cy="137.9" r="0.65" fill="#5468ff"/>
<circle cx="228.5" cy="159.4" r="0.78" fill="#3a4ed6"/>
<circle cx="272.2" cy="168.0" r="0.84" fill="#3a4ed6"/>
<circle cx="228.4" cy="183.6" r="0.62" fill="#4559f2"/>
<circle cx="261.1" cy="139.3" r="0.62" fill="#5468ff"/>
<circle cx="305.2" cy="138.6" r="1.02" fill="#3346dc"/>
<circle cx="265.2" cy="128.2" r="0.72" fill="#4559f2"/>
<circle cx="206.6" cy="181.2" r="1.00" fill="#4559f2"/>
<circle cx="248.5" cy="144.9" r="0.79" fill="#5468ff"/>
<circle cx="276.0" cy="144.7" r="0.72" fill="#2a3cc4"/>
<circle cx="291.5" cy="121.5" r="0.88" fill="#3a4ed6"/>
<circle cx="221.7" cy="157.0" r="0.84" fill="#5468ff"/>
<circle cx="244.2" cy="119.9" r="0.69" fill="#4559f2"/>
<circle cx="233.3" cy="136.7" r="0.80" fill="#2a3cc4"/>
<circle cx="241.8" cy="126.8" r="0.69" fill="#2a3cc4"/>
<circle cx="241.5" cy="160.0" r="0.93" fill="#2a3cc4"/>
<circle cx="262.3" cy="128.9" r="0.94" fill="#2a34a8"/>
<circle cx="242.1" cy="189.4" r="0.55" fill="#5468ff"/>
<circle cx="220.9" cy="126.8" r="0.99" fill="#3346dc"/>
<circle cx="279.9" cy="143.8" r="0.88" fill="#2a34a8"/>
<circle cx="220.8" cy="175.9" r="0.80" fill="#3346dc"/>
<circle cx="299.8" cy="183.6" r="0.73" fill="#4559f2"/>
<circle cx="242.2" cy="140.7" r="0.97" fill="#5468ff"/>
<circle cx="278.0" cy="177.3" r="0.80" fill="#2a3cc4"/>
<circle cx="260.9" cy="143.9" r="0.70" fill="#2a3cc4"/>
<circle cx="231.5" cy="134.2" r="0.74" fill="#4559f2"/>
<circle cx="290.8" cy="119.0" r="0.65" fill="#3a4ed6"/>
<circle cx="204.2" cy="141.6" r="1.01" fill="#2a3cc4"/>
<circle cx="246.4" cy="176.5" r="1.00" fill="#2a34a8"/>
<circle cx="224.4" cy="177.9" r="1.00" fill="#2a3cc4"/>
<circle cx="297.6" cy="118.8" r="0.87" fill="#3a4ed6"/>
<circle cx="251.5" cy="123.0" r="0.61" fill="#3346dc"/>
<circle cx="236.9" cy="162.2" r="0.84" fill="#4559f2"/>
<circle cx="303.5" cy="153.7" r="0.76" fill="#3346dc"/>
<circle cx="294.6" cy="175.6" r="0.82" fill="#2a34a8"/>
<circle cx="266.0" cy="122.7" r="0.72" fill="#4559f2"/>
<circle cx="295.4" cy="175.7" r="0.94" fill="#3346dc"/>
<circle cx="258.0" cy="148.9" r="0.77" fill="#3a4ed6"/>
<circle cx="292.5" cy="175.5" r="0.75" fill="#4559f2"/>
<circle cx="301.3" cy="119.9" r="0.77" fill="#3a4ed6"/>
<circle cx="236.7" cy="179.6" r="0.56" fill="#4559f2"/>
<circle cx="243.6" cy="122.9" r="0.79" fill="#5468ff"/>
<circle cx="252.1" cy="167.6" r="0.66" fill="#3346dc"/>
<circle cx="232.3" cy="144.8" r="0.69" fill="#4559f2"/>
<circle cx="291.7" cy="121.4" r="1.03" fill="#3a4ed6"/>
<circle cx="291.2" cy="167.5" r="0.88" fill="#2a34a8"/>
<circle cx="296.6" cy="158.3" r="0.63" fill="#4559f2"/>
<circle cx="217.0" cy="162.5" r="1.03" fill="#4559f2"/>
<circle cx="212.8" cy="181.9" r="0.67" fill="#3a4ed6"/>
<circle cx="301.3" cy="166.2" r="0.76" fill="#2a34a8"/>
<circle cx="304.3" cy="147.6" r="0.57" fill="#5468ff"/>
<circle cx="252.5" cy="153.3" r="0.76" fill="#5468ff"/>
<circle cx="209.9" cy="169.6" r="0.71" fill="#3a4ed6"/>
<circle cx="217.6" cy="154.7" r="0.81" fill="#4559f2"/>
<circle cx="238.9" cy="127.1" r="0.76" fill="#2a34a8"/>
<circle cx="202.3" cy="123.1" r="0.61" fill="#4559f2"/>
<circle cx="245.2" cy="136.2" r="0.80" fill="#3a4ed6"/>
<circle cx="244.1" cy="188.9" r="0.71" fill="#4559f2"/>
<circle cx="252.8" cy="143.9" r="0.63" fill="#4559f2"/>
<circle cx="298.7" cy="128.9" r="0.93" fill="#2a3cc4"/>
<circle cx="274.4" cy="150.0" r="1.02" fill="#4559f2"/>
<circle cx="291.9" cy="166.4" r="0.64" fill="#4559f2"/>
<circle cx="235.2" cy="123.4" r="0.89" fill="#2a34a8"/>
<circle cx="225.5" cy="159.6" r="1.02" fill="#2a34a8"/>
<circle cx="297.5" cy="134.4" r="0.68" fill="#2a34a8"/>
<circle cx="260.5" cy="120.4" r="0.93" fill="#4559f2"/>
<circle cx="233.3" cy="163.7" r="0.81" fill="#4559f2"/>
<circle cx="215.3" cy="133.6" r="0.66" fill="#3346dc"/>
<circle cx="214.7" cy="165.4" r="0.60" fill="#5468ff"/>
<circle cx="303.4" cy="122.3" r="0.80" fill="#3a4ed6"/>
<circle cx="297.0" cy="169.7" r="0.63" fill="#2a34a8"/>
<circle cx="294.8" cy="176.3" r="1.01" fill="#5468ff"/>
<circle cx="257.0" cy="177.7" r="0.91" fill="#4559f2"/>
<circle cx="289.8" cy="133.4" r="0.70" fill="#2a34a8"/>
<circle cx="291.7" cy="159.2" r="0.83" fill="#2a3cc4"/>
<circle cx="275.2" cy="154.6" r="0.76" fill="#3a4ed6"/>
<circle cx="207.4" cy="168.1" r="0.71" fill="#3a4ed6"/>
<circle cx="232.0" cy="141.8" r="0.59" fill="#3346dc"/>
<circle cx="229.8" cy="155.1" r="0.73" fill="#3a4ed6"/>
<circle cx="272.2" cy="176.8" r="0.66" fill="#3346dc"/>
<circle cx="294.5" cy="128.4" r="0.79" fill="#2a3cc4"/>
<circle cx="273.5" cy="132.4" r="0.56" fill="#2a34a8"/>
<circle cx="232.6" cy="132.0" r="0.90" fill="#5468ff"/>
<circle cx="228.3" cy="129.0" r="0.87" fill="#2a3cc4"/>
<circle cx="270.2" cy="142.7" r="0.98" fill="#3a4ed6"/>
<circle cx="251.7" cy="123.1" r="0.63" fill="#3a4ed6"/>
<circle cx="209.1" cy="140.2" r="0.83" fill="#3346dc"/>
<circle cx="256.3" cy="119.0" r="0.83" fill="#4559f2"/>
<circle cx="242.7" cy="169.2" r="1.01" fill="#2a3cc4"/>
<circle cx="201.0" cy="183.0" r="0.82" fill="#5468ff"/>
<circle cx="253.6" cy="145.3" r="0.74" fill="#2a34a8"/>
<circle cx="225.0" cy="147.1" r="1.03" fill="#4559f2"/>
<circle cx="210.6" cy="163.1" r="0.99" fill="#4559f2"/>
<circle cx="212.0" cy="159.7" r="0.99" fill="#3346dc"/>
<circle cx="204.8" cy="157.8" r="0.77" fill="#2a34a8"/>
<circle cx="293.7" cy="144.0" r="1.01" fill="#2a34a8"/>
<circle cx="223.7" cy="171.1" r="0.75" fill="#4559f2"/>
<circle cx="206.5" cy="161.8" r="0.88" fill="#5468ff"/>
<circle cx="271.5" cy="145.5" r="0.62" fill="#3346dc"/>
<circle cx="239.7" cy="164.6" r="0.64" fill="#5468ff"/>
<circle cx="259.1" cy="168.8" r="0.60" fill="#2a3cc4"/>
<circle cx="226.1" cy="162.7" r="0.75" fill="#3a4ed6"/>
<circle cx="283.0" cy="123.1" r="0.60" fill="#2a3cc4"/>
<circle cx="244.7" cy="151.1" r="0.62" fill="#5468ff"/>
<circle cx="278.6" cy="131.2" r="1.02" fill="#4559f2"/>
<circle cx="296.0" cy="174.1" r="0.66" fill="#4559f2"/>
<circle cx="258.5" cy="143.6" r="0.73" fill="#2a3cc4"/>
<circle cx="279.0" cy="143.4" r="0.92" fill="#2a34a8"/>
<circle cx="275.7" cy="165.6" r="0.70" fill="#2a3cc4"/>
<circle cx="291.8" cy="159.1" r="0.93" fill="#4559f2"/>
<circle cx="306.9" cy="138.1" r="0.82" fill="#2a3cc4"/>
<circle cx="240.9" cy="161.8" r="0.61" fill="#5468ff"/>
<circle cx="247.4" cy="142.7" r="0.98" fill="#2a34a8"/>
<circle cx="295.6" cy="166.2" r="0.62" fill="#3346dc"/>
<circle cx="220.5" cy="170.9" r="0.89" fill="#3a4ed6"/>
<circle cx="201.1" cy="165.9" r="0.71" fill="#3a4ed6"/>
<circle cx="216.7" cy="160.9" r="0.6" fill="#c0205a" opacity="0.85"/>
<circle cx="270.5" cy="179.9" r="0.6" fill="#c0205a" opacity="0.85"/>
<circle cx="228.1" cy="143.0" r="0.6" fill="#d03070" opacity="0.85"/>
<circle cx="230.3" cy="140.2" r="0.6" fill="#d03070" opacity="0.85"/>
<circle cx="240.1" cy="121.1" r="0.6" fill="#c0205a" opacity="0.85"/>
<circle cx="305.1" cy="162.6" r="0.6" fill="#d03070" opacity="0.85"/>
<circle cx="238.6" cy="125.7" r="0.6" fill="#c0205a" opacity="0.85"/>
<circle cx="304.3" cy="166.9" r="0.6" fill="#d03070" opacity="0.85"/>
<circle cx="274.2" cy="150.2" r="0.6" fill="#a01848" opacity="0.85"/>
<circle cx="221.3" cy="122.8" r="0.6" fill="#d03070" opacity="0.85"/>
<circle cx="209.2" cy="162.1" r="0.6" fill="#a01848" opacity="0.85"/>
<circle cx="247.4" cy="145.8" r="0.6" fill="#c0205a" opacity="0.85"/>
<circle cx="309.9" cy="186.9" r="0.6" fill="#c0205a" opacity="0.85"/>
<circle cx="231.4" cy="135.8" r="0.6" fill="#d03070" opacity="0.85"/>
<circle cx="297.1" cy="155.0" r="0.6" fill="#d03070" opacity="0.85"/>
<circle cx="221.7" cy="137.3" r="0.6" fill="#a01848" opacity="0.85"/>
<circle cx="278.5" cy="175.9" r="0.6" fill="#d03070" opacity="0.85"/>
<circle cx="304.5" cy="164.8" r="0.6" fill="#a01848" opacity="0.85"/>
<circle cx="302.7" cy="181.2" r="0.6" fill="#d03070" opacity="0.85"/>
<circle cx="244.8" cy="169.6" r="0.6" fill="#c0205a" opacity="0.85"/>
<circle cx="215.8" cy="149.5" r="0.6" fill="#c0205a" opacity="0.85"/>
<circle cx="251.9" cy="133.5" r="0.6" fill="#a01848" opacity="0.85"/>
<circle cx="293.7" cy="158.2" r="0.6" fill="#a01848" opacity="0.85"/>
<circle cx="218.6" cy="145.2" r="0.6" fill="#a01848" opacity="0.85"/>
<circle cx="234.5" cy="145.4" r="0.6" fill="#c0205a" opacity="0.85"/>
<circle cx="292.6" cy="166.3" r="0.6" fill="#a01848" opacity="0.85"/>
<circle cx="220.8" cy="163.2" r="0.6" fill="#d03070" opacity="0.85"/>
<circle cx="295.0" cy="120.6" r="0.6" fill="#d03070" opacity="0.85"/>
<circle cx="231.8" cy="153.2" r="0.6" fill="#c0205a" opacity="0.85"/>
<circle cx="306.2" cy="130.7" r="0.6" fill="#d03070" opacity="0.85"/>
<circle cx="204.9" cy="189.6" r="0.6" fill="#c0205a" opacity="0.85"/>
<circle cx="275.7" cy="132.3" r="0.6" fill="#a01848" opacity="0.85"/>
<circle cx="274.2" cy="147.0" r="0.6" fill="#a01848" opacity="0.85"/>
<circle cx="229.8" cy="162.1" r="0.6" fill="#a01848" opacity="0.85"/>
<circle cx="294.5" cy="162.4" r="0.6" fill="#a01848" opacity="0.85"/>
</g>
<path d="M239.3 190 C239 183 237.5 176 235.2 171.7 C230 166 220 161 212.7 157.4 C211.5 153 211.5 149 211.7 145.2 C213 139 216 134 220.9 130.9 C228 127.5 234 126.3 241.3 125.8 C256 125 272 125.5 286.3 126.8 C292 128 296 131 298.5 135 C301 140 303 146 303.6 151.3 C304.5 160 305.5 168 306.7 175.8 L309 190" fill="none" stroke="#fff" stroke-width="1.2" stroke-dasharray="3.2 2.2"/>
<path d="M0 0 L-10 -4.6 L-7.2 0 L-10 4.6 Z" fill="#fff" transform="translate(295.5 167.7) rotate(58)"/>
<path d="M0 0 L-10 -4.6 L-7.2 0 L-10 4.6 Z" fill="#fff" transform="translate(291.4 174.8) rotate(24)"/>
<line x1="296.7" y1="185.8" x2="306.2" y2="185.8" stroke="#fff" stroke-width="1.8"/>
</g>
<line x1="201" y1="116" x2="310.2" y2="116" stroke="#ccc" stroke-width="0.8"/>
<circle cx="344.1" cy="44.6" r="2.9" fill="#cfcfcf" stroke="#333" stroke-width="1"/>
<text x="353.2" y="50" font-size="13.9" text-anchor="start" fill="#000" font-weight="bold"><tspan>Control</tspan></text>
<rect x="341.4" y="58.1" width="5.4" height="5.4" fill="#f3e3c6" stroke="#c49a58" stroke-width="1.1" rx="0"/>
<text x="353.2" y="65.9" font-size="13.9" text-anchor="start" fill="#000" font-weight="bold"><tspan>Trhr</tspan><tspan dy="-4.73" font-size="7.37">Lbx1</tspan><tspan dy="4.73">-Abl</tspan></text>
<line x1="359.6" y1="92.3" x2="359.6" y2="189.0" stroke="#333" stroke-width="1.1"/>
<line x1="355.0" y1="92.8" x2="359.6" y2="92.8" stroke="#333" stroke-width="1.1"/>
<text x="352.348" y="97.6635" font-size="13.7" text-anchor="end" fill="#000" font-weight="bold"><tspan>80</tspan></text>
<line x1="355.0" y1="116.7" x2="359.6" y2="116.7" stroke="#333" stroke-width="1.1"/>
<text x="352.348" y="121.5635" font-size="13.7" text-anchor="end" fill="#000" font-weight="bold"><tspan>60</tspan></text>
<line x1="355.0" y1="140.6" x2="359.6" y2="140.6" stroke="#333" stroke-width="1.1"/>
<text x="352.348" y="145.46349999999998" font-size="13.7" text-anchor="end" fill="#000" font-weight="bold"><tspan>40</tspan></text>
<line x1="355.0" y1="164.6" x2="359.6" y2="164.6" stroke="#333" stroke-width="1.1"/>
<text x="352.348" y="169.46349999999998" font-size="13.7" text-anchor="end" fill="#000" font-weight="bold"><tspan>20</tspan></text>
<line x1="355.0" y1="188.5" x2="359.6" y2="188.5" stroke="#333" stroke-width="1.1"/>
<text x="352.348" y="193.3635" font-size="13.7" text-anchor="end" fill="#000" font-weight="bold"><tspan>0</tspan></text>
<line x1="359.6" y1="188.5" x2="418" y2="188.5" stroke="#333" stroke-width="1"/>
<text x="331.8" y="131.2" font-size="14.8" text-anchor="middle" fill="#000" font-weight="bold" transform="rotate(-90 331.8 131.2)"><tspan># of Trhr</tspan><tspan dy="-5.03" font-size="9.18">+</tspan><tspan dy="5.03"> neurons</tspan></text>
<path d="M377.2 114 V107.3 H405.1 V176.1" fill="none" stroke="#111" stroke-width="1.25"/>
<text x="391.7" y="108" font-size="18" text-anchor="middle" fill="#000" font-weight="bold"><tspan>****</tspan></text>
<line x1="368.3" y1="122.4" x2="387.4" y2="122.4" stroke="#111" stroke-width="1.1"/>
<line x1="373.5" y1="120.3" x2="383" y2="120.3" stroke="#111" stroke-width="1"/>
<line x1="373.5" y1="124.5" x2="383" y2="124.5" stroke="#111" stroke-width="1"/>
<line x1="378.2" y1="120.3" x2="378.2" y2="124.5" stroke="#111" stroke-width="1"/>
<circle cx="377.6" cy="118.2" r="1.6" fill="#fff" stroke="#111" stroke-width="1.1"/>
<circle cx="374.7" cy="125.5" r="1.6" fill="#fff" stroke="#111" stroke-width="1.1"/>
<circle cx="380.5" cy="123.1" r="1.6" fill="#fff" stroke="#111" stroke-width="1.1"/>
<line x1="397" y1="182.6" x2="413.2" y2="182.6" stroke="#b08238" stroke-width="1.1"/>
<rect x="397.6" y="181.5" width="3.2" height="3.2" fill="#fff" stroke="#b08238" stroke-width="1.1" rx="0"/>
<rect x="403.4" y="180.0" width="3.2" height="3.2" fill="#fff" stroke="#b08238" stroke-width="1.1" rx="0"/>
<rect x="409.1" y="181.5" width="3.2" height="3.2" fill="#fff" stroke="#b08238" stroke-width="1.1" rx="0"/>
<text x="429" y="12.8" font-size="19" text-anchor="start" fill="#000" font-weight="bold"><tspan>c</tspan></text>
<text x="454" y="22.3" font-size="15.55" text-anchor="start" fill="#000" font-weight="bold"><tspan>TCWT (15°C)</tspan></text>
<g transform="translate(510 43) scale(1.0)"><path d="M-0.5 31.5 C10 30 25 32 38 33.5 C43 34.2 45 33 44.5 29 L43.5 26.5" fill="none" stroke="#b77f7c" stroke-width="1.6" stroke-linecap="round"/><path d="M0.6 11.5 C1.2 9 3.5 7.5 6 6.8 C9 3 15 0.6 24 0.8 C34 1.2 41.5 8 42.4 18 C42.9 23 42 26.5 39.5 28 L19 28.6 C14.5 28.6 11 27.6 9 26 C5 23 2.4 17.5 0.6 11.5 Z" fill="#4a4543"/><path d="M24 0.8 C34 1.2 41.5 8 42.4 18 C42.9 23 42 26.5 39.5 28 L28 28.6 C33 24 34 12 24 0.8 Z" fill="#3d3937"/><path d="M6 6.8 C9 3 15 0.6 24 0.8 C18 3 14 8 13 14 C11 18 9 20 7 20 C4 17 2 14 0.6 11.5 C1.2 9 3.5 7.5 6 6.8Z" fill="#55504d"/><ellipse cx="10.8" cy="4.8" rx="2.2" ry="3.2" fill="#c79a98" stroke="#4a4543" stroke-width="1" transform="rotate(15 10.8 4.8)"/><circle cx="8" cy="12" r="0.9" fill="#111"/><circle cx="0.8" cy="11.6" r="1.2" fill="#3a3533"/><path d="M11 26 C12 29.5 15 30 17 28.5 L16 26Z" fill="#d9a5a2"/></g>
<g transform="translate(526.6 76.4) scale(1.0)"><path d="M0 0 L0.5 2.5 H-0.5 Z" fill="#8ab"/><rect x="-2.7" y="2.5" width="5.4" height="17" fill="#bfe0f2" stroke="#8fb0c8" stroke-width="0.5"/><rect x="-2.7" y="19.2" width="5.4" height="1.6" fill="#333"/><rect x="-2" y="20.8" width="4" height="3.4" fill="#ececec" stroke="#aaa" stroke-width="0.4"/><rect x="-4.6" y="24" width="9.2" height="1.4" fill="#e8e8e8" stroke="#aaa" stroke-width="0.4" rx="0.6"/><rect x="-1.8" y="25.4" width="3.6" height="17.5" fill="#f2f2f2" stroke="#b0b0b0" stroke-width="0.4"/><rect x="-3.8" y="42.6" width="7.6" height="1.8" fill="#eee" stroke="#aaa" stroke-width="0.4" rx="0.8"/></g>
<text x="533.3" y="96.6" font-size="13.3" text-anchor="start" fill="#000" font-weight="bold"><tspan>Water</tspan></text>
<line x1="474" y1="93.8" x2="474" y2="189.0" stroke="#333" stroke-width="1.1"/>
<line x1="469.7" y1="94.3" x2="474" y2="94.3" stroke="#333" stroke-width="1.1"/>
<text x="466.076" y="99.41199999999999" font-size="14.4" text-anchor="end" fill="#000" font-weight="bold"><tspan>4</tspan></text>
<line x1="469.7" y1="117.85" x2="474" y2="117.85" stroke="#333" stroke-width="1.1"/>
<text x="466.076" y="122.96199999999999" font-size="14.4" text-anchor="end" fill="#000" font-weight="bold"><tspan>3</tspan></text>
<line x1="469.7" y1="141.4" x2="474" y2="141.4" stroke="#333" stroke-width="1.1"/>
<text x="466.076" y="146.512" font-size="14.4" text-anchor="end" fill="#000" font-weight="bold"><tspan>2</tspan></text>
<line x1="469.7" y1="164.95" x2="474" y2="164.95" stroke="#333" stroke-width="1.1"/>
<text x="466.076" y="170.06199999999998" font-size="14.4" text-anchor="end" fill="#000" font-weight="bold"><tspan>1</tspan></text>
<line x1="469.7" y1="188.5" x2="474" y2="188.5" stroke="#333" stroke-width="1.1"/>
<text x="466.076" y="193.612" font-size="14.4" text-anchor="end" fill="#000" font-weight="bold"><tspan>0</tspan></text>
<line x1="474" y1="188.5" x2="536.2" y2="188.5" stroke="#333" stroke-width="1"/>
<text x="448.8" y="137.3" font-size="14.6" text-anchor="middle" fill="#000" font-weight="bold" transform="rotate(-90 448.8 137.3)"><tspan>Average</tspan></text>
<path d="M491.7 158.6 V154 H518.9 V175.9" fill="none" stroke="#111" stroke-width="1.25"/>
<text x="505" y="155" font-size="18" text-anchor="middle" fill="#000" font-weight="bold"><tspan>****</tspan></text>
<circle cx="484.3" cy="165" r="1.6" fill="#fff" stroke="#111" stroke-width="1.05"/>
<circle cx="488.1" cy="165" r="1.6" fill="#fff" stroke="#111" stroke-width="1.05"/>
<circle cx="491.9" cy="165" r="1.6" fill="#fff" stroke="#111" stroke-width="1.05"/>
<circle cx="495.7" cy="165" r="1.6" fill="#fff" stroke="#111" stroke-width="1.05"/>
<circle cx="499.5" cy="165" r="1.6" fill="#fff" stroke="#111" stroke-width="1.05"/>
<circle cx="492" cy="172.3" r="1.6" fill="#fff" stroke="#111" stroke-width="1.05"/>
<line x1="483" y1="166.8" x2="501" y2="166.8" stroke="#111" stroke-width="1.1"/>
<rect x="508.65" y="186.35" width="3.3" height="3.3" fill="#fff" stroke="#b08238" stroke-width="1.1" rx="0"/>
<rect x="512.45" y="186.35" width="3.3" height="3.3" fill="#fff" stroke="#b08238" stroke-width="1.1" rx="0"/>
<rect x="516.25" y="186.35" width="3.3" height="3.3" fill="#fff" stroke="#b08238" stroke-width="1.1" rx="0"/>
<rect x="520.05" y="186.35" width="3.3" height="3.3" fill="#fff" stroke="#b08238" stroke-width="1.1" rx="0"/>
<rect x="523.85" y="186.35" width="3.3" height="3.3" fill="#fff" stroke="#b08238" stroke-width="1.1" rx="0"/>
<rect x="514.35" y="178.95" width="3.3" height="3.3" fill="#fff" stroke="#b08238" stroke-width="1.1" rx="0"/>
<rect x="518.15" y="178.95" width="3.3" height="3.3" fill="#fff" stroke="#b08238" stroke-width="1.1" rx="0"/>
<line x1="509" y1="186.3" x2="527.5" y2="186.3" stroke="#b08238" stroke-width="1.1"/>
<text x="568.5" y="13.4" font-size="19" text-anchor="start" fill="#000" font-weight="bold"><tspan>d</tspan></text>
<text x="591.5" y="22.3" font-size="15.5" text-anchor="start" fill="#000" font-weight="bold"><tspan>TCWT (0°C)</tspan></text>
<line x1="609" y1="93.7" x2="609" y2="188.8" stroke="#333" stroke-width="1.1"/>
<line x1="604.7" y1="94.2" x2="609" y2="94.2" stroke="#333" stroke-width="1.1"/>
<text x="601.076" y="99.312" font-size="14.4" text-anchor="end" fill="#000" font-weight="bold"><tspan>4</tspan></text>
<line x1="604.7" y1="117.7" x2="609" y2="117.7" stroke="#333" stroke-width="1.1"/>
<text x="601.076" y="122.812" font-size="14.4" text-anchor="end" fill="#000" font-weight="bold"><tspan>3</tspan></text>
<line x1="604.7" y1="141.3" x2="609" y2="141.3" stroke="#333" stroke-width="1.1"/>
<text x="601.076" y="146.412" font-size="14.4" text-anchor="end" fill="#000" font-weight="bold"><tspan>2</tspan></text>
<line x1="604.7" y1="164.8" x2="609" y2="164.8" stroke="#333" stroke-width="1.1"/>
<text x="601.076" y="169.912" font-size="14.4" text-anchor="end" fill="#000" font-weight="bold"><tspan>1</tspan></text>
<line x1="604.7" y1="188.3" x2="609" y2="188.3" stroke="#333" stroke-width="1.1"/>
<text x="601.076" y="193.412" font-size="14.4" text-anchor="end" fill="#000" font-weight="bold"><tspan>0</tspan></text>
<line x1="609" y1="188.3" x2="672.2" y2="188.3" stroke="#333" stroke-width="1"/>
<text x="584.6" y="137.3" font-size="14.6" text-anchor="middle" fill="#000" font-weight="bold" transform="rotate(-90 584.6 137.3)"><tspan>Average</tspan></text>
<path d="M626.2 104.5 V91.4 H653.8 V97.6" fill="none" stroke="#111" stroke-width="1.25"/>
<text x="640" y="86.2" font-size="14" text-anchor="middle" fill="#000" font-weight="bold"><tspan>ns</tspan></text>
<circle cx="626.4" cy="110.4" r="1.6" fill="#fff" stroke="#111" stroke-width="1.05"/>
<circle cx="623.9" cy="118.3" r="1.6" fill="#fff" stroke="#111" stroke-width="1.05"/>
<circle cx="629.5" cy="118.3" r="1.6" fill="#fff" stroke="#111" stroke-width="1.05"/>
<circle cx="620.8" cy="126" r="1.6" fill="#fff" stroke="#111" stroke-width="1.05"/>
<circle cx="626.4" cy="126" r="1.6" fill="#fff" stroke="#111" stroke-width="1.05"/>
<circle cx="632.1" cy="126" r="1.6" fill="#fff" stroke="#111" stroke-width="1.05"/>
<line x1="617" y1="120.9" x2="635.6" y2="120.9" stroke="#333" stroke-width="1.1"/>
<line x1="626.4" y1="118.3" x2="626.4" y2="123.5" stroke="#111" stroke-width="1.05"/>
<line x1="626.4" y1="118.3" x2="626.4" y2="118.3" stroke="#111" stroke-width="1.05"/>
<line x1="626.4" y1="123.5" x2="626.4" y2="123.5" stroke="#111" stroke-width="1.05"/>
<rect x="651.45" y="101.05" width="3.3" height="3.3" fill="#fff" stroke="#b08238" stroke-width="1.1" rx="0"/>
<rect x="651.45" y="116.35" width="3.3" height="3.3" fill="#fff" stroke="#b08238" stroke-width="1.1" rx="0"/>
<rect x="644.25" y="124.15" width="3.3" height="3.3" fill="#fff" stroke="#b08238" stroke-width="1.1" rx="0"/>
<rect x="649.25" y="124.15" width="3.3" height="3.3" fill="#fff" stroke="#b08238" stroke-width="1.1" rx="0"/>
<rect x="654.35" y="124.15" width="3.3" height="3.3" fill="#fff" stroke="#b08238" stroke-width="1.1" rx="0"/>
<rect x="659.35" y="124.15" width="3.3" height="3.3" fill="#fff" stroke="#b08238" stroke-width="1.1" rx="0"/>
<rect x="647.95" y="131.95" width="3.3" height="3.3" fill="#fff" stroke="#b08238" stroke-width="1.1" rx="0"/>
<rect x="654.35" y="131.95" width="3.3" height="3.3" fill="#fff" stroke="#b08238" stroke-width="1.1" rx="0"/>
<line x1="648.4" y1="120.3" x2="658.1" y2="120.3" stroke="#b08238" stroke-width="1.1"/>
<line x1="653.4" y1="118" x2="653.4" y2="126" stroke="#b08238" stroke-width="1.05"/>
<line x1="653.4" y1="118" x2="653.4" y2="118" stroke="#b08238" stroke-width="1.05"/>
<line x1="653.4" y1="126" x2="653.4" y2="126" stroke="#b08238" stroke-width="1.05"/>
<text x="0" y="217.4" font-size="19" text-anchor="start" fill="#000" font-weight="bold"><tspan>e</tspan></text>
<text x="72.2" y="229.4" font-size="15.6" text-anchor="start" fill="#000" font-weight="bold"><tspan>Two-temperature choice</tspan></text>
<text x="15.4" y="254.2" font-size="13.8" text-anchor="start" fill="#000" font-weight="bold"><tspan>30˚C</tspan></text>
<text x="300.8" y="254.2" font-size="13.8" text-anchor="start" fill="#000" font-weight="bold"><tspan>20˚C</tspan></text>
<line x1="57" y1="276.39000000000004" x2="57" y2="424.81" stroke="#333" stroke-width="1.1"/>
<line x1="54" y1="276.89000000000004" x2="57" y2="276.89000000000004" stroke="#333" stroke-width="1.1"/>
<text x="51.152" y="281.78900000000004" font-size="13.8" text-anchor="end" fill="#000" font-weight="bold"><tspan>300</tspan></text>
<line x1="54" y1="301.46000000000004" x2="57" y2="301.46000000000004" stroke="#333" stroke-width="1.1"/>
<text x="51.152" y="306.35900000000004" font-size="13.8" text-anchor="end" fill="#000" font-weight="bold"><tspan>200</tspan></text>
<line x1="54" y1="326.03000000000003" x2="57" y2="326.03000000000003" stroke="#333" stroke-width="1.1"/>
<text x="51.152" y="330.92900000000003" font-size="13.8" text-anchor="end" fill="#000" font-weight="bold"><tspan>100</tspan></text>
<line x1="54" y1="350.6" x2="57" y2="350.6" stroke="#333" stroke-width="1.1"/>
<text x="51.152" y="355.499" font-size="13.8" text-anchor="end" fill="#000" font-weight="bold"><tspan>0</tspan></text>
<line x1="54" y1="375.17" x2="57" y2="375.17" stroke="#333" stroke-width="1.1"/>
<text x="51.152" y="380.069" font-size="13.8" text-anchor="end" fill="#000" font-weight="bold"><tspan>-100</tspan></text>
<line x1="54" y1="399.74" x2="57" y2="399.74" stroke="#333" stroke-width="1.1"/>
<text x="51.152" y="404.639" font-size="13.8" text-anchor="end" fill="#000" font-weight="bold"><tspan>-200</tspan></text>
<line x1="54" y1="424.31" x2="57" y2="424.31" stroke="#333" stroke-width="1.1"/>
<text x="51.152" y="429.209" font-size="13.8" text-anchor="end" fill="#000" font-weight="bold"><tspan>-300</tspan></text>
<line x1="284.2" y1="276.39000000000004" x2="284.2" y2="424.81" stroke="#333" stroke-width="1.1"/>
<line x1="284.2" y1="276.89000000000004" x2="287.2" y2="276.89000000000004" stroke="#333" stroke-width="1.1"/>
<text x="293.4" y="281.78900000000004" font-size="13.8" text-anchor="start" fill="#000" font-weight="bold"><tspan>300</tspan></text>
<line x1="284.2" y1="301.46000000000004" x2="287.2" y2="301.46000000000004" stroke="#333" stroke-width="1.1"/>
<text x="293.4" y="306.35900000000004" font-size="13.8" text-anchor="start" fill="#000" font-weight="bold"><tspan>200</tspan></text>
<line x1="284.2" y1="326.03000000000003" x2="287.2" y2="326.03000000000003" stroke="#333" stroke-width="1.1"/>
<text x="293.4" y="330.92900000000003" font-size="13.8" text-anchor="start" fill="#000" font-weight="bold"><tspan>100</tspan></text>
<line x1="284.2" y1="350.6" x2="287.2" y2="350.6" stroke="#333" stroke-width="1.1"/>
<text x="293.4" y="355.499" font-size="13.8" text-anchor="start" fill="#000" font-weight="bold"><tspan>0</tspan></text>
<line x1="284.2" y1="375.17" x2="287.2" y2="375.17" stroke="#333" stroke-width="1.1"/>
<text x="288.8" y="380.069" font-size="13.8" text-anchor="start" fill="#000" font-weight="bold"><tspan>-100</tspan></text>
<line x1="284.2" y1="399.74" x2="287.2" y2="399.74" stroke="#333" stroke-width="1.1"/>
<text x="288.8" y="404.639" font-size="13.8" text-anchor="start" fill="#000" font-weight="bold"><tspan>-200</tspan></text>
<line x1="284.2" y1="424.31" x2="287.2" y2="424.31" stroke="#333" stroke-width="1.1"/>
<text x="288.8" y="429.209" font-size="13.8" text-anchor="start" fill="#000" font-weight="bold"><tspan>-300</tspan></text>
<text x="20.2" y="350.5" font-size="15" text-anchor="middle" fill="#000" font-weight="bold" transform="rotate(-90 20.2 350.5)"><tspan>Preference</tspan></text>
<text x="323" y="346.4" font-size="15" text-anchor="middle" fill="#000" font-weight="bold" transform="rotate(90 323 346.4)"><tspan>Preference</tspan></text>
<line x1="57" y1="350.6" x2="240.5" y2="350.6" stroke="#000" stroke-width="1.7" stroke-dasharray="1.6 1.4"/>
<line x1="253.5" y1="350.6" x2="284.7" y2="350.6" stroke="#000" stroke-width="1.7" stroke-dasharray="1.6 1.4"/>
<line x1="239" y1="353.6" x2="243" y2="347.6" stroke="#111" stroke-width="1"/>
<line x1="251.5" y1="353.6" x2="255.5" y2="347.6" stroke="#111" stroke-width="1"/>
<rect x="186.1" y="237.7" width="86.3" height="30.6" fill="#fdf4ee" stroke="#aab4c0" stroke-width="1" rx="0"/>
<rect x="187.1" y="238.7" width="41.5" height="28.6" fill="#e9eff8" stroke="none" stroke-width="1" rx="0"/>
<line x1="228.6" y1="238.7" x2="228.6" y2="267.3" stroke="#c5cfdc" stroke-width="0.6"/>
<text x="189.6" y="248.4" font-size="9.9" text-anchor="start" fill="#24557f" font-weight="bold"><tspan>10~50 °C</tspan></text>
<text x="245" y="248.4" font-size="9.9" text-anchor="start" fill="#7a1f1f" font-weight="bold"><tspan>30°C</tspan></text>
<path d="M204 262 C210 258 216 259 222 258" fill="none" stroke="#b9827e" stroke-width="0.9"/>
<path d="M221 258 C220 253 225 250 231 250 C236 249.5 240 251 240.6 253 C240 256 236 259 231 260 C226 261 222 261 221 258Z" fill="#3e3e3e" stroke="none" stroke-width="1"/>
<circle cx="231.5" cy="250.5" r="1.2" fill="#c99" stroke="none" stroke-width="0"/>
<rect x="265.4" y="253" width="2.2" height="9" fill="#fff" stroke="#b03030" stroke-width="0.6" rx="1.1"/>
<circle cx="266.5" cy="263.3" r="1.8" fill="#e05050" stroke="#b03030" stroke-width="0.6"/>
<line x1="266.5" y1="257" x2="266.5" y2="262" stroke="#e05050" stroke-width="1"/>
<line x1="61.89999999999999" y1="280.5" x2="70.3" y2="280.5" stroke="#333" stroke-width="1"/>
<line x1="66.1" y1="278.2" x2="66.1" y2="283" stroke="#333" stroke-width="0.9"/>
<line x1="63.89999999999999" y1="278.2" x2="68.3" y2="278.2" stroke="#333" stroke-width="0.9"/>
<line x1="63.89999999999999" y1="283" x2="68.3" y2="283" stroke="#333" stroke-width="0.9"/>
<circle cx="64" cy="277" r="1.85" fill="#fff" stroke="#1a1a1a" stroke-width="1.12"/>
<circle cx="68" cy="277" r="1.85" fill="#fff" stroke="#1a1a1a" stroke-width="1.12"/>
<circle cx="66.1" cy="278.5" r="1.85" fill="#fff" stroke="#1a1a1a" stroke-width="1.12"/>
<circle cx="63.6" cy="281" r="1.85" fill="#fff" stroke="#1a1a1a" stroke-width="1.12"/>
<circle cx="68.4" cy="284" r="1.85" fill="#fff" stroke="#1a1a1a" stroke-width="1.12"/>
<circle cx="66.1" cy="288" r="1.85" fill="#fff" stroke="#1a1a1a" stroke-width="1.12"/>
<line x1="87.8" y1="281.3" x2="96.2" y2="281.3" stroke="#333" stroke-width="1"/>
<line x1="92.0" y1="279.2" x2="92.0" y2="284" stroke="#333" stroke-width="0.9"/>
<line x1="89.8" y1="279.2" x2="94.2" y2="279.2" stroke="#333" stroke-width="0.9"/>
<line x1="89.8" y1="284" x2="94.2" y2="284" stroke="#333" stroke-width="0.9"/>
<circle cx="90.2" cy="277" r="1.85" fill="#fff" stroke="#1a1a1a" stroke-width="1.12"/>
<circle cx="94" cy="277.3" r="1.85" fill="#fff" stroke="#1a1a1a" stroke-width="1.12"/>
<circle cx="91" cy="280.2" r="1.85" fill="#fff" stroke="#1a1a1a" stroke-width="1.12"/>
<circle cx="95.2" cy="282.3" r="1.85" fill="#fff" stroke="#1a1a1a" stroke-width="1.12"/>
<circle cx="88.4" cy="282.3" r="1.85" fill="#fff" stroke="#1a1a1a" stroke-width="1.12"/>
<circle cx="92" cy="287.8" r="1.85" fill="#fff" stroke="#1a1a1a" stroke-width="1.12"/>
<line x1="113.6" y1="282" x2="122.0" y2="282" stroke="#333" stroke-width="1"/>
<line x1="117.8" y1="279.5" x2="117.8" y2="287" stroke="#333" stroke-width="0.9"/>
<line x1="115.6" y1="279.5" x2="120.0" y2="279.5" stroke="#333" stroke-width="0.9"/>
<line x1="115.6" y1="287" x2="120.0" y2="287" stroke="#333" stroke-width="0.9"/>
<circle cx="115.2" cy="277.4" r="1.85" fill="#fff" stroke="#1a1a1a" stroke-width="1.12"/>
<circle cx="119.8" cy="277.4" r="1.85" fill="#fff" stroke="#1a1a1a" stroke-width="1.12"/>
<circle cx="114.3" cy="280.4" r="1.85" fill="#fff" stroke="#1a1a1a" stroke-width="1.12"/>
<circle cx="117.8" cy="281.8" r="1.85" fill="#fff" stroke="#1a1a1a" stroke-width="1.12"/>
<circle cx="117.8" cy="293" r="1.85" fill="#fff" stroke="#1a1a1a" stroke-width="1.12"/>
<line x1="139.3" y1="298" x2="147.7" y2="298" stroke="#333" stroke-width="1"/>
<line x1="143.5" y1="288.5" x2="143.5" y2="308.4" stroke="#333" stroke-width="0.9"/>
<line x1="141.3" y1="288.5" x2="145.7" y2="288.5" stroke="#333" stroke-width="0.9"/>
<line x1="141.3" y1="308.4" x2="145.7" y2="308.4" stroke="#333" stroke-width="0.9"/>
<circle cx="143.3" cy="281.8" r="1.85" fill="#fff" stroke="#1a1a1a" stroke-width="1.12"/>
<circle cx="140.8" cy="284.8" r="1.85" fill="#fff" stroke="#1a1a1a" stroke-width="1.12"/>
<circle cx="145.8" cy="290.3" r="1.85" fill="#fff" stroke="#1a1a1a" stroke-width="1.12"/>
<circle cx="141.3" cy="291.8" r="1.85" fill="#fff" stroke="#1a1a1a" stroke-width="1.12"/>
<circle cx="143.3" cy="349.4" r="1.85" fill="#fff" stroke="#1a1a1a" stroke-width="1.12"/>
<line x1="165.20000000000002" y1="355.6" x2="173.6" y2="355.6" stroke="#333" stroke-width="1"/>
<line x1="169.4" y1="351" x2="169.4" y2="360.2" stroke="#333" stroke-width="0.9"/>
<line x1="167.20000000000002" y1="351" x2="171.6" y2="351" stroke="#333" stroke-width="0.9"/>
<line x1="167.20000000000002" y1="360.2" x2="171.6" y2="360.2" stroke="#333" stroke-width="0.9"/>
<circle cx="169.1" cy="336.4" r="1.85" fill="#fff" stroke="#1a1a1a" stroke-width="1.12"/>
<circle cx="166.4" cy="354.3" r="1.85" fill="#fff" stroke="#1a1a1a" stroke-width="1.12"/>
<circle cx="171.8" cy="354.3" r="1.85" fill="#fff" stroke="#1a1a1a" stroke-width="1.12"/>
<circle cx="166.4" cy="361.3" r="1.85" fill="#fff" stroke="#1a1a1a" stroke-width="1.12"/>
<circle cx="171.2" cy="361.3" r="1.85" fill="#fff" stroke="#1a1a1a" stroke-width="1.12"/>
<line x1="191.10000000000002" y1="349.8" x2="199.5" y2="349.8" stroke="#333" stroke-width="1"/>
<line x1="195.3" y1="345.6" x2="195.3" y2="354.3" stroke="#333" stroke-width="0.9"/>
<line x1="193.10000000000002" y1="345.6" x2="197.5" y2="345.6" stroke="#333" stroke-width="0.9"/>
<line x1="193.10000000000002" y1="354.3" x2="197.5" y2="354.3" stroke="#333" stroke-width="0.9"/>
<circle cx="192" cy="340.7" r="1.85" fill="#fff" stroke="#1a1a1a" stroke-width="1.12"/>
<circle cx="198.2" cy="340" r="1.85" fill="#fff" stroke="#1a1a1a" stroke-width="1.12"/>
<circle cx="195.2" cy="346.9" r="1.85" fill="#fff" stroke="#1a1a1a" stroke-width="1.12"/>
<circle cx="192" cy="349.4" r="1.85" fill="#fff" stroke="#1a1a1a" stroke-width="1.12"/>
<circle cx="198.2" cy="349.4" r="1.85" fill="#fff" stroke="#1a1a1a" stroke-width="1.12"/>
<circle cx="192" cy="361.3" r="1.85" fill="#fff" stroke="#1a1a1a" stroke-width="1.12"/>
<circle cx="198.2" cy="361.3" r="1.85" fill="#fff" stroke="#1a1a1a" stroke-width="1.12"/>
<line x1="74.6" y1="296" x2="83.0" y2="296" stroke="#c49a58" stroke-width="1"/>
<line x1="78.8" y1="289.5" x2="78.8" y2="303" stroke="#c49a58" stroke-width="0.9"/>
<line x1="76.6" y1="289.5" x2="81.0" y2="289.5" stroke="#c49a58" stroke-width="0.9"/>
<line x1="76.6" y1="303" x2="81.0" y2="303" stroke="#c49a58" stroke-width="0.9"/>
<rect x="76.75" y="276.15" width="3.5" height="3.5" fill="#fff" stroke="#c0904e" stroke-width="1.12" rx="0"/>
<rect x="73.05" y="281.05" width="3.5" height="3.5" fill="#fff" stroke="#c0904e" stroke-width="1.12" rx="0"/>
<rect x="79.55" y="283.05" width="3.5" height="3.5" fill="#fff" stroke="#c0904e" stroke-width="1.12" rx="0"/>
<rect x="76.75" y="289.25" width="3.5" height="3.5" fill="#fff" stroke="#c0904e" stroke-width="1.12" rx="0"/>
<rect x="76.75" y="299.95" width="3.5" height="3.5" fill="#fff" stroke="#c0904e" stroke-width="1.12" rx="0"/>
<rect x="76.75" y="305.45" width="3.5" height="3.5" fill="#fff" stroke="#c0904e" stroke-width="1.12" rx="0"/>
<rect x="76.75" y="331.45" width="3.5" height="3.5" fill="#fff" stroke="#c0904e" stroke-width="1.12" rx="0"/>
<line x1="100.39999999999999" y1="334.5" x2="108.8" y2="334.5" stroke="#c49a58" stroke-width="1"/>
<line x1="104.6" y1="330.5" x2="104.6" y2="338.5" stroke="#c49a58" stroke-width="0.9"/>
<line x1="102.39999999999999" y1="330.5" x2="106.8" y2="330.5" stroke="#c49a58" stroke-width="0.9"/>
<line x1="102.39999999999999" y1="338.5" x2="106.8" y2="338.5" stroke="#c49a58" stroke-width="0.9"/>
<rect x="100.35" y="324.05" width="3.5" height="3.5" fill="#fff" stroke="#c0904e" stroke-width="1.12" rx="0"/>
<rect x="104.05" y="324.05" width="3.5" height="3.5" fill="#fff" stroke="#c0904e" stroke-width="1.12" rx="0"/>
<rect x="99.15" y="328.95" width="3.5" height="3.5" fill="#fff" stroke="#c0904e" stroke-width="1.12" rx="0"/>
<rect x="105.35" y="330.25" width="3.5" height="3.5" fill="#fff" stroke="#c0904e" stroke-width="1.12" rx="0"/>
<rect x="101.65" y="331.45" width="3.5" height="3.5" fill="#fff" stroke="#c0904e" stroke-width="1.12" rx="0"/>
<rect x="104.05" y="335.25" width="3.5" height="3.5" fill="#fff" stroke="#c0904e" stroke-width="1.12" rx="0"/>
<rect x="101.65" y="337.65" width="3.5" height="3.5" fill="#fff" stroke="#c0904e" stroke-width="1.12" rx="0"/>
<rect x="102.85" y="352.55" width="3.5" height="3.5" fill="#fff" stroke="#c0904e" stroke-width="1.12" rx="0"/>
<line x1="126.3" y1="337.5" x2="134.7" y2="337.5" stroke="#c49a58" stroke-width="1"/>
<line x1="130.5" y1="332" x2="130.5" y2="347" stroke="#c49a58" stroke-width="0.9"/>
<line x1="128.3" y1="332" x2="132.7" y2="332" stroke="#c49a58" stroke-width="0.9"/>
<line x1="128.3" y1="347" x2="132.7" y2="347" stroke="#c49a58" stroke-width="0.9"/>
<rect x="128.45" y="294.95" width="3.5" height="3.5" fill="#fff" stroke="#c0904e" stroke-width="1.12" rx="0"/>
<rect x="128.45" y="323.25" width="3.5" height="3.5" fill="#fff" stroke="#c0904e" stroke-width="1.12" rx="0"/>
<rect x="125.25" y="332.25" width="3.5" height="3.5" fill="#fff" stroke="#c0904e" stroke-width="1.12" rx="0"/>
<rect x="131.85" y="332.25" width="3.5" height="3.5" fill="#fff" stroke="#c0904e" stroke-width="1.12" rx="0"/>
<rect x="131.35" y="337.25" width="3.5" height="3.5" fill="#fff" stroke="#c0904e" stroke-width="1.12" rx="0"/>
<rect x="128.45" y="348.85" width="3.5" height="3.5" fill="#fff" stroke="#c0904e" stroke-width="1.12" rx="0"/>
<rect x="128.45" y="353.85" width="3.5" height="3.5" fill="#fff" stroke="#c0904e" stroke-width="1.12" rx="0"/>
<rect x="128.45" y="373.65" width="3.5" height="3.5" fill="#fff" stroke="#c0904e" stroke-width="1.12" rx="0"/>
<line x1="152.20000000000002" y1="343.9" x2="160.6" y2="343.9" stroke="#c49a58" stroke-width="1"/>
<line x1="156.4" y1="334.5" x2="156.4" y2="353.8" stroke="#c49a58" stroke-width="0.9"/>
<line x1="154.20000000000002" y1="334.5" x2="158.6" y2="334.5" stroke="#c49a58" stroke-width="0.9"/>
<line x1="154.20000000000002" y1="353.8" x2="158.6" y2="353.8" stroke="#c49a58" stroke-width="0.9"/>
<rect x="154.45" y="309.85" width="3.5" height="3.5" fill="#fff" stroke="#c0904e" stroke-width="1.12" rx="0"/>
<rect x="154.45" y="321.55" width="3.5" height="3.5" fill="#fff" stroke="#c0904e" stroke-width="1.12" rx="0"/>
<rect x="154.45" y="327.25" width="3.5" height="3.5" fill="#fff" stroke="#c0904e" stroke-width="1.12" rx="0"/>
<rect x="151.25" y="336.45" width="3.5" height="3.5" fill="#fff" stroke="#c0904e" stroke-width="1.12" rx="0"/>
<rect x="157.55" y="337.65" width="3.5" height="3.5" fill="#fff" stroke="#c0904e" stroke-width="1.12" rx="0"/>
<rect x="154.45" y="379.85" width="3.5" height="3.5" fill="#fff" stroke="#c0904e" stroke-width="1.12" rx="0"/>
<rect x="154.45" y="386.05" width="3.5" height="3.5" fill="#fff" stroke="#c0904e" stroke-width="1.12" rx="0"/>
<line x1="178.0" y1="346.9" x2="186.39999999999998" y2="346.9" stroke="#c49a58" stroke-width="1"/>
<line x1="182.2" y1="343.1" x2="182.2" y2="353" stroke="#c49a58" stroke-width="0.9"/>
<line x1="180.0" y1="343.1" x2="184.39999999999998" y2="343.1" stroke="#c49a58" stroke-width="0.9"/>
<line x1="180.0" y1="353" x2="184.39999999999998" y2="353" stroke="#c49a58" stroke-width="0.9"/>
<rect x="180.25" y="314.05" width="3.5" height="3.5" fill="#fff" stroke="#c0904e" stroke-width="1.12" rx="0"/>
<rect x="177.25" y="343.85" width="3.5" height="3.5" fill="#fff" stroke="#c0904e" stroke-width="1.12" rx="0"/>
<rect x="183.55" y="343.85" width="3.5" height="3.5" fill="#fff" stroke="#c0904e" stroke-width="1.12" rx="0"/>
<rect x="180.25" y="346.25" width="3.5" height="3.5" fill="#fff" stroke="#c0904e" stroke-width="1.12" rx="0"/>
<rect x="178.55" y="352.55" width="3.5" height="3.5" fill="#fff" stroke="#c0904e" stroke-width="1.12" rx="0"/>
<rect x="183.55" y="356.25" width="3.5" height="3.5" fill="#fff" stroke="#c0904e" stroke-width="1.12" rx="0"/>
<rect x="177.25" y="358.75" width="3.5" height="3.5" fill="#fff" stroke="#c0904e" stroke-width="1.12" rx="0"/>
<line x1="203.4" y1="352.3" x2="211.79999999999998" y2="352.3" stroke="#c49a58" stroke-width="1"/>
<line x1="207.6" y1="349" x2="207.6" y2="356" stroke="#c49a58" stroke-width="0.9"/>
<line x1="205.4" y1="349" x2="209.79999999999998" y2="349" stroke="#c49a58" stroke-width="0.9"/>
<line x1="205.4" y1="356" x2="209.79999999999998" y2="356" stroke="#c49a58" stroke-width="0.9"/>
<rect x="205.85" y="341.35" width="3.5" height="3.5" fill="#fff" stroke="#c0904e" stroke-width="1.12" rx="0"/>
<rect x="202.65" y="345.65" width="3.5" height="3.5" fill="#fff" stroke="#c0904e" stroke-width="1.12" rx="0"/>
<rect x="209.05" y="345.65" width="3.5" height="3.5" fill="#fff" stroke="#c0904e" stroke-width="1.12" rx="0"/>
<rect x="205.85" y="351.25" width="3.5" height="3.5" fill="#fff" stroke="#c0904e" stroke-width="1.12" rx="0"/>
<rect x="202.65" y="353.85" width="3.5" height="3.5" fill="#fff" stroke="#c0904e" stroke-width="1.12" rx="0"/>
<rect x="209.05" y="353.85" width="3.5" height="3.5" fill="#fff" stroke="#c0904e" stroke-width="1.12" rx="0"/>
<rect x="205.85" y="356.25" width="3.5" height="3.5" fill="#fff" stroke="#c0904e" stroke-width="1.12" rx="0"/>
<circle cx="218.2" cy="278" r="1.85" fill="#fff" stroke="#111" stroke-width="1.25"/>
<circle cx="220.6" cy="277.2" r="1.85" fill="#fff" stroke="#111" stroke-width="1.25"/>
<circle cx="223" cy="277.6" r="1.85" fill="#fff" stroke="#111" stroke-width="1.25"/>
<circle cx="219.6" cy="278.8" r="1.85" fill="#fff" stroke="#111" stroke-width="1.25"/>
<circle cx="222.2" cy="278.9" r="1.85" fill="#fff" stroke="#111" stroke-width="1.25"/>
<rect x="229.4" y="275.3" width="3.6" height="3.6" fill="#fff" stroke="#c08e4c" stroke-width="1.2" rx="0"/>
<rect x="234.0" y="276.0" width="3.6" height="3.6" fill="#fff" stroke="#c08e4c" stroke-width="1.2" rx="0"/>
<rect x="231.6" y="277.8" width="3.6" height="3.6" fill="#fff" stroke="#c08e4c" stroke-width="1.2" rx="0"/>
<rect x="234.4" y="278.6" width="3.6" height="3.6" fill="#fff" stroke="#c08e4c" stroke-width="1.2" rx="0"/>
<rect x="230.8" y="281.0" width="3.6" height="3.6" fill="#fff" stroke="#c08e4c" stroke-width="1.2" rx="0"/>
<circle cx="260.2" cy="277.4" r="1.85" fill="#fff" stroke="#111" stroke-width="1.25"/>
<circle cx="262.8" cy="277" r="1.85" fill="#fff" stroke="#111" stroke-width="1.25"/>
<circle cx="265.2" cy="277.4" r="1.85" fill="#fff" stroke="#111" stroke-width="1.25"/>
<circle cx="260.8" cy="279.4" r="1.85" fill="#fff" stroke="#111" stroke-width="1.25"/>
<circle cx="263.6" cy="279.6" r="1.85" fill="#fff" stroke="#111" stroke-width="1.25"/>
<rect x="271.8" y="275.4" width="3.6" height="3.6" fill="#fff" stroke="#c08e4c" stroke-width="1.2" rx="0"/>
<rect x="275.8" y="275.4" width="3.6" height="3.6" fill="#fff" stroke="#c08e4c" stroke-width="1.2" rx="0"/>
<rect x="271.0" y="278.8" width="3.6" height="3.6" fill="#fff" stroke="#c08e4c" stroke-width="1.2" rx="0"/>
<rect x="274.4" y="278.8" width="3.6" height="3.6" fill="#fff" stroke="#c08e4c" stroke-width="1.2" rx="0"/>
<rect x="277.2" y="278.4" width="3.6" height="3.6" fill="#fff" stroke="#c08e4c" stroke-width="1.2" rx="0"/>
<path d="M91.3 270.7 V264 H104.2 V316.6" fill="none" stroke="#111" stroke-width="1.25"/>
<path d="M117.3 261.5 V255.8 H130.3 V289.8" fill="none" stroke="#111" stroke-width="1.25"/>
<path d="M143.3 274.5 V270 H156.4 V304.7" fill="none" stroke="#111" stroke-width="1.25"/>
<text x="98" y="266.6" font-size="17.5" text-anchor="middle" fill="#000" font-weight="bold"><tspan>****</tspan></text>
<text x="123.6" y="258" font-size="17.5" text-anchor="middle" fill="#000" font-weight="bold"><tspan>****</tspan></text>
<text x="150.4" y="272.9" font-size="17.5" text-anchor="middle" fill="#000" font-weight="bold"><tspan>****</tspan></text>
<circle cx="65.4" cy="407" r="2.2" fill="#c4c4c4" stroke="#333" stroke-width="0.95"/>
<text x="76.8" y="411.5" font-size="13.5" text-anchor="start" fill="#000" font-weight="bold"><tspan>Control</tspan></text>
<rect x="63.25" y="420.95" width="4.3" height="4.3" fill="#f3e3c6" stroke="#c0965a" stroke-width="1.05" rx="0"/>
<text x="76.8" y="427.2" font-size="13.6" text-anchor="start" fill="#000" font-weight="bold"><tspan>Trhr</tspan><tspan dy="-4.62" font-size="7.48">Lbx1</tspan><tspan dy="4.62">-Abl</tspan></text>
<text x="23.6" y="451.6" font-size="13.6" text-anchor="start" fill="#000" font-weight="bold"><tspan>x˚C</tspan></text>
<text x="72.5" y="451.6" font-size="13.6" text-anchor="middle" fill="#000" font-weight="bold"><tspan>10</tspan></text>
<text x="98.5" y="451.6" font-size="13.6" text-anchor="middle" fill="#000" font-weight="bold"><tspan>15</tspan></text>
<text x="124.2" y="451.6" font-size="13.6" text-anchor="middle" fill="#000" font-weight="bold"><tspan>20</tspan></text>
<text x="150.1" y="451.6" font-size="13.6" text-anchor="middle" fill="#000" font-weight="bold"><tspan>25</tspan></text>
<text x="176" y="451.6" font-size="13.6" text-anchor="middle" fill="#000" font-weight="bold"><tspan>30</tspan></text>
<text x="201.9" y="451.6" font-size="13.6" text-anchor="middle" fill="#000" font-weight="bold"><tspan>40</tspan></text>
<text x="227.6" y="451.6" font-size="13.6" text-anchor="middle" fill="#000" font-weight="bold"><tspan>50</tspan></text>
<text x="268.3" y="451.6" font-size="13.6" text-anchor="middle" fill="#000" font-weight="bold"><tspan>10vs20</tspan></text>
<text x="300.8" y="451.6" font-size="13.6" text-anchor="start" fill="#000" font-weight="bold"><tspan>10˚C</tspan></text>
<text x="169.3" y="467.2" font-size="15.1" text-anchor="middle" fill="#000" font-weight="bold"><tspan>Temperature (˚C)</tspan></text>
<text x="347.5" y="217.6" font-size="19" text-anchor="start" fill="#000" font-weight="bold"><tspan>f</tspan></text>
<text x="454.8" y="228.5" font-size="15.5" text-anchor="start" fill="#000" font-weight="bold"><tspan>Gradient Temperature</tspan></text>
<text x="529.2" y="246" font-size="12.6" text-anchor="start" fill="#000" font-weight="bold"><tspan>5°C</tspan></text>
<text x="659.2" y="246" font-size="12.6" text-anchor="start" fill="#000" font-weight="bold"><tspan>50°C</tspan></text>
<path d="M540.5 250 H658 V265 H540.5Z" fill="#464646" stroke="none" stroke-width="1"/>
<path d="M540.5 265 H658 L674.2 271 H557.5Z" fill="#c9a27c" stroke="none" stroke-width="1"/>
<path d="M540.5 250 L557.5 254.6 V271.2 L540.5 265.6Z" fill="#5e6874" stroke="none" stroke-width="1"/>
<path d="M658 250 L674.2 254.6 V271.2 L658 265.6Z" fill="#5e6874" stroke="none" stroke-width="1"/>
<path d="M610 256.5 C614 253 618 250 622 248" fill="none" stroke="#c48a84" stroke-width="0.9"/>
<path d="M593.5 258 C595 254.6 600 253 606 253.2 C612 253.4 616 255 617.4 258 C617 261 613 262.6 606 262.8 C600 263 596 262 593.5 258Z" fill="#74665e" stroke="none" stroke-width="1"/>
<circle cx="597.5" cy="255" r="1.3" fill="#c9a0a0" stroke="none" stroke-width="0"/>
<path d="M598 262.5 l-2 3 M605 262.8 l1 3 M612 262.4 l2 2.8" fill="none" stroke="#b8908c" stroke-width="0.8"/>
<line x1="390.8" y1="271.5" x2="390.8" y2="410.9" stroke="#333" stroke-width="1.1"/>
<line x1="387.1" y1="272" x2="390.8" y2="272" stroke="#333" stroke-width="1.1"/>
<text x="385.056" y="276.9345" font-size="13.9" text-anchor="end" fill="#000" font-weight="bold"><tspan>45</tspan></text>
<line x1="387.1" y1="318.1" x2="390.8" y2="318.1" stroke="#333" stroke-width="1.1"/>
<text x="385.056" y="323.03450000000004" font-size="13.9" text-anchor="end" fill="#000" font-weight="bold"><tspan>30</tspan></text>
<line x1="387.1" y1="364.3" x2="390.8" y2="364.3" stroke="#333" stroke-width="1.1"/>
<text x="385.056" y="369.2345" font-size="13.9" text-anchor="end" fill="#000" font-weight="bold"><tspan>15</tspan></text>
<line x1="387.1" y1="410.4" x2="390.8" y2="410.4" stroke="#333" stroke-width="1.1"/>
<text x="385.056" y="415.3345" font-size="13.9" text-anchor="end" fill="#000" font-weight="bold"><tspan>0</tspan></text>
<text x="359" y="347" font-size="15" text-anchor="middle" fill="#000" font-weight="bold" transform="rotate(-90 359 347)"><tspan>Occupancy (%)</tspan></text>
<line x1="395.9" y1="424.5" x2="672.8" y2="424.5" stroke="#222" stroke-width="1"/>
<line x1="404.1" y1="424.5" x2="404.1" y2="428.1" stroke="#222" stroke-width="1"/>
<text x="409.1" y="437.6" font-size="12.4" text-anchor="end" fill="#000" font-weight="bold" transform="rotate(-45 409.1 437.6)"><tspan>5</tspan></text>
<line x1="419.03" y1="424.5" x2="419.03" y2="428.1" stroke="#222" stroke-width="1"/>
<text x="424.03" y="437.6" font-size="12.4" text-anchor="end" fill="#000" font-weight="bold" transform="rotate(-45 424.03 437.6)"><tspan>7.5</tspan></text>
<line x1="433.96" y1="424.5" x2="433.96" y2="428.1" stroke="#222" stroke-width="1"/>
<text x="438.96" y="437.6" font-size="12.4" text-anchor="end" fill="#000" font-weight="bold" transform="rotate(-45 438.96 437.6)"><tspan>10</tspan></text>
<line x1="448.89" y1="424.5" x2="448.89" y2="428.1" stroke="#222" stroke-width="1"/>
<text x="453.89" y="437.6" font-size="12.4" text-anchor="end" fill="#000" font-weight="bold" transform="rotate(-45 453.89 437.6)"><tspan>12.5</tspan></text>
<line x1="463.82" y1="424.5" x2="463.82" y2="428.1" stroke="#222" stroke-width="1"/>
<text x="468.82" y="437.6" font-size="12.4" text-anchor="end" fill="#000" font-weight="bold" transform="rotate(-45 468.82 437.6)"><tspan>15</tspan></text>
<line x1="478.75" y1="424.5" x2="478.75" y2="428.1" stroke="#222" stroke-width="1"/>
<text x="483.75" y="437.6" font-size="12.4" text-anchor="end" fill="#000" font-weight="bold" transform="rotate(-45 483.75 437.6)"><tspan>17.5</tspan></text>
<line x1="493.68" y1="424.5" x2="493.68" y2="428.1" stroke="#222" stroke-width="1"/>
<text x="498.68" y="437.6" font-size="12.4" text-anchor="end" fill="#000" font-weight="bold" transform="rotate(-45 498.68 437.6)"><tspan>20</tspan></text>
<line x1="508.61" y1="424.5" x2="508.61" y2="428.1" stroke="#222" stroke-width="1"/>
<text x="513.61" y="437.6" font-size="12.4" text-anchor="end" fill="#000" font-weight="bold" transform="rotate(-45 513.61 437.6)"><tspan>22.5</tspan></text>
<line x1="523.54" y1="424.5" x2="523.54" y2="428.1" stroke="#222" stroke-width="1"/>
<text x="528.54" y="437.6" font-size="12.4" text-anchor="end" fill="#000" font-weight="bold" transform="rotate(-45 528.54 437.6)"><tspan>25</tspan></text>
<line x1="538.47" y1="424.5" x2="538.47" y2="428.1" stroke="#222" stroke-width="1"/>
<text x="543.47" y="437.6" font-size="12.4" text-anchor="end" fill="#000" font-weight="bold" transform="rotate(-45 543.47 437.6)"><tspan>27.5</tspan></text>
<line x1="553.4" y1="424.5" x2="553.4" y2="428.1" stroke="#222" stroke-width="1"/>
<text x="558.4" y="437.6" font-size="12.4" text-anchor="end" fill="#000" font-weight="bold" transform="rotate(-45 558.4 437.6)"><tspan>30</tspan></text>
<line x1="568.33" y1="424.5" x2="568.33" y2="428.1" stroke="#222" stroke-width="1"/>
<text x="573.33" y="437.6" font-size="12.4" text-anchor="end" fill="#000" font-weight="bold" transform="rotate(-45 573.33 437.6)"><tspan>32.5</tspan></text>
<line x1="583.26" y1="424.5" x2="583.26" y2="428.1" stroke="#222" stroke-width="1"/>
<text x="588.26" y="437.6" font-size="12.4" text-anchor="end" fill="#000" font-weight="bold" transform="rotate(-45 588.26 437.6)"><tspan>35</tspan></text>
<line x1="598.19" y1="424.5" x2="598.19" y2="428.1" stroke="#222" stroke-width="1"/>
<text x="603.19" y="437.6" font-size="12.4" text-anchor="end" fill="#000" font-weight="bold" transform="rotate(-45 603.19 437.6)"><tspan>37.5</tspan></text>
<line x1="613.12" y1="424.5" x2="613.12" y2="428.1" stroke="#222" stroke-width="1"/>
<text x="618.12" y="437.6" font-size="12.4" text-anchor="end" fill="#000" font-weight="bold" transform="rotate(-45 618.12 437.6)"><tspan>40</tspan></text>
<line x1="628.05" y1="424.5" x2="628.05" y2="428.1" stroke="#222" stroke-width="1"/>
<text x="633.05" y="437.6" font-size="12.4" text-anchor="end" fill="#000" font-weight="bold" transform="rotate(-45 633.05 437.6)"><tspan>42.5</tspan></text>
<line x1="642.98" y1="424.5" x2="642.98" y2="428.1" stroke="#222" stroke-width="1"/>
<text x="647.98" y="437.6" font-size="12.4" text-anchor="end" fill="#000" font-weight="bold" transform="rotate(-45 647.98 437.6)"><tspan>45</tspan></text>
<line x1="657.91" y1="424.5" x2="657.91" y2="428.1" stroke="#222" stroke-width="1"/>
<text x="662.91" y="437.6" font-size="12.4" text-anchor="end" fill="#000" font-weight="bold" transform="rotate(-45 662.91 437.6)"><tspan>47.5</tspan></text>
<line x1="672.84" y1="424.5" x2="672.84" y2="428.1" stroke="#222" stroke-width="1"/>
<text x="677.84" y="437.6" font-size="12.4" text-anchor="end" fill="#000" font-weight="bold" transform="rotate(-45 677.84 437.6)"><tspan>50</tspan></text>
<text x="543.2" y="467.4" font-size="14.8" text-anchor="middle" fill="#000" font-weight="bold"><tspan>Temperature (˚C)</tspan></text>
<line x1="485.6" y1="339.4" x2="485.6" y2="361" stroke="#c49a58" stroke-width="1"/>
<line x1="483.20000000000005" y1="339.4" x2="488.0" y2="339.4" stroke="#c49a58" stroke-width="1"/>
<line x1="483.20000000000005" y1="361" x2="488.0" y2="361" stroke="#c49a58" stroke-width="1"/>
<line x1="500.5" y1="337.3" x2="500.5" y2="354" stroke="#c49a58" stroke-width="1"/>
<line x1="498.1" y1="337.3" x2="502.9" y2="337.3" stroke="#c49a58" stroke-width="1"/>
<line x1="498.1" y1="354" x2="502.9" y2="354" stroke="#c49a58" stroke-width="1"/>
<line x1="515.4" y1="325.4" x2="515.4" y2="342.9" stroke="#c49a58" stroke-width="1"/>
<line x1="513.0" y1="325.4" x2="517.8" y2="325.4" stroke="#c49a58" stroke-width="1"/>
<line x1="513.0" y1="342.9" x2="517.8" y2="342.9" stroke="#c49a58" stroke-width="1"/>
<line x1="530.3" y1="369" x2="530.3" y2="376" stroke="#c49a58" stroke-width="1"/>
<line x1="527.9" y1="369" x2="532.6999999999999" y2="369" stroke="#c49a58" stroke-width="1"/>
<line x1="527.9" y1="376" x2="532.6999999999999" y2="376" stroke="#c49a58" stroke-width="1"/>
<path d="M411.1 407.1 L426.0 407.1 L440.9 403.6 L455.8 404.8 L470.7 400.3 L485.6 350.6 L500.5 345.9 L515.4 333.8 L530.3 372.9 L545.2 403.7 L560.1 406.6 L575.0 406.1 L589.9 408 L604.8 408 L619.7 408 L634.6 406.1 L649.5 408 L664.4 406.1" fill="none" stroke="#b8894a" stroke-width="1.1"/>
<rect x="408.45" y="404.45" width="5.3" height="5.3" fill="#f2e2c4" stroke="#c49a58" stroke-width="1.0" rx="0"/>
<rect x="423.35" y="404.45" width="5.3" height="5.3" fill="#f2e2c4" stroke="#c49a58" stroke-width="1.0" rx="0"/>
<rect x="438.25" y="400.95" width="5.3" height="5.3" fill="#f2e2c4" stroke="#c49a58" stroke-width="1.0" rx="0"/>
<rect x="453.15" y="402.15" width="5.3" height="5.3" fill="#f2e2c4" stroke="#c49a58" stroke-width="1.0" rx="0"/>
<rect x="468.05" y="397.65" width="5.3" height="5.3" fill="#f2e2c4" stroke="#c49a58" stroke-width="1.0" rx="0"/>
<rect x="482.95" y="347.95" width="5.3" height="5.3" fill="#f2e2c4" stroke="#c49a58" stroke-width="1.0" rx="0"/>
<rect x="497.85" y="343.25" width="5.3" height="5.3" fill="#f2e2c4" stroke="#c49a58" stroke-width="1.0" rx="0"/>
<rect x="512.75" y="331.15" width="5.3" height="5.3" fill="#f2e2c4" stroke="#c49a58" stroke-width="1.0" rx="0"/>
<rect x="527.65" y="370.25" width="5.3" height="5.3" fill="#f2e2c4" stroke="#c49a58" stroke-width="1.0" rx="0"/>
<rect x="542.55" y="401.05" width="5.3" height="5.3" fill="#f2e2c4" stroke="#c49a58" stroke-width="1.0" rx="0"/>
<rect x="557.45" y="403.95" width="5.3" height="5.3" fill="#f2e2c4" stroke="#c49a58" stroke-width="1.0" rx="0"/>
<rect x="572.35" y="403.45" width="5.3" height="5.3" fill="#f2e2c4" stroke="#c49a58" stroke-width="1.0" rx="0"/>
<rect x="587.25" y="405.35" width="5.3" height="5.3" fill="#f2e2c4" stroke="#c49a58" stroke-width="1.0" rx="0"/>
<rect x="602.15" y="405.35" width="5.3" height="5.3" fill="#f2e2c4" stroke="#c49a58" stroke-width="1.0" rx="0"/>
<rect x="617.05" y="405.35" width="5.3" height="5.3" fill="#f2e2c4" stroke="#c49a58" stroke-width="1.0" rx="0"/>
<rect x="631.95" y="403.45" width="5.3" height="5.3" fill="#f2e2c4" stroke="#c49a58" stroke-width="1.0" rx="0"/>
<rect x="646.85" y="405.35" width="5.3" height="5.3" fill="#f2e2c4" stroke="#c49a58" stroke-width="1.0" rx="0"/>
<rect x="661.75" y="403.45" width="5.3" height="5.3" fill="#f2e2c4" stroke="#c49a58" stroke-width="1.0" rx="0"/>
<line x1="515.4" y1="395" x2="515.4" y2="406" stroke="#111" stroke-width="1"/>
<line x1="513.0" y1="395" x2="517.8" y2="395" stroke="#111" stroke-width="1"/>
<line x1="513.0" y1="406" x2="517.8" y2="406" stroke="#111" stroke-width="1"/>
<line x1="530.3" y1="375" x2="530.3" y2="386.8" stroke="#111" stroke-width="1"/>
<line x1="527.9" y1="375" x2="532.6999999999999" y2="375" stroke="#111" stroke-width="1"/>
<line x1="527.9" y1="386.8" x2="532.6999999999999" y2="386.8" stroke="#111" stroke-width="1"/>
<line x1="545.2" y1="325.4" x2="545.2" y2="339.8" stroke="#111" stroke-width="1"/>
<line x1="542.8000000000001" y1="325.4" x2="547.6" y2="325.4" stroke="#111" stroke-width="1"/>
<line x1="542.8000000000001" y1="339.8" x2="547.6" y2="339.8" stroke="#111" stroke-width="1"/>
<line x1="560.1" y1="291.2" x2="560.1" y2="319.4" stroke="#111" stroke-width="1"/>
<line x1="557.7" y1="291.2" x2="562.5" y2="291.2" stroke="#111" stroke-width="1"/>
<line x1="557.7" y1="319.4" x2="562.5" y2="319.4" stroke="#111" stroke-width="1"/>
<line x1="575.0" y1="361.5" x2="575.0" y2="382" stroke="#111" stroke-width="1"/>
<line x1="572.6" y1="361.5" x2="577.4" y2="361.5" stroke="#111" stroke-width="1"/>
<line x1="572.6" y1="382" x2="577.4" y2="382" stroke="#111" stroke-width="1"/>
<line x1="589.9" y1="398" x2="589.9" y2="405" stroke="#111" stroke-width="1"/>
<line x1="587.5" y1="398" x2="592.3" y2="398" stroke="#111" stroke-width="1"/>
<line x1="587.5" y1="405" x2="592.3" y2="405" stroke="#111" stroke-width="1"/>
<line x1="664.4" y1="399" x2="664.4" y2="407.5" stroke="#111" stroke-width="1"/>
<line x1="662.0" y1="399" x2="666.8" y2="399" stroke="#111" stroke-width="1"/>
<line x1="662.0" y1="407.5" x2="666.8" y2="407.5" stroke="#111" stroke-width="1"/>
<path d="M411.1 409 L426.0 407.8 L440.9 407.8 L455.8 410.2 L470.7 410.2 L485.6 409 L500.5 408.5 L515.4 400.8 L530.3 380.4 L545.2 332.6 L560.1 305.4 L575.0 371.9 L589.9 402 L604.8 406.8 L619.7 407.3 L634.6 409 L649.5 408 L664.4 403.7" fill="none" stroke="#111" stroke-width="1.1"/>
<circle cx="411.1" cy="409" r="2.75" fill="#d4d4d4" stroke="#111" stroke-width="1.0"/>
<circle cx="426.0" cy="407.8" r="2.75" fill="#d4d4d4" stroke="#111" stroke-width="1.0"/>
<circle cx="440.9" cy="407.8" r="2.75" fill="#d4d4d4" stroke="#111" stroke-width="1.0"/>
<circle cx="455.8" cy="410.2" r="2.75" fill="#d4d4d4" stroke="#111" stroke-width="1.0"/>
<circle cx="470.7" cy="410.2" r="2.75" fill="#d4d4d4" stroke="#111" stroke-width="1.0"/>
<circle cx="485.6" cy="409" r="2.75" fill="#d4d4d4" stroke="#111" stroke-width="1.0"/>
<circle cx="500.5" cy="408.5" r="2.75" fill="#d4d4d4" stroke="#111" stroke-width="1.0"/>
<circle cx="515.4" cy="400.8" r="2.75" fill="#d4d4d4" stroke="#111" stroke-width="1.0"/>
<circle cx="530.3" cy="380.4" r="2.75" fill="#d4d4d4" stroke="#111" stroke-width="1.0"/>
<circle cx="545.2" cy="332.6" r="2.75" fill="#d4d4d4" stroke="#111" stroke-width="1.0"/>
<circle cx="560.1" cy="305.4" r="2.75" fill="#d4d4d4" stroke="#111" stroke-width="1.0"/>
<circle cx="575.0" cy="371.9" r="2.75" fill="#d4d4d4" stroke="#111" stroke-width="1.0"/>
<circle cx="589.9" cy="402" r="2.75" fill="#d4d4d4" stroke="#111" stroke-width="1.0"/>
<circle cx="604.8" cy="406.8" r="2.75" fill="#d4d4d4" stroke="#111" stroke-width="1.0"/>
<circle cx="619.7" cy="407.3" r="2.75" fill="#d4d4d4" stroke="#111" stroke-width="1.0"/>
<circle cx="634.6" cy="409" r="2.75" fill="#d4d4d4" stroke="#111" stroke-width="1.0"/>
<circle cx="649.5" cy="408" r="2.75" fill="#d4d4d4" stroke="#111" stroke-width="1.0"/>
<circle cx="664.4" cy="403.7" r="2.75" fill="#d4d4d4" stroke="#111" stroke-width="1.0"/>
<text x="484.9" y="341.4" font-size="16.2" text-anchor="middle" fill="#000" font-weight="bold"><tspan>****</tspan></text>
<text x="500.9" y="332" font-size="16.2" text-anchor="middle" fill="#000" font-weight="bold"><tspan>****</tspan></text>
<text x="515" y="321.5" font-size="16.2" text-anchor="middle" fill="#000" font-weight="bold"><tspan>****</tspan></text>
<text x="545.3" y="400.1" font-size="16.2" text-anchor="middle" fill="#000" font-weight="bold"><tspan>****</tspan></text>
<text x="559.8" y="407.7" font-size="16.2" text-anchor="middle" fill="#000" font-weight="bold"><tspan>****</tspan></text>
<text x="575.2" y="422.8" font-size="16.2" text-anchor="middle" fill="#000" font-weight="bold"><tspan>****</tspan></text>
<line x1="395.7" y1="249.4" x2="412.8" y2="249.4" stroke="#111" stroke-width="1"/>
<circle cx="404.2" cy="249.4" r="2.9" fill="#d4d4d4" stroke="#111" stroke-width="1"/>
<text x="418" y="253.9" font-size="13.8" text-anchor="start" fill="#000" font-weight="bold"><tspan>Control</tspan></text>
<line x1="395.7" y1="264.4" x2="412.8" y2="264.4" stroke="#b8894a" stroke-width="1"/>
<rect x="401.4" y="261.6" width="5.6" height="5.6" fill="#f2e2c4" stroke="#c49a58" stroke-width="1.1" rx="0"/>
<text x="418" y="268.9" font-size="13.8" text-anchor="start" fill="#000" font-weight="bold"><tspan>Trhr</tspan><tspan dy="-4.69" font-size="7.59">Lbx1</tspan><tspan dy="4.69">-Abl</tspan></text>
<path d="M492.4 248.6 H496.8 V265.7 H492.4" fill="none" stroke="#111" stroke-width="1.25"/>
<text x="501.3" y="257" font-size="8.8" text-anchor="middle" fill="#000" font-weight="bold" transform="rotate(90 501.3 257)"><tspan>####</tspan></text>
<text x="-0.6" y="496.2" font-size="19" text-anchor="start" fill="#000" font-weight="bold"><tspan>g</tspan></text>
<text x="24" y="506.6" font-size="15.65" text-anchor="start" fill="#000" font-weight="bold"><tspan>Spared Nerve Injury (SNI)</tspan></text>
<g><path d="M97 629 C101 638 105 645 112 649.3 C125 652 150 650 189 648.4" fill="none" stroke="#a67a76" stroke-width="3.8" stroke-linecap="round"/><path d="M97 629 C101 638 105 645 112 649.3 C125 652 150 650 189 648.4" fill="none" stroke="#c99a96" stroke-width="2.4" stroke-linecap="round"/><path d="M72 631 C70 636 66 640 61 642 C58 643 55.5 643.6 54.5 645 C55 646.5 58 646.5 61 645.5 C66 643.5 71 639 74.5 634Z" fill="#b98a86"/><path d="M79 631.5 C76 636 70 641 64 644 C60 645.5 56 646 54 647.2 C53 648.6 55 649.6 58 649.1 C56 651 57 653.6 60 653.1 C66 650 72 645 76.5 640 C78.5 637 79.6 634 79 631.5Z" fill="#cc9c96"/><path d="M18 591.4 C19 587 22 584.5 24.6 583.4 C28 581 32 579.8 36.3 579 C42 578.5 48 579.5 53.8 580.4 C59 581 64 582 68.4 583.4 C74 585.5 79 588 83 590.7 C87 593 90 595.5 91.8 598 C94.5 601 96.5 604 97.6 606.7 C99 610.5 99.6 614.5 99.8 618.4 C100.2 622 100.6 626 100.5 628.6 C100.4 630 99.8 631 99 631.5 C96 632.2 92 632.4 88.8 632.3 C85 632.2 80 631.8 77.2 631.5 C74.5 631.6 72.5 631.8 71.3 631.5 C69 630.5 67.6 628.8 67 627 C66 625 65.6 623 65.5 621.3 C63 618 60.5 615.5 58.2 614 C55 612.5 52 611.4 49.4 611.1 C45.5 610.8 42 610.8 39.2 610.4 C37 608.5 35.8 606 34.8 603.8 C33 601.5 31 599.5 29 598 C26.5 596.5 24 595.3 21.7 594.3 C20 593.5 18.8 592.5 18 591.4Z" fill="#8b7262"/><path d="M34.8 603.8 C40 599.5 50 598 60 600 C72 603 82 610 88 620 C92 626 96 630 99 631.5 C92 632.4 80 631.8 71.3 631.5 C67 628 65.5 623 65.5 621.3 C60 615 52 611.4 39.2 610.4 C37 608.5 35.8 606 34.8 603.8Z" fill="#7c6454"/><path d="M36 595 C44 592 56 593 64 597 C56 596 46 596 36 598Z" fill="#7c6454" opacity="0.6"/><ellipse cx="48.8" cy="575.6" rx="6.2" ry="4.6" fill="#8b7262" transform="rotate(-25 48.8 575.6)"/><ellipse cx="49.4" cy="575.4" rx="4.2" ry="3" fill="#d4a4a2" transform="rotate(-25 49.4 575.4)"/><path d="M22.5 590.4 q1.8 -1 3.4 0" stroke="#3a2a22" stroke-width="0.8" fill="none"/><path d="M35 603.5 C31 602.6 27 602.8 25.4 604.4 C25 606 27.5 607 30 606.8 L34.5 606.8Z" fill="#cc9c96"/><path d="M38.5 609.2 C34 609.4 30.5 610.5 28.6 612.4 C28.8 614.6 31.5 615.2 34 614 L39.5 612Z" fill="#cc9c96"/><ellipse cx="82.6" cy="617.3" rx="5.4" ry="2.5" fill="#a82828" transform="rotate(-42 82.6 617.3)"/><path d="M79.4 620.6 C81 618.5 83.5 615.5 86.2 613.8 M81.5 618.6 L84.6 618" stroke="#f2c230" stroke-width="0.9" fill="none"/></g>
<path d="M84.6 609 C87 594 99 578 118 572.6" fill="none" stroke="#222" stroke-width="1.3"/>
<path d="M124.5 571 L115.6 568.8 L117.6 576.4Z" fill="#222" stroke="none" stroke-width="1"/>
<ellipse cx="150.6" cy="570.7" rx="22.2" ry="43.3" fill="#8d7463" transform="rotate(2 150.6 570.7)"/>
<ellipse cx="150.6" cy="570.7" rx="20.5" ry="41" fill="none" stroke="#7e6656" stroke-width="1" transform="rotate(2 150.6 570.7)"/>
<path d="M151.5 536.4 C155 540 158 543 159.6 548 C160.6 556 160.8 566 160.2 576 C159.6 586 158 594 155 600 C153 604 151.5 606 150 607.3 C146.5 603 143 597 141 590 C139.8 582 139.8 570 140.2 558 C140.8 550 144 544 148 539 Z" fill="#8a2222" stroke="#e8958a" stroke-width="1.3"/>
<path d="M152.6 539.5 C151.5 548 148.5 556 148 566 C147.6 572 148.5 576 150.5 579 C153 581 156 580.5 158.5 579" fill="none" stroke="#f5d21f" stroke-width="2.6"/>
<path d="M149.8 578 C149 584 150.4 590 153.4 595.5" fill="none" stroke="#f5d21f" stroke-width="2.2"/>
<path d="M148.4 579 C147.2 586 148 594 150.6 601" fill="none" stroke="#f5d21f" stroke-width="1.6"/>
<circle cx="158.4" cy="579.2" r="1.5" fill="#1a1a1a" stroke="none" stroke-width="0"/>
<circle cx="158" cy="589.6" r="1.5" fill="#1a1a1a" stroke="none" stroke-width="0"/>
<circle cx="153.4" cy="594.6" r="1.5" fill="#1a1a1a" stroke="none" stroke-width="0"/>
<circle cx="148.8" cy="577.6" r="1.1" fill="#2a2a2a" stroke="none" stroke-width="0"/>
<g stroke-linecap="round"><path d="M137.5 585.6 L163.6 580.6 L164.2 584.6 Z" fill="#d8d8d8" stroke="#7a7a7a" stroke-width="0.7" stroke-linejoin="round"/><path d="M143.6 601.4 L161.8 581.4 L164.8 584 Z" fill="#cfcfcf" stroke="#7a7a7a" stroke-width="0.7" stroke-linejoin="round"/><path d="M163.4 582.6 L181.5 566.5" stroke="#7a7a7a" stroke-width="2.6"/><path d="M163.4 582.6 L181.5 566.5" stroke="#d4d4d4" stroke-width="1.4"/><path d="M163.4 582.6 L188.6 583.6" stroke="#7a7a7a" stroke-width="2.6"/><path d="M163.4 582.6 L188.6 583.6" stroke="#d4d4d4" stroke-width="1.4"/><ellipse cx="185.6" cy="560.4" rx="6.6" ry="4.4" transform="rotate(-40 185.6 560.4)" fill="none" stroke="#8a8a8a" stroke-width="2.2"/><ellipse cx="185.6" cy="560.4" rx="6.6" ry="4.4" transform="rotate(-40 185.6 560.4)" fill="none" stroke="#dedede" stroke-width="1"/><ellipse cx="195.4" cy="584" rx="6.8" ry="4.6" transform="rotate(5 195.4 584)" fill="none" stroke="#8a8a8a" stroke-width="2.2"/><ellipse cx="195.4" cy="584" rx="6.8" ry="4.6" transform="rotate(5 195.4 584)" fill="none" stroke="#dedede" stroke-width="1"/><circle cx="163.4" cy="582.6" r="1.2" fill="#999"/></g>
<path d="M158.4 543.4 H178" fill="none" stroke="#111" stroke-width="1.1" stroke-dasharray="1.6 1.4"/>
<path d="M158.4 543.4 V609.4 H178" fill="none" stroke="#111" stroke-width="1.1" stroke-dasharray="1.6 1.4"/>
<path d="M153.3 594.8 V625 H178" fill="none" stroke="#111" stroke-width="1.1" stroke-dasharray="1.6 1.4"/>
<text x="179.8" y="547.5" font-size="13.4" text-anchor="start" fill="#000" font-weight="bold"><tspan>Sural</tspan></text>
<text x="179.8" y="614.1" font-size="13.4" text-anchor="start" fill="#000" font-weight="bold"><tspan>Tibial</tspan></text>
<text x="179.8" y="629.1" font-size="13.4" text-anchor="start" fill="#000" font-weight="bold"><tspan>Common</tspan></text>
<text x="179.8" y="640.5" font-size="13.4" text-anchor="start" fill="#000" font-weight="bold"><tspan>peroneal</tspan></text>
<text x="247.6" y="497.2" font-size="19" text-anchor="start" fill="#000" font-weight="bold"><tspan>h</tspan></text>
<text x="305.6" y="506.6" font-size="15.45" text-anchor="start" fill="#000" font-weight="bold"><tspan>Cold allodynia</tspan></text>
<line x1="268.6" y1="518.4" x2="279.9" y2="518.4" stroke="#333" stroke-width="1"/>
<circle cx="274.2" cy="518.4" r="2.4" fill="#d0d0d0" stroke="#333" stroke-width="0.9"/>
<text x="281.7" y="522.9" font-size="13.75" text-anchor="start" fill="#000" font-weight="bold"><tspan>Control</tspan></text>
<line x1="268.6" y1="534.8" x2="279.9" y2="534.8" stroke="#b8894a" stroke-width="1"/>
<rect x="271.8" y="532.4" width="4.8" height="4.8" fill="#f2e2c4" stroke="#c49a58" stroke-width="1" rx="0"/>
<text x="281.7" y="539.3" font-size="13.75" text-anchor="start" fill="#000" font-weight="bold"><tspan>Trhr</tspan><tspan dy="-4.68" font-size="7.97">Lbx1</tspan><tspan dy="4.68">-Abl</tspan></text>
<path d="M360.6 517.8 H364.2 V534.8 H360.6" fill="none" stroke="#111" stroke-width="1.25"/>
<text x="372.6" y="532.1" font-size="14" text-anchor="start" fill="#000" font-weight="bold"><tspan>ns</tspan></text>
<line x1="286.6" y1="545.9" x2="286.6" y2="645.1" stroke="#333" stroke-width="1.1"/>
<line x1="282.20000000000005" y1="546.4" x2="286.6" y2="546.4" stroke="#333" stroke-width="1.1"/>
<text x="278.76000000000005" y="551.37" font-size="14" text-anchor="end" fill="#000" font-weight="bold"><tspan>4</tspan></text>
<line x1="282.20000000000005" y1="570.95" x2="286.6" y2="570.95" stroke="#333" stroke-width="1.1"/>
<text x="278.76000000000005" y="575.9200000000001" font-size="14" text-anchor="end" fill="#000" font-weight="bold"><tspan>3</tspan></text>
<line x1="282.20000000000005" y1="595.5" x2="286.6" y2="595.5" stroke="#333" stroke-width="1.1"/>
<text x="278.76000000000005" y="600.47" font-size="14" text-anchor="end" fill="#000" font-weight="bold"><tspan>2</tspan></text>
<line x1="282.20000000000005" y1="620.0500000000001" x2="286.6" y2="620.0500000000001" stroke="#333" stroke-width="1.1"/>
<text x="278.76000000000005" y="625.0200000000001" font-size="14" text-anchor="end" fill="#000" font-weight="bold"><tspan>1</tspan></text>
<line x1="282.20000000000005" y1="644.6" x2="286.6" y2="644.6" stroke="#333" stroke-width="1.1"/>
<text x="278.76000000000005" y="649.57" font-size="14" text-anchor="end" fill="#000" font-weight="bold"><tspan>0</tspan></text>
<line x1="286.6" y1="644.6" x2="434.5" y2="644.6" stroke="#333" stroke-width="1"/>
<line x1="298.2" y1="644.6" x2="298.2" y2="647.8" stroke="#333" stroke-width="1"/>
<text x="298.2" y="664.3" font-size="13.6" text-anchor="middle" fill="#000" font-weight="bold"><tspan>BSL</tspan></text>
<line x1="315.92" y1="644.6" x2="315.92" y2="647.8" stroke="#333" stroke-width="1"/>
<text x="315.92" y="664.3" font-size="13.6" text-anchor="middle" fill="#000" font-weight="bold"><tspan>1</tspan></text>
<line x1="333.64" y1="644.6" x2="333.64" y2="647.8" stroke="#333" stroke-width="1"/>
<text x="333.64" y="664.3" font-size="13.6" text-anchor="middle" fill="#000" font-weight="bold"><tspan>3</tspan></text>
<line x1="351.36" y1="644.6" x2="351.36" y2="647.8" stroke="#333" stroke-width="1"/>
<text x="351.36" y="664.3" font-size="13.6" text-anchor="middle" fill="#000" font-weight="bold"><tspan>5</tspan></text>
<line x1="369.08" y1="644.6" x2="369.08" y2="647.8" stroke="#333" stroke-width="1"/>
<text x="369.08" y="664.3" font-size="13.6" text-anchor="middle" fill="#000" font-weight="bold"><tspan>7</tspan></text>
<line x1="386.8" y1="644.6" x2="386.8" y2="647.8" stroke="#333" stroke-width="1"/>
<text x="386.8" y="664.3" font-size="13.6" text-anchor="middle" fill="#000" font-weight="bold"><tspan>14</tspan></text>
<line x1="404.52" y1="644.6" x2="404.52" y2="647.8" stroke="#333" stroke-width="1"/>
<text x="404.52" y="664.3" font-size="13.6" text-anchor="middle" fill="#000" font-weight="bold"><tspan>21</tspan></text>
<line x1="422.24" y1="644.6" x2="422.24" y2="647.8" stroke="#333" stroke-width="1"/>
<text x="422.24" y="664.3" font-size="13.6" text-anchor="middle" fill="#000" font-weight="bold"><tspan>30</tspan></text>
<text x="358.3" y="680.4" font-size="14.7" text-anchor="middle" fill="#000" font-weight="bold"><tspan>Day</tspan></text>
<text x="259.4" y="596" font-size="15" text-anchor="middle" fill="#000" font-weight="bold" transform="rotate(-90 259.4 596)"><tspan>Allodynia score</tspan></text>
<line x1="351.36" y1="571" x2="351.36" y2="583" stroke="#c49a58" stroke-width="0.9"/>
<line x1="349.16" y1="571" x2="353.56" y2="571" stroke="#c49a58" stroke-width="0.9"/>
<line x1="349.16" y1="583" x2="353.56" y2="583" stroke="#c49a58" stroke-width="0.9"/>
<line x1="386.8" y1="570" x2="386.8" y2="581" stroke="#c49a58" stroke-width="0.9"/>
<line x1="384.6" y1="570" x2="389.0" y2="570" stroke="#c49a58" stroke-width="0.9"/>
<line x1="384.6" y1="581" x2="389.0" y2="581" stroke="#c49a58" stroke-width="0.9"/>
<line x1="404.52" y1="566" x2="404.52" y2="581" stroke="#c49a58" stroke-width="0.9"/>
<line x1="402.32" y1="566" x2="406.71999999999997" y2="566" stroke="#c49a58" stroke-width="0.9"/>
<line x1="402.32" y1="581" x2="406.71999999999997" y2="581" stroke="#c49a58" stroke-width="0.9"/>
<line x1="422.24" y1="571" x2="422.24" y2="584" stroke="#c49a58" stroke-width="0.9"/>
<line x1="420.04" y1="571" x2="424.44" y2="571" stroke="#c49a58" stroke-width="0.9"/>
<line x1="420.04" y1="584" x2="424.44" y2="584" stroke="#c49a58" stroke-width="0.9"/>
<path d="M298.2 643.2 L315.92 579.6 L333.64 575.5 L351.36 576.6 L369.08 574.6 L386.8 575.2 L404.52 574 L422.24 577" fill="none" stroke="#b8894a" stroke-width="1.1"/>
<rect x="296.2" y="641.2" width="4" height="4" fill="#f2e2c4" stroke="#c49a58" stroke-width="0.9" rx="0"/>
<rect x="313.92" y="577.6" width="4" height="4" fill="#f2e2c4" stroke="#c49a58" stroke-width="0.9" rx="0"/>
<rect x="331.64" y="573.5" width="4" height="4" fill="#f2e2c4" stroke="#c49a58" stroke-width="0.9" rx="0"/>
<rect x="349.36" y="574.6" width="4" height="4" fill="#f2e2c4" stroke="#c49a58" stroke-width="0.9" rx="0"/>
<rect x="367.08" y="572.6" width="4" height="4" fill="#f2e2c4" stroke="#c49a58" stroke-width="0.9" rx="0"/>
<rect x="384.8" y="573.2" width="4" height="4" fill="#f2e2c4" stroke="#c49a58" stroke-width="0.9" rx="0"/>
<rect x="402.52" y="572.0" width="4" height="4" fill="#f2e2c4" stroke="#c49a58" stroke-width="0.9" rx="0"/>
<rect x="420.24" y="575.0" width="4" height="4" fill="#f2e2c4" stroke="#c49a58" stroke-width="0.9" rx="0"/>
<line x1="298.2" y1="639" x2="298.2" y2="645" stroke="#111" stroke-width="0.9"/>
<line x1="296.0" y1="639" x2="300.4" y2="639" stroke="#111" stroke-width="0.9"/>
<line x1="296.0" y1="645" x2="300.4" y2="645" stroke="#111" stroke-width="0.9"/>
<line x1="333.64" y1="566" x2="333.64" y2="576" stroke="#111" stroke-width="0.9"/>
<line x1="331.44" y1="566" x2="335.84" y2="566" stroke="#111" stroke-width="0.9"/>
<line x1="331.44" y1="576" x2="335.84" y2="576" stroke="#111" stroke-width="0.9"/>
<line x1="369.08" y1="567" x2="369.08" y2="577" stroke="#111" stroke-width="0.9"/>
<line x1="366.88" y1="567" x2="371.28" y2="567" stroke="#111" stroke-width="0.9"/>
<line x1="366.88" y1="577" x2="371.28" y2="577" stroke="#111" stroke-width="0.9"/>
<line x1="404.52" y1="569" x2="404.52" y2="577" stroke="#111" stroke-width="0.9"/>
<line x1="402.32" y1="569" x2="406.71999999999997" y2="569" stroke="#111" stroke-width="0.9"/>
<line x1="402.32" y1="577" x2="406.71999999999997" y2="577" stroke="#111" stroke-width="0.9"/>
<line x1="422.24" y1="564" x2="422.24" y2="574" stroke="#111" stroke-width="0.9"/>
<line x1="420.04" y1="564" x2="424.44" y2="564" stroke="#111" stroke-width="0.9"/>
<line x1="420.04" y1="574" x2="424.44" y2="574" stroke="#111" stroke-width="0.9"/>
<path d="M298.2 641.8 L315.92 572.3 L333.64 571.1 L351.36 574 L369.08 572.3 L386.8 571.1 L404.52 573.1 L422.24 569.3" fill="none" stroke="#111" stroke-width="1.1"/>
<circle cx="298.2" cy="641.8" r="2.3" fill="#fff" stroke="#111" stroke-width="1"/>
<circle cx="315.92" cy="572.3" r="2.3" fill="#fff" stroke="#111" stroke-width="1"/>
<circle cx="333.64" cy="571.1" r="2.3" fill="#fff" stroke="#111" stroke-width="1"/>
<circle cx="351.36" cy="574" r="2.3" fill="#fff" stroke="#111" stroke-width="1"/>
<circle cx="369.08" cy="572.3" r="2.3" fill="#fff" stroke="#111" stroke-width="1"/>
<circle cx="386.8" cy="571.1" r="2.3" fill="#fff" stroke="#111" stroke-width="1"/>
<circle cx="404.52" cy="573.1" r="2.3" fill="#fff" stroke="#111" stroke-width="1"/>
<circle cx="422.24" cy="569.3" r="2.3" fill="#fff" stroke="#111" stroke-width="1"/>
<g transform="translate(423.5 526) scale(1.0)"><path d="M-0.5 31.5 C10 30 25 32 38 33.5 C43 34.2 45 33 44.5 29 L43.5 26.5" fill="none" stroke="#b77f7c" stroke-width="1.6" stroke-linecap="round"/><path d="M0.6 11.5 C1.2 9 3.5 7.5 6 6.8 C9 3 15 0.6 24 0.8 C34 1.2 41.5 8 42.4 18 C42.9 23 42 26.5 39.5 28 L19 28.6 C14.5 28.6 11 27.6 9 26 C5 23 2.4 17.5 0.6 11.5 Z" fill="#4a4543"/><path d="M24 0.8 C34 1.2 41.5 8 42.4 18 C42.9 23 42 26.5 39.5 28 L28 28.6 C33 24 34 12 24 0.8 Z" fill="#3d3937"/><path d="M6 6.8 C9 3 15 0.6 24 0.8 C18 3 14 8 13 14 C11 18 9 20 7 20 C4 17 2 14 0.6 11.5 C1.2 9 3.5 7.5 6 6.8Z" fill="#55504d"/><ellipse cx="10.8" cy="4.8" rx="2.2" ry="3.2" fill="#c79a98" stroke="#4a4543" stroke-width="1" transform="rotate(15 10.8 4.8)"/><circle cx="8" cy="12" r="0.9" fill="#111"/><circle cx="0.8" cy="11.6" r="1.2" fill="#3a3533"/><path d="M11 26 C12 29.5 15 30 17 28.5 L16 26Z" fill="#d9a5a2"/></g>
<g transform="translate(439.9 556.6) scale(1.0)"><path d="M0 0 L0.5 2.5 H-0.5 Z" fill="#8ab"/><rect x="-2.7" y="2.5" width="5.4" height="17" fill="#bfe0f2" stroke="#8fb0c8" stroke-width="0.5"/><rect x="-2.7" y="19.2" width="5.4" height="1.6" fill="#333"/><rect x="-2" y="20.8" width="4" height="3.4" fill="#ececec" stroke="#aaa" stroke-width="0.4"/><rect x="-4.6" y="24" width="9.2" height="1.4" fill="#e8e8e8" stroke="#aaa" stroke-width="0.4" rx="0.6"/><rect x="-1.8" y="25.4" width="3.6" height="17.5" fill="#f2f2f2" stroke="#b0b0b0" stroke-width="0.4"/><rect x="-3.8" y="42.6" width="7.6" height="1.8" fill="#eee" stroke="#aaa" stroke-width="0.4" rx="0.8"/></g>
<text x="426.4" y="617.8" font-size="13.3" text-anchor="start" fill="#000" font-weight="bold"><tspan>Water</tspan></text>
<text x="474.8" y="496.8" font-size="19" text-anchor="start" fill="#000" font-weight="bold"><tspan>i</tspan></text>
<text x="514.2" y="506.4" font-size="15.45" text-anchor="start" fill="#000" font-weight="bold"><tspan>Mechanical allodynia</tspan></text>
<line x1="508.6" y1="516.1" x2="519.1" y2="516.1" stroke="#333" stroke-width="1"/>
<circle cx="513.8" cy="516.1" r="2.4" fill="#d0d0d0" stroke="#333" stroke-width="0.9"/>
<text x="521.6" y="520.2" font-size="13.6" text-anchor="start" fill="#000" font-weight="bold"><tspan>Control</tspan></text>
<line x1="508.6" y1="532.6" x2="519.1" y2="532.6" stroke="#b8894a" stroke-width="1"/>
<rect x="511.4" y="530.2" width="4.8" height="4.8" fill="#f2e2c4" stroke="#c49a58" stroke-width="1" rx="0"/>
<text x="521.6" y="537.4" font-size="13.6" text-anchor="start" fill="#000" font-weight="bold"><tspan>Trhr</tspan><tspan dy="-4.62" font-size="7.48">Lbx1</tspan><tspan dy="4.62">-Abl</tspan></text>
<path d="M601.3 516.1 H605.2 V532.6 H601.3" fill="none" stroke="#111" stroke-width="1.25"/>
<text x="612.6" y="529.4" font-size="14" text-anchor="start" fill="#000" font-weight="bold"><tspan>ns</tspan></text>
<line x1="521.5" y1="546.8000000000001" x2="521.5" y2="645.6" stroke="#333" stroke-width="1.1"/>
<line x1="516.9" y1="547.3000000000001" x2="521.5" y2="547.3000000000001" stroke="#333" stroke-width="1.1"/>
<text x="514.564" y="552.3055" font-size="14.1" text-anchor="end" fill="#000" font-weight="bold"><tspan>0.6</tspan></text>
<line x1="516.9" y1="579.9" x2="521.5" y2="579.9" stroke="#333" stroke-width="1.1"/>
<text x="514.564" y="584.9055" font-size="14.1" text-anchor="end" fill="#000" font-weight="bold"><tspan>0.4</tspan></text>
<line x1="516.9" y1="612.5" x2="521.5" y2="612.5" stroke="#333" stroke-width="1.1"/>
<text x="514.564" y="617.5055" font-size="14.1" text-anchor="end" fill="#000" font-weight="bold"><tspan>0.2</tspan></text>
<line x1="516.9" y1="645.1" x2="521.5" y2="645.1" stroke="#333" stroke-width="1.1"/>
<text x="514.564" y="650.1055" font-size="14.1" text-anchor="end" fill="#000" font-weight="bold"><tspan>0.0</tspan></text>
<line x1="521.5" y1="645.1" x2="670" y2="645.1" stroke="#333" stroke-width="1"/>
<line x1="533.9" y1="645.1" x2="533.9" y2="648.3" stroke="#333" stroke-width="1"/>
<text x="533.9" y="664.3" font-size="13.6" text-anchor="middle" fill="#000" font-weight="bold"><tspan>BSL</tspan></text>
<line x1="551.64" y1="645.1" x2="551.64" y2="648.3" stroke="#333" stroke-width="1"/>
<text x="551.64" y="664.3" font-size="13.6" text-anchor="middle" fill="#000" font-weight="bold"><tspan>1</tspan></text>
<line x1="569.38" y1="645.1" x2="569.38" y2="648.3" stroke="#333" stroke-width="1"/>
<text x="569.38" y="664.3" font-size="13.6" text-anchor="middle" fill="#000" font-weight="bold"><tspan>3</tspan></text>
<line x1="587.12" y1="645.1" x2="587.12" y2="648.3" stroke="#333" stroke-width="1"/>
<text x="587.12" y="664.3" font-size="13.6" text-anchor="middle" fill="#000" font-weight="bold"><tspan>5</tspan></text>
<line x1="604.86" y1="645.1" x2="604.86" y2="648.3" stroke="#333" stroke-width="1"/>
<text x="604.86" y="664.3" font-size="13.6" text-anchor="middle" fill="#000" font-weight="bold"><tspan>7</tspan></text>
<line x1="622.6" y1="645.1" x2="622.6" y2="648.3" stroke="#333" stroke-width="1"/>
<text x="622.6" y="664.3" font-size="13.6" text-anchor="middle" fill="#000" font-weight="bold"><tspan>14</tspan></text>
<line x1="640.34" y1="645.1" x2="640.34" y2="648.3" stroke="#333" stroke-width="1"/>
<text x="640.34" y="664.3" font-size="13.6" text-anchor="middle" fill="#000" font-weight="bold"><tspan>21</tspan></text>
<line x1="658.08" y1="645.1" x2="658.08" y2="648.3" stroke="#333" stroke-width="1"/>
<text x="658.08" y="664.3" font-size="13.6" text-anchor="middle" fill="#000" font-weight="bold"><tspan>30</tspan></text>
<text x="590.7" y="679.8" font-size="14.7" text-anchor="middle" fill="#000" font-weight="bold"><tspan>Day</tspan></text>
<text x="490.6" y="596" font-size="15.2" text-anchor="middle" fill="#000" font-weight="bold" transform="rotate(-90 490.6 596)"><tspan>Threshold (g)</tspan></text>
<line x1="533.9" y1="555.8" x2="533.9" y2="574.6" stroke="#c49a58" stroke-width="0.9"/>
<line x1="531.5" y1="555.8" x2="536.3" y2="555.8" stroke="#c49a58" stroke-width="0.9"/>
<line x1="531.5" y1="574.6" x2="536.3" y2="574.6" stroke="#c49a58" stroke-width="0.9"/>
<path d="M533.9 564.5 L551.64 640.2 L569.38 641.4 L587.12 640 L604.86 640 L622.6 641.4 L640.34 640.2 L658.08 640.8" fill="none" stroke="#b8894a" stroke-width="1.1"/>
<rect x="531.9" y="562.5" width="4" height="4" fill="#f2e2c4" stroke="#c49a58" stroke-width="0.9" rx="0"/>
<rect x="549.64" y="638.2" width="4" height="4" fill="#f2e2c4" stroke="#c49a58" stroke-width="0.9" rx="0"/>
<rect x="567.38" y="639.4" width="4" height="4" fill="#f2e2c4" stroke="#c49a58" stroke-width="0.9" rx="0"/>
<rect x="585.12" y="638.0" width="4" height="4" fill="#f2e2c4" stroke="#c49a58" stroke-width="0.9" rx="0"/>
<rect x="602.86" y="638.0" width="4" height="4" fill="#f2e2c4" stroke="#c49a58" stroke-width="0.9" rx="0"/>
<rect x="620.6" y="639.4" width="4" height="4" fill="#f2e2c4" stroke="#c49a58" stroke-width="0.9" rx="0"/>
<rect x="638.34" y="638.2" width="4" height="4" fill="#f2e2c4" stroke="#c49a58" stroke-width="0.9" rx="0"/>
<rect x="656.08" y="638.8" width="4" height="4" fill="#f2e2c4" stroke="#c49a58" stroke-width="0.9" rx="0"/>
<line x1="533.9" y1="561.5" x2="533.9" y2="575" stroke="#111" stroke-width="0.9"/>
<line x1="531.6999999999999" y1="561.5" x2="536.1" y2="561.5" stroke="#111" stroke-width="0.9"/>
<line x1="531.6999999999999" y1="575" x2="536.1" y2="575" stroke="#111" stroke-width="0.9"/>
<path d="M533.9 566.6 L551.64 636.3 L569.38 638.4 L587.12 640.8 L604.86 638.4 L622.6 638.4 L640.34 640.8 L658.08 640.8" fill="none" stroke="#111" stroke-width="1.1"/>
<circle cx="533.9" cy="566.6" r="2.3" fill="#fff" stroke="#111" stroke-width="1"/>
<circle cx="551.64" cy="636.3" r="2.3" fill="#fff" stroke="#111" stroke-width="1"/>
<circle cx="569.38" cy="638.4" r="2.3" fill="#fff" stroke="#111" stroke-width="1"/>
<circle cx="587.12" cy="640.8" r="2.3" fill="#fff" stroke="#111" stroke-width="1"/>
<circle cx="604.86" cy="638.4" r="2.3" fill="#fff" stroke="#111" stroke-width="1"/>
<circle cx="622.6" cy="638.4" r="2.3" fill="#fff" stroke="#111" stroke-width="1"/>
<circle cx="640.34" cy="640.8" r="2.3" fill="#fff" stroke="#111" stroke-width="1"/>
<circle cx="658.08" cy="640.8" r="2.3" fill="#fff" stroke="#111" stroke-width="1"/>
<g transform="translate(639.5 523) scale(1.0)"><path d="M-0.5 31.5 C10 30 25 32 38 33.5 C43 34.2 45 33 44.5 29 L43.5 26.5" fill="none" stroke="#b77f7c" stroke-width="1.6" stroke-linecap="round"/><path d="M0.6 11.5 C1.2 9 3.5 7.5 6 6.8 C9 3 15 0.6 24 0.8 C34 1.2 41.5 8 42.4 18 C42.9 23 42 26.5 39.5 28 L19 28.6 C14.5 28.6 11 27.6 9 26 C5 23 2.4 17.5 0.6 11.5 Z" fill="#4a4543"/><path d="M24 0.8 C34 1.2 41.5 8 42.4 18 C42.9 23 42 26.5 39.5 28 L28 28.6 C33 24 34 12 24 0.8 Z" fill="#3d3937"/><path d="M6 6.8 C9 3 15 0.6 24 0.8 C18 3 14 8 13 14 C11 18 9 20 7 20 C4 17 2 14 0.6 11.5 C1.2 9 3.5 7.5 6 6.8Z" fill="#55504d"/><ellipse cx="10.8" cy="4.8" rx="2.2" ry="3.2" fill="#c79a98" stroke="#4a4543" stroke-width="1" transform="rotate(15 10.8 4.8)"/><circle cx="8" cy="12" r="0.9" fill="#111"/><circle cx="0.8" cy="11.6" r="1.2" fill="#3a3533"/><path d="M11 26 C12 29.5 15 30 17 28.5 L16 26Z" fill="#d9a5a2"/></g>
<rect x="616" y="572.2" width="20" height="3" fill="#f0f0f0" stroke="#c8c8c8" stroke-width="0.5" rx="0"/>
<rect x="636" y="572.2" width="24" height="3" fill="#e08a60" stroke="#c87048" stroke-width="0.4" rx="0"/>
<rect x="659.6" y="570.4" width="4.4" height="7.6" fill="#eeeeee" stroke="#bbb" stroke-width="0.5" rx="1"/>
<path d="M661.8 570.6 C661.4 566 662.4 562 661.2 559.4 C660.6 558 661.4 557 662.4 557.4" fill="none" stroke="#c8a040" stroke-width="0.8"/>
<text x="625.8" y="600.5" font-size="13.4" text-anchor="start" fill="#000" font-weight="bold"><tspan>von Frey</tspan></text>
<text x="2.2" y="704.4" font-size="19" text-anchor="start" fill="#000" font-weight="bold"><tspan>j</tspan></text>
<text x="5.5" y="725.4" font-size="15.35" text-anchor="start" fill="#000" font-weight="bold" font-style="italic"><tspan>Trhr</tspan><tspan dy="-5.22" font-size="8.9">iCre</tspan><tspan dy="5.22">;Lbx1</tspan><tspan dy="-5.22" font-size="8.9">Flpo</tspan><tspan dy="5.22">;ReaChR</tspan></text>
<text x="213.4" y="731.8" font-size="14.4" text-anchor="start" fill="#000" font-weight="bold"><tspan>473nm</tspan></text>
<text x="206.2" y="748.9" font-size="14" text-anchor="start" fill="#000" font-weight="bold"><tspan>Blue light</tspan></text>
<path d="M57 762.3 H189.8 L225 783.3 V866.5 H91.1 L57 834.4Z" fill="#eef4f8"/>
<path d="M91.1 783.3 H225 V866.5 H91.1Z" fill="#e9f0f6"/>
<g stroke="#aebfce" stroke-width="0.9" fill="none"><path d="M57 762.3 H189.8 V833.6 H57Z"/><path d="M91.1 783.3 H225 V866.5 H91.1Z"/><path d="M57 762.3 L91.1 783.3 M189.8 762.3 L225 783.3 M57 834.4 L91.1 866.5 M189.8 833.6 L225 866.5"/></g>
<g><path d="M160 846 C170 850 185 849 196 848 C203 847.5 207 850 206 855 C205.5 857 204 858 203 858.5" fill="none" stroke="#c9a7a4" stroke-width="1.6" stroke-linecap="round"/><path d="M105.5 846 C108 840 112 836 117 834 C122 829.5 130 826 139 825 C150 824.5 160 830 164 838 C166.5 844 165 850 159 853 C150 855.5 138 855 126 854.5 C117 854 110 851 105.5 846Z" fill="#8f8f8f"/><path d="M139 825 C150 824.5 160 830 164 838 C166.5 844 165 850 159 853 C156 852 160 840 150 830 C146 827 142 826 139 825Z" fill="#7f7f7f"/><path d="M105.5 846 C108 840 112 836 117 834 C119 838 118 843 116 847 C112 849 108 848 105.5 846Z" fill="#9c9c9c"/><ellipse cx="124.8" cy="832.6" rx="3.4" ry="4.2" fill="#d2b3b3" stroke="#8f8f8f" stroke-width="1.1" transform="rotate(-15 124.8 832.6)"/><circle cx="114.4" cy="841.5" r="0.9" fill="#333"/><path d="M116 853 C114 855 111 856 109 856 M130 854.5 C128 857 126 858 124 858 M152 854 C155 856 158 857 160 857" stroke="#d4aeae" stroke-width="1.4" fill="none"/><ellipse cx="143.6" cy="826" rx="3" ry="1.4" fill="#c8c0b8"/></g>
<path d="M146.8 812 C150 805 153.5 798 156 793 C160 784 164 777 167.6 770.7 C171 765 175 760 180 755.5 C186 750.5 192 747.5 198 745.8" fill="none" stroke="#3a3a3a" stroke-width="1.1"/>
<rect x="-1.9" y="-7.6" width="3.8" height="15.2" rx="1" fill="#5a5a5a" transform="translate(144.3 820) rotate(12)"/>
<rect x="136.5" y="808.3" width="16.1" height="24.1" fill="none" stroke="#333" stroke-width="0.9" rx="0"/>
<path d="M152.6 808.3 L232 773.4" fill="none" stroke="#222" stroke-width="0.9" stroke-dasharray="2.6 1.8"/>
<path d="M152.6 832.4 L232 866.8" fill="none" stroke="#222" stroke-width="0.9" stroke-dasharray="2.6 1.8"/>
<g><path d="M14.6 789 L27.7 787.8 L58.4 798.5 L51 820 L43 821.5 L8.8 808.7Z" fill="#3c3c3c"/><path d="M14.6 789 L27.7 787.8 L58.4 798.5 L49.6 800Z" fill="#585858"/><path d="M49.6 800 L58.4 798.5 L51 820 L43 821.5Z" fill="#2a2a2a"/><path d="M16.5 792.5 L21.5 793.8 L18.5 808 L13.5 806.4Z" fill="#262626"/><path d="M50 803.5 L68 806.5 L68 821.5 L48.5 819.5Z" fill="#2e2e2e"/><path d="M56 804.5 L56 820.4 M60 805.2 L60 820.8 M64 805.8 L64 821.2" stroke="#4a4a4a" stroke-width="0.8"/><ellipse cx="69" cy="814" rx="4.6" ry="7.8" fill="#262626"/><ellipse cx="70.4" cy="814" rx="3.2" ry="5.8" fill="#3c3c3c" stroke="#1a1a1a" stroke-width="0.6"/><ellipse cx="71" cy="814" rx="1.8" ry="3.6" fill="#6a6a6a"/></g>
<text x="5" y="836.8" font-size="13.7" text-anchor="start" fill="#000" font-weight="bold"><tspan>Highspeed</tspan></text>
<text x="17.5" y="853.1" font-size="13.6" text-anchor="start" fill="#000" font-weight="bold"><tspan>Camera</tspan></text>
<rect x="232" y="773.2" width="43.5" height="94.2" fill="#fff" stroke="#222" stroke-width="1" rx="0"/>
<ellipse cx="252.8" cy="842.3" rx="16.9" ry="19.7" fill="#786a5e"/>
<path d="M243 833 L262 833 L267.3 838 L267.3 847 L263 851.9 L243 851.9 L239.2 847 L239.2 838Z" fill="#6e2222" stroke="#e07a66" stroke-width="1"/>
<rect x="240" y="840.6" width="27" height="5.4" fill="#efe08c" stroke="#d8c070" stroke-width="0.4" rx="0"/>
<rect x="242" y="846" width="22" height="2.6" fill="#e8d8b0" stroke="none" stroke-width="1" rx="0"/>
<path d="M272.7 773.2 L266 784" fill="none" stroke="#2a2a2a" stroke-width="3.6"/>
<rect x="-5.6" y="-18" width="11.2" height="36" rx="2.6" fill="#333" stroke="#111" stroke-width="0.6" transform="translate(263.3 801.8) rotate(10)"/>
<path d="M260 819 L256.6 830" fill="none" stroke="#2a2a2a" stroke-width="5.4"/>
<path d="M256.6 830 L254.4 843" fill="none" stroke="#5cbff5" stroke-width="5.4"/>
<path d="M256.4 831 L254.8 841" fill="none" stroke="#a8e4ff" stroke-width="2"/>
<text x="281" y="704" font-size="19" text-anchor="start" fill="#000" font-weight="bold"><tspan>k</tspan></text>
<rect x="308.2" y="706.2" width="114.1" height="14.8" fill="#fff" stroke="#222" stroke-width="1" rx="0"/>
<rect x="422.3" y="706.2" width="113.6" height="14.8" fill="#fff" stroke="#222" stroke-width="1" rx="0"/>
<text x="366.2" y="718.4" font-size="13.7" text-anchor="middle" fill="#000" font-weight="bold"><tspan>OFF</tspan></text>
<text x="479.8" y="718.4" font-size="13.7" text-anchor="middle" fill="#000" font-weight="bold"><tspan>ON</tspan></text>
<rect x="293.3" y="721" width="14.9" height="145.2" fill="#fff" stroke="#222" stroke-width="1" rx="0"/>
<line x1="293.3" y1="794.5" x2="308.2" y2="794.5" stroke="#222" stroke-width="1"/>
<text x="305.6" y="757" font-size="13.8" text-anchor="middle" fill="#000" font-weight="bold" transform="rotate(-90 305.6 757)"><tspan>Control</tspan></text>
<text x="305.4" y="865.2" font-size="12.8" text-anchor="start" fill="#000" font-weight="bold" transform="rotate(-90 305.4 865.2)"><tspan>Trhr</tspan><tspan dy="-4.35" font-size="7.04">Lbx1-ReaChR</tspan></text>
<filter id="fur" x="0" y="0" width="100%" height="100%"><feTurbulence type="fractalNoise" baseFrequency="0.35" numOctaves="2" seed="3" result="n"/><feColorMatrix in="n" type="matrix" values="0 0 0 0 0.25  0 0 0 0 0.18  0 0 0 0 0.1  0 0 0 3.2 -1.25" result="c"/><feComposite in="c" in2="SourceAlpha" operator="in"/></filter>
<filter id="pbl" x="-50%" y="-50%" width="200%" height="200%"><feGaussianBlur stdDeviation="3"/></filter>
<clipPath id="ph1"><rect x="308.6" y="721" width="113.7" height="70.6"/></clipPath>
<g clip-path="url(#ph1)">
<linearGradient id="gph1" x1="0" y1="0" x2="0" y2="1"><stop offset="0" stop-color="#ddd3c6"/><stop offset="0.28" stop-color="#e8e0d8"/><stop offset="0.4" stop-color="#f7f2f2"/><stop offset="1" stop-color="#fbf6f8"/></linearGradient>
<rect x="308.6" y="721" width="113.7" height="70.6" fill="url(#gph1)" stroke="none" stroke-width="1" rx="0"/>
<rect x="318" y="721" width="50" height="6.5" fill="#cdb032" stroke="none" stroke-width="1" rx="0"/>
<rect x="318" y="727.5" width="50" height="3" fill="#e2d6a8" stroke="none" stroke-width="1" rx="0"/>
<path d="M330 782 C320 783 312 782 309 780 M311 771 C306 769 306 775 312 775" fill="none" stroke="#6f6052" stroke-width="2.6"/>
<linearGradient id="mph1" x1="0" y1="0" x2="0" y2="1"><stop offset="0" stop-color="#5e4a32"/><stop offset="0.5" stop-color="#7e6446"/><stop offset="1" stop-color="#98805e"/></linearGradient>
<ellipse cx="350" cy="787.5" rx="5" ry="2" fill="#d8a8a0"/>
<ellipse cx="400" cy="787" rx="5" ry="2" fill="#d8a8a0"/>
<path d="M326 783 C328 772 336 762 350 752 C358 748 368 746 380 746 C392 746 402 750 408 757 C413 763 416 770 417.5 777 C417 781 414 784 408 785.5 C395 787.5 370 787.5 340 787 C332 787 326 786 326 783Z" fill="url(#mph1)" stroke="none" stroke-width="1"/>
<path d="M326 783 C328 772 336 762 350 752 C358 748 368 746 380 746 C392 746 402 750 408 757 C413 763 416 770 417.5 777 C417 781 414 784 408 785.5 C395 787.5 370 787.5 340 787 C332 787 326 786 326 783Z" fill="#000" filter="url(#fur)" opacity="0.5"/>
<ellipse cx="400" cy="756" rx="4.2" ry="6" fill="#9a7660" stroke="#6e5640" stroke-width="0.8" transform="rotate(-20 400 756)"/>
<ellipse cx="400" cy="756" rx="2.3100000000000005" ry="3.5999999999999996" fill="#c49488" transform="rotate(-20 400 756)"/>
<circle cx="409.5" cy="766" r="1.2" fill="#1a1208" stroke="none" stroke-width="0"/>
<line x1="352.3" y1="721" x2="361.6" y2="748" stroke="#15151f" stroke-width="3.2"/>
<circle cx="361.6" cy="749.5" r="2.6" fill="#c85060" stroke="none" stroke-width="0"/>
<linearGradient id="igph1" x1="0" y1="0" x2="0" y2="1"><stop offset="0" stop-color="#7e6446"/><stop offset="0.45" stop-color="#947a5c"/><stop offset="0.7" stop-color="#b89888"/><stop offset="0.8" stop-color="#d8d0c6"/><stop offset="1" stop-color="#e4dcd4"/></linearGradient>
<rect x="367.7" y="721.5" width="53.8" height="24.9" fill="url(#igph1)" stroke="#222" stroke-width="1" rx="0"/>
<ellipse cx="397.2" cy="741.4" rx="10" ry="3.4" fill="#dcaaa0" opacity="0.8"/>
<line x1="391.2" y1="725" x2="391.2" y2="733.4" stroke="#fff" stroke-width="2.2"/>
<path d="M388.4 732.8 L394.0 732.8 L391.2 736.4Z" fill="#fff" stroke="none" stroke-width="1"/>
</g>
<line x1="308.6" y1="790.1" x2="422.3" y2="790.1" stroke="#111" stroke-width="1.6" stroke-dasharray="2.6 2"/>
<clipPath id="ph2"><rect x="422.7" y="721" width="113.2" height="70.6"/></clipPath>
<g clip-path="url(#ph2)">
<linearGradient id="gph2" x1="0" y1="0" x2="0" y2="1"><stop offset="0" stop-color="#ddd3c6"/><stop offset="0.28" stop-color="#e8e0d8"/><stop offset="0.4" stop-color="#f7f2f2"/><stop offset="1" stop-color="#fbf6f8"/></linearGradient>
<rect x="422.7" y="721" width="113.2" height="70.6" fill="url(#gph2)" stroke="none" stroke-width="1" rx="0"/>
<rect x="436" y="721" width="44" height="6.5" fill="#cdb032" stroke="none" stroke-width="1" rx="0"/>
<rect x="436" y="727.5" width="44" height="3" fill="#e2d6a8" stroke="none" stroke-width="1" rx="0"/>
<path d="M440 782 C432 783 425 782 423 780 M426 768 C420 768 421 775 428 773" fill="none" stroke="#6f6052" stroke-width="2.6"/>
<linearGradient id="mph2" x1="0" y1="0" x2="0" y2="1"><stop offset="0" stop-color="#5e4a32"/><stop offset="0.5" stop-color="#7e6446"/><stop offset="1" stop-color="#98805e"/></linearGradient>
<ellipse cx="470" cy="786.5" rx="5" ry="2" fill="#d8a8a0"/>
<ellipse cx="512" cy="785.5" rx="5" ry="2" fill="#d8a8a0"/>
<path d="M439 785 C439 776 445 765 455 758 C462 752 468 746 474 744.5 C485 742 497 743 506 745 C514 746 522 747 528 749 C531 750.5 532.5 752.5 531.5 754.5 C529 757.5 526 759 524 761 C521 766 520 772 518 776 C516 781 512 784 505 785.5 C485 786.5 460 786.5 439 785Z" fill="url(#mph2)" stroke="none" stroke-width="1"/>
<path d="M439 785 C439 776 445 765 455 758 C462 752 468 746 474 744.5 C485 742 497 743 506 745 C514 746 522 747 528 749 C531 750.5 532.5 752.5 531.5 754.5 C529 757.5 526 759 524 761 C521 766 520 772 518 776 C516 781 512 784 505 785.5 C485 786.5 460 786.5 439 785Z" fill="#000" filter="url(#fur)" opacity="0.5"/>
<ellipse cx="468.4" cy="751.2" rx="14" ry="7" fill="#5048c0" opacity="0.35" filter="url(#pbl)"/>
<ellipse cx="506" cy="751" rx="4.2" ry="6" fill="#9a7660" stroke="#6e5640" stroke-width="0.8" transform="rotate(-20 506 751)"/>
<ellipse cx="506" cy="751" rx="2.3100000000000005" ry="3.5999999999999996" fill="#c49488" transform="rotate(-20 506 751)"/>
<circle cx="519" cy="750.4" r="1.2" fill="#1a1208" stroke="none" stroke-width="0"/>
<line x1="463" y1="721" x2="472.4" y2="744" stroke="#15151f" stroke-width="3.2"/>
<circle cx="472.4" cy="745.2" r="4" fill="#3040d8" stroke="none" stroke-width="0"/>
<circle cx="472.9" cy="744.7" r="2" fill="#90a8ff" stroke="none" stroke-width="0"/>
<linearGradient id="igph2" x1="0" y1="0" x2="0" y2="1"><stop offset="0" stop-color="#7e6446"/><stop offset="0.45" stop-color="#947a5c"/><stop offset="0.7" stop-color="#b89888"/><stop offset="0.8" stop-color="#d8d0c6"/><stop offset="1" stop-color="#e4dcd4"/></linearGradient>
<rect x="481.3" y="721.5" width="54.6" height="25.4" fill="url(#igph2)" stroke="#222" stroke-width="1" rx="0"/>
<ellipse cx="515.6" cy="741.4" rx="10" ry="3.4" fill="#dcaaa0" opacity="0.8"/>
<line x1="509.6" y1="725" x2="509.6" y2="733.4" stroke="#fff" stroke-width="2.2"/>
<path d="M506.8 732.8 L512.4 732.8 L509.6 736.4Z" fill="#fff" stroke="none" stroke-width="1"/>
</g>
<line x1="422.7" y1="790.1" x2="535.9" y2="790.1" stroke="#111" stroke-width="1.6" stroke-dasharray="2.6 2"/>
<clipPath id="ph3"><rect x="308.6" y="792.8" width="113.7" height="73.4"/></clipPath>
<g clip-path="url(#ph3)">
<linearGradient id="gph3" x1="0" y1="0" x2="0" y2="1"><stop offset="0" stop-color="#ddd3c6"/><stop offset="0.28" stop-color="#e8e0d8"/><stop offset="0.4" stop-color="#f7f2f2"/><stop offset="1" stop-color="#fbf6f8"/></linearGradient>
<rect x="308.6" y="792.8" width="113.7" height="73.4" fill="url(#gph3)" stroke="none" stroke-width="1" rx="0"/>
<rect x="358.8" y="797.5" width="64" height="9" fill="#cdb032" stroke="none" stroke-width="1" rx="0"/>
<rect x="358.8" y="806.5" width="64" height="3" fill="#e2d6a8" stroke="none" stroke-width="1" rx="0"/>
<linearGradient id="mph3" x1="0" y1="0" x2="0" y2="1"><stop offset="0" stop-color="#5e4e30"/><stop offset="0.5" stop-color="#7e6a46"/><stop offset="1" stop-color="#94805c"/></linearGradient>
<ellipse cx="330" cy="861" rx="5" ry="2" fill="#d8a8a0"/>
<ellipse cx="385" cy="860" rx="5" ry="2" fill="#d8a8a0"/>
<path d="M309 860 L309 848 C315 838 325 828 340 822 C352 817 362 815 372 815 C380 813 388 811 394 814 C398 818 401 822 400.5 828 C400 834 396 840 390 846 C384 854 376 858 366 860 C345 861.5 325 861.5 309 860Z" fill="url(#mph3)" stroke="none" stroke-width="1"/>
<path d="M309 860 L309 848 C315 838 325 828 340 822 C352 817 362 815 372 815 C380 813 388 811 394 814 C398 818 401 822 400.5 828 C400 834 396 840 390 846 C384 854 376 858 366 860 C345 861.5 325 861.5 309 860Z" fill="#000" filter="url(#fur)" opacity="0.5"/>
<ellipse cx="386" cy="818" rx="4.5" ry="6.5" fill="#9a7660" stroke="#6e5640" stroke-width="0.8" transform="rotate(-10 386 818)"/>
<ellipse cx="386" cy="818" rx="2.475" ry="3.9" fill="#c49488" transform="rotate(-10 386 818)"/>
<circle cx="395" cy="826" r="1.2" fill="#1a1208" stroke="none" stroke-width="0"/>
<line x1="379" y1="795.8" x2="368.9" y2="814.3" stroke="#15151f" stroke-width="3.2"/>
<circle cx="368.9" cy="815.8" r="2.6" fill="#c85060" stroke="none" stroke-width="0"/>
<linearGradient id="igph3" x1="0" y1="0" x2="0" y2="1"><stop offset="0" stop-color="#7e6446"/><stop offset="0.45" stop-color="#947a5c"/><stop offset="0.7" stop-color="#b89888"/><stop offset="0.8" stop-color="#d8d0c6"/><stop offset="1" stop-color="#e4dcd4"/></linearGradient>
<rect x="309.1" y="795.2" width="49.7" height="27.5" fill="url(#igph3)" stroke="#222" stroke-width="1" rx="0"/>
<ellipse cx="341.3" cy="816" rx="10" ry="3.4" fill="#dcaaa0" opacity="0.8"/>
<line x1="335.3" y1="799" x2="335.3" y2="808" stroke="#fff" stroke-width="2.2"/>
<path d="M332.5 807.4 L338.1 807.4 L335.3 811Z" fill="#fff" stroke="none" stroke-width="1"/>
</g>
<line x1="308.6" y1="864.6999999999999" x2="422.3" y2="864.6999999999999" stroke="#111" stroke-width="1.6" stroke-dasharray="2.6 2"/>
<clipPath id="ph4"><rect x="422.7" y="792.8" width="113.2" height="73.4"/></clipPath>
<g clip-path="url(#ph4)">
<linearGradient id="gph4" x1="0" y1="0" x2="0" y2="1"><stop offset="0" stop-color="#ddd3c6"/><stop offset="0.28" stop-color="#e8e0d8"/><stop offset="0.4" stop-color="#f7f2f2"/><stop offset="1" stop-color="#fbf6f8"/></linearGradient>
<rect x="422.7" y="792.8" width="113.2" height="73.4" fill="url(#gph4)" stroke="none" stroke-width="1" rx="0"/>
<rect x="472.4" y="800" width="64" height="10" fill="#cdb032" stroke="none" stroke-width="1" rx="0"/>
<rect x="472.4" y="810" width="64" height="3" fill="#e2d6a8" stroke="none" stroke-width="1" rx="0"/>
<path d="M438 852 C432 852 426 851 423 851" fill="none" stroke="#6f6052" stroke-width="2.6"/>
<linearGradient id="mph4" x1="0" y1="0" x2="0" y2="1"><stop offset="0" stop-color="#5e4e30"/><stop offset="0.5" stop-color="#7e6a46"/><stop offset="1" stop-color="#94805c"/></linearGradient>
<ellipse cx="450" cy="860" rx="5" ry="2" fill="#d8a8a0"/>
<ellipse cx="500" cy="860" rx="5" ry="2" fill="#d8a8a0"/>
<path d="M437.5 857 C437 850 441 840 450 831 C458 825 468 821 480 819 C490 817.5 498 816.5 505 815.5 C512 818 518 826 524 834 C528 840 531 846 530.5 851 C528 855 524 857 518 858.5 C495 860 460 860 437.5 857Z" fill="url(#mph4)" stroke="none" stroke-width="1"/>
<path d="M437.5 857 C437 850 441 840 450 831 C458 825 468 821 480 819 C490 817.5 498 816.5 505 815.5 C512 818 518 826 524 834 C528 840 531 846 530.5 851 C528 855 524 857 518 858.5 C495 860 460 860 437.5 857Z" fill="#000" filter="url(#fur)" opacity="0.5"/>
<ellipse cx="485" cy="826.6" rx="14" ry="7" fill="#5048c0" opacity="0.35" filter="url(#pbl)"/>
<ellipse cx="508.6" cy="822.3" rx="4.5" ry="6.5" fill="#9a7660" stroke="#6e5640" stroke-width="0.8" transform="rotate(-10 508.6 822.3)"/>
<ellipse cx="508.6" cy="822.3" rx="2.475" ry="3.9" fill="#c49488" transform="rotate(-10 508.6 822.3)"/>
<circle cx="523.5" cy="842" r="1.2" fill="#1a1208" stroke="none" stroke-width="0"/>
<line x1="502.4" y1="795.5" x2="492" y2="818.2" stroke="#15151f" stroke-width="3.2"/>
<circle cx="489" cy="820.6" r="4" fill="#3040d8" stroke="none" stroke-width="0"/>
<circle cx="489.5" cy="820.1" r="2" fill="#90a8ff" stroke="none" stroke-width="0"/>
<linearGradient id="igph4" x1="0" y1="0" x2="0" y2="1"><stop offset="0" stop-color="#7e6446"/><stop offset="0.45" stop-color="#947a5c"/><stop offset="0.7" stop-color="#b89888"/><stop offset="0.8" stop-color="#d8d0c6"/><stop offset="1" stop-color="#e4dcd4"/></linearGradient>
<rect x="422.7" y="795.5" width="49.7" height="27.5" fill="url(#igph4)" stroke="#222" stroke-width="1" rx="0"/>
<ellipse cx="453.6" cy="811.8" rx="10" ry="3.4" fill="#dcaaa0" opacity="0.8"/>
<line x1="447.6" y1="796.5" x2="447.6" y2="803.8" stroke="#fff" stroke-width="2.2"/>
<path d="M444.8 803.1999999999999 L450.40000000000003 803.1999999999999 L447.6 806.8Z" fill="#fff" stroke="none" stroke-width="1"/>
</g>
<line x1="422.7" y1="864.6999999999999" x2="535.9" y2="864.6999999999999" stroke="#111" stroke-width="1.6" stroke-dasharray="2.6 2"/>
<text x="546.8" y="704.2" font-size="19" text-anchor="start" fill="#000" font-weight="bold"><tspan>l</tspan></text>
<circle cx="576.4" cy="709" r="2.7" fill="#c8c8c8" stroke="#333" stroke-width="1"/>
<text x="587.6" y="713" font-size="13.8" text-anchor="start" fill="#000" font-weight="bold"><tspan>Control</tspan></text>
<rect x="573.9" y="721.7" width="5" height="5" fill="#f3e3c6" stroke="#b88a4a" stroke-width="1.1" rx="0"/>
<text x="587.6" y="728.2" font-size="14" text-anchor="start" fill="#000" font-weight="bold"><tspan>Trhr</tspan><tspan dy="-4.76" font-size="7.98">Lbx1-ReaChR</tspan></text>
<line x1="583.4" y1="757.2" x2="583.4" y2="853.5" stroke="#333" stroke-width="1.1"/>
<line x1="579.1999999999999" y1="757.7" x2="583.4" y2="757.7" stroke="#333" stroke-width="1.1"/>
<text x="575.5679999999999" y="762.7410000000001" font-size="14.2" text-anchor="end" fill="#000" font-weight="bold"><tspan>5</tspan></text>
<line x1="579.1999999999999" y1="776.76" x2="583.4" y2="776.76" stroke="#333" stroke-width="1.1"/>
<text x="575.5679999999999" y="781.801" font-size="14.2" text-anchor="end" fill="#000" font-weight="bold"><tspan>4</tspan></text>
<line x1="579.1999999999999" y1="795.82" x2="583.4" y2="795.82" stroke="#333" stroke-width="1.1"/>
<text x="575.5679999999999" y="800.8610000000001" font-size="14.2" text-anchor="end" fill="#000" font-weight="bold"><tspan>3</tspan></text>
<line x1="579.1999999999999" y1="814.88" x2="583.4" y2="814.88" stroke="#333" stroke-width="1.1"/>
<text x="575.5679999999999" y="819.921" font-size="14.2" text-anchor="end" fill="#000" font-weight="bold"><tspan>2</tspan></text>
<line x1="579.1999999999999" y1="833.94" x2="583.4" y2="833.94" stroke="#333" stroke-width="1.1"/>
<text x="575.5679999999999" y="838.9810000000001" font-size="14.2" text-anchor="end" fill="#000" font-weight="bold"><tspan>1</tspan></text>
<line x1="579.1999999999999" y1="853.0" x2="583.4" y2="853.0" stroke="#333" stroke-width="1.1"/>
<text x="575.5679999999999" y="858.041" font-size="14.2" text-anchor="end" fill="#000" font-weight="bold"><tspan>0</tspan></text>
<line x1="583.4" y1="853" x2="678.7" y2="853" stroke="#333" stroke-width="1"/>
<line x1="604.6" y1="853" x2="604.6" y2="856.2" stroke="#333" stroke-width="1"/>
<line x1="656" y1="853" x2="656" y2="856.2" stroke="#333" stroke-width="1"/>
<text x="604.3" y="870.6" font-size="14" text-anchor="middle" fill="#000" font-weight="bold"><tspan>Lift</tspan></text>
<text x="658" y="870.6" font-size="14" text-anchor="middle" fill="#000" font-weight="bold"><tspan>Lick</tspan></text>
<text x="560.8" y="792.7" font-size="14.9" text-anchor="middle" fill="#000" font-weight="bold" transform="rotate(-90 560.8 792.7)"><tspan>Responses (5 trials)</tspan></text>
<path d="M594.6 850.9 V746.7 H615.6 V753.1" fill="none" stroke="#111" stroke-width="1.25"/>
<text x="605.2" y="749.6" font-size="19" text-anchor="middle" fill="#000" font-weight="bold"><tspan>***</tspan></text>
<path d="M645.4 847.7 V843.5 H666.6 V847.7" fill="none" stroke="#111" stroke-width="1.25"/>
<text x="656" y="838.3" font-size="14.4" text-anchor="middle" fill="#000" font-weight="bold"><tspan>ns</tspan></text>
<circle cx="590.4" cy="853" r="2.05" fill="#fff" stroke="#222" stroke-width="1"/>
<circle cx="594.1" cy="853" r="2.05" fill="#fff" stroke="#222" stroke-width="1"/>
<circle cx="597.8" cy="853" r="2.05" fill="#fff" stroke="#222" stroke-width="1"/>
<circle cx="601.5" cy="853" r="2.05" fill="#fff" stroke="#222" stroke-width="1"/>
<circle cx="641.8" cy="853" r="2.05" fill="#fff" stroke="#222" stroke-width="1"/>
<circle cx="645.5" cy="853" r="2.05" fill="#fff" stroke="#222" stroke-width="1"/>
<circle cx="649.2" cy="853" r="2.05" fill="#fff" stroke="#222" stroke-width="1"/>
<circle cx="652.9" cy="853" r="2.05" fill="#fff" stroke="#222" stroke-width="1"/>
<line x1="589" y1="853" x2="603" y2="853" stroke="#222" stroke-width="1.1"/>
<line x1="640.5" y1="853" x2="654.5" y2="853" stroke="#222" stroke-width="1.1"/>
<rect x="607.65" y="755.75" width="3.9" height="3.9" fill="#fff" stroke="#b08238" stroke-width="1.1" rx="0"/>
<rect x="611.45" y="755.75" width="3.9" height="3.9" fill="#fff" stroke="#b08238" stroke-width="1.1" rx="0"/>
<rect x="615.25" y="755.75" width="3.9" height="3.9" fill="#fff" stroke="#b08238" stroke-width="1.1" rx="0"/>
<rect x="619.05" y="755.75" width="3.9" height="3.9" fill="#fff" stroke="#b08238" stroke-width="1.1" rx="0"/>
<rect x="657.35" y="851.05" width="3.9" height="3.9" fill="#fff" stroke="#b08238" stroke-width="1.1" rx="0"/>
<rect x="661.15" y="851.05" width="3.9" height="3.9" fill="#fff" stroke="#b08238" stroke-width="1.1" rx="0"/>
<rect x="664.95" y="851.05" width="3.9" height="3.9" fill="#fff" stroke="#b08238" stroke-width="1.1" rx="0"/>
<rect x="668.75" y="851.05" width="3.9" height="3.9" fill="#fff" stroke="#b08238" stroke-width="1.1" rx="0"/>
<line x1="608" y1="757.7" x2="622.5" y2="757.7" stroke="#b08238" stroke-width="1.1"/>
</svg>
</body></html>
